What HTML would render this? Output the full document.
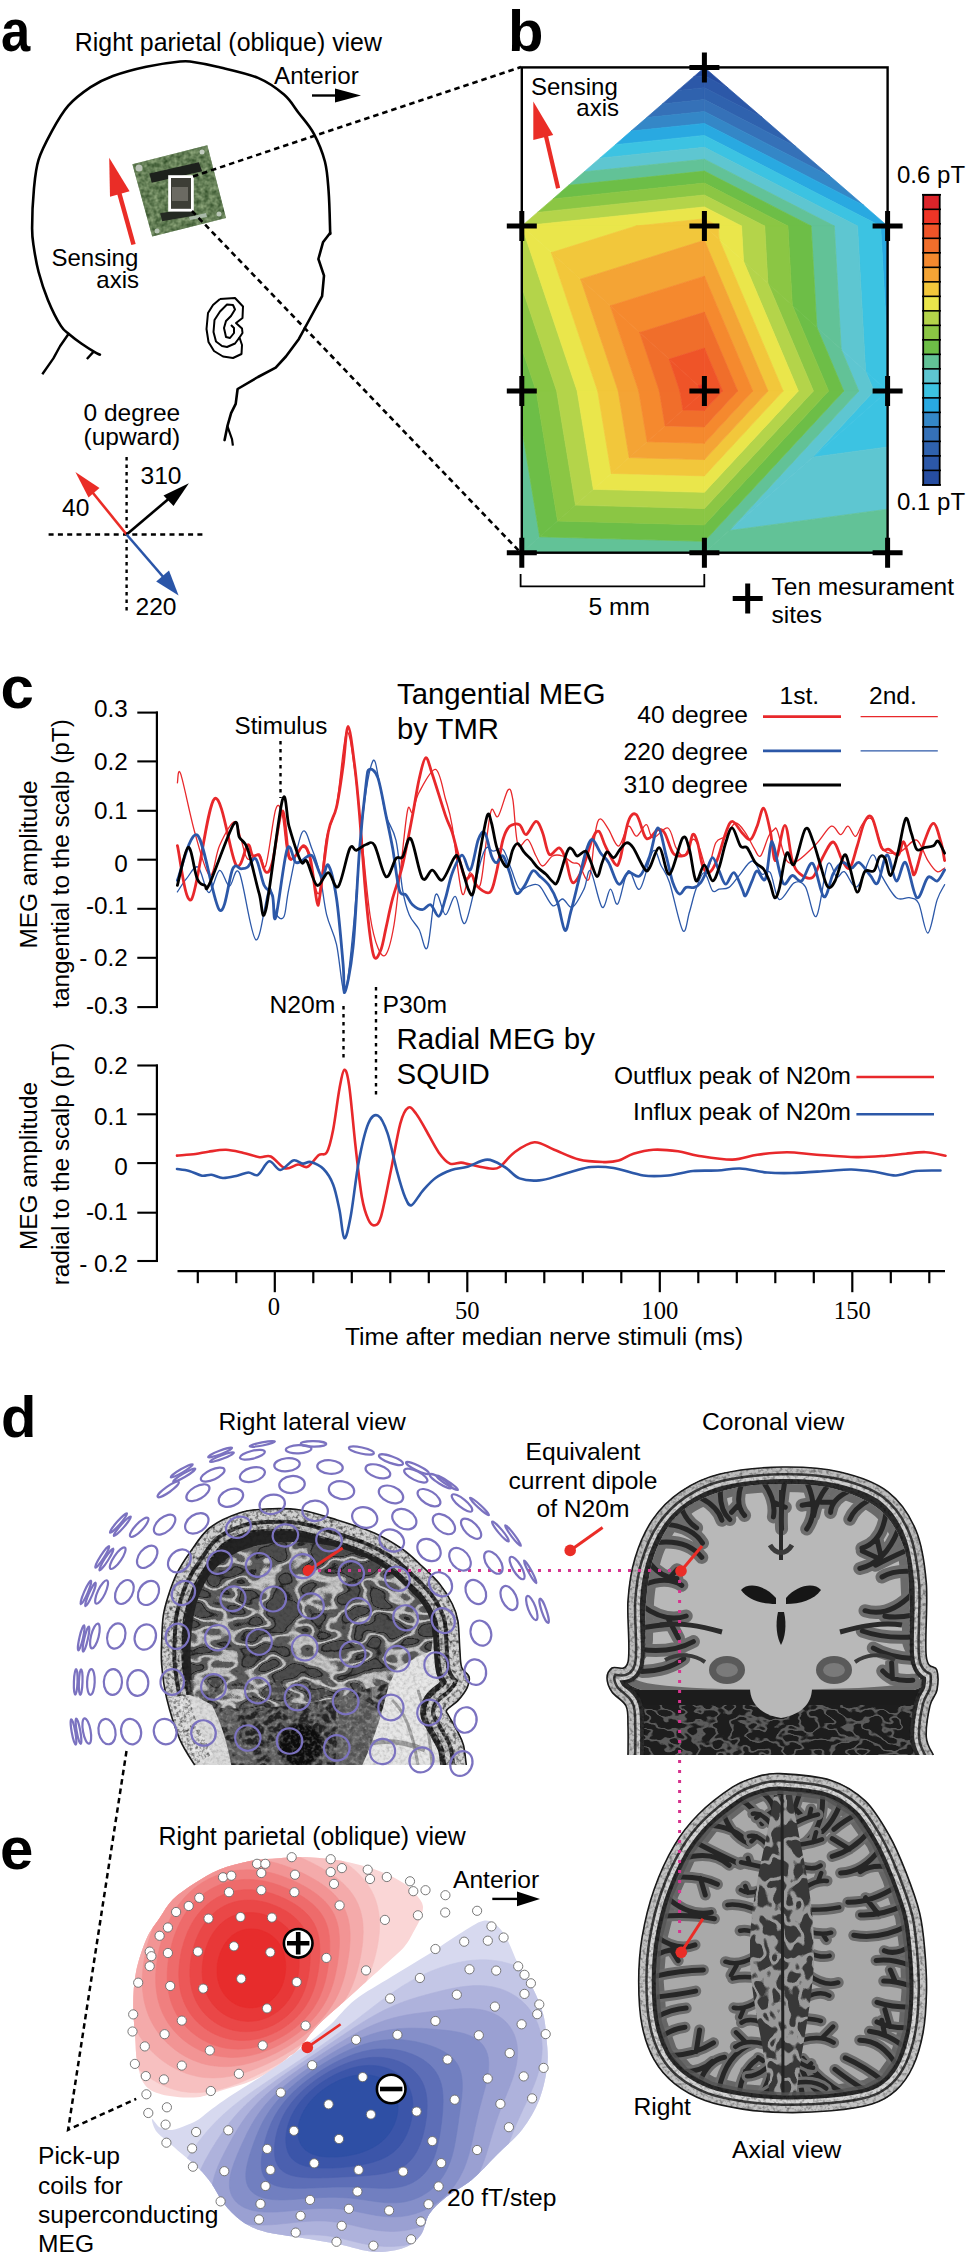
<!DOCTYPE html>
<html><head><meta charset="utf-8"><style>
html,body{margin:0;padding:0;background:#fff;width:969px;height:2262px;overflow:hidden;}
svg{display:block;}
</style></head><body>
<svg width="969" height="2262" viewBox="0 0 969 2262">
<rect width="969" height="2262" fill="#fff"/>
<path d="M99.9,354.7 C99.0,354.2 97.4,353.8 94.3,351.9 C91.2,350.0 85.5,346.4 81.3,343.5 C77.1,340.6 72.6,337.1 69.2,334.2 C65.8,331.3 64.5,331.6 60.9,325.9 C57.3,320.2 51.6,308.9 47.9,299.9 C44.2,290.9 40.9,280.7 38.6,272.0 C36.3,263.3 35.0,255.2 33.9,247.9 C32.8,240.6 32.1,238.1 32.1,228.3 C32.1,218.5 32.8,200.8 33.9,189.3 C35.0,177.9 35.6,169.2 38.6,159.6 C41.6,150.0 46.7,140.7 51.6,131.7 C56.5,122.7 61.8,113.1 68.3,105.7 C74.8,98.3 83.2,92.2 90.6,87.2 C98.0,82.2 103.6,79.4 112.9,76.0 C122.2,72.6 135.1,69.1 146.3,66.7 C157.5,64.3 172.2,62.3 180.0,61.5 C187.8,60.7 186.8,61.1 193.0,62.0 C199.2,62.9 206.4,64.0 217.2,66.7 C228.0,69.4 246.9,73.2 258.0,77.9 C269.1,82.6 277.2,88.7 284.0,94.6 C290.8,100.5 293.9,106.7 298.9,113.2 C303.9,119.7 309.5,125.5 313.8,133.6 C318.1,141.7 322.4,151.9 324.9,161.5 C327.4,171.1 327.7,179.8 328.6,191.2 C329.5,202.6 329.9,223.0 330.1,230.0 C330.4,237.0 330.1,232.5 330.1,233.0" fill="none" stroke="#000" stroke-width="2.6" stroke-linejoin="round" stroke-linecap="round"/>
<polyline points="330.1,233.0 323.0,242.3 318.4,259.0 324.0,275.7 322.1,296.2 310.0,318.5 298.9,338.9 285.9,356.5 275.7,367.7 258.0,377.0 237.6,389.0 235.7,403.9 231.1,413.2 227.4,426.2 224.6,440.1" fill="none" stroke="#000" stroke-width="2.6" stroke-linejoin="round" stroke-linecap="round"/>
<polyline points="227.4,426.2 232,439.2 232.9,445.7" fill="none" stroke="#000" stroke-width="2.2"/>
<polyline points="68.3,334.2 60,346.3 53.4,358.4 42.3,374.2" fill="none" stroke="#000" stroke-width="2.4" stroke-linejoin="round"/>
<polyline points="86.9,359 93.4,351.9" fill="none" stroke="#000" stroke-width="2.4"/>
<polyline points="220.0,299.0 235.0,298.0 243.0,306.5 242.5,318.0 236.0,323.0 242.0,328.5 242.5,333.0 239.5,337.5 242.0,345.0 241.5,354.0 233.0,358.0 223.0,356.5 214.0,351.0 208.5,342.0 206.5,329.0 208.0,313.0 213.0,305.0 220.0,299.0" fill="none" stroke="#000" stroke-width="2" stroke-linejoin="round"/>
<polyline points="239.5,337.5 235.0,343.5 227.0,347.0 222.0,346.0 216.0,341.5 213.5,332.0 214.5,320.0 220.0,311.5 227.0,304.5 233.0,305.0 235.0,309.5 231.0,316.0 226.0,321.0 224.0,328.0 226.0,337.0 230.0,338.0 234.0,333.0 234.0,328.0 231.0,325.0" fill="none" stroke="#000" stroke-width="2" stroke-linejoin="round"/>
<defs><filter id="fchip" x="0" y="0" width="1" height="1" color-interpolation-filters="sRGB"><feTurbulence type="fractalNoise" baseFrequency="0.22" numOctaves="2" seed="5"/><feColorMatrix type="matrix" values="0.9 0 0 0 -0.02  0.85 0 0 0 0.08  0.8 0 0 0 -0.05  0 0 0 0 1"/></filter><clipPath id="cchip"><polygon points="132.4,164.3 207.3,145.2 226,217.9 152.2,236.6"/></clipPath></defs>
<polygon points="132.4,164.3 207.3,145.2 226,217.9 152.2,236.6" fill="#587a50"/>
<g clip-path="url(#cchip)"><rect x="130" y="144" width="98" height="94" filter="url(#fchip)" opacity="0.55"/></g>
<polygon points="149.4,173.6 198.8,162.2 202.2,171.3 151.7,182.7" fill="#1d211c"/>
<polygon points="160.2,213.3 193.1,207.7 195,215.5 162.2,221.3" fill="#242a22"/>
<circle cx="139" cy="168" r="3.5" fill="#b9c2b5"/>
<circle cx="202" cy="152" r="2.5" fill="#c2ccbf"/>
<circle cx="219" cy="214" r="2.5" fill="#b9c6b6"/>
<circle cx="157" cy="231" r="2.5" fill="#b6c3b2"/>
<rect x="170" y="177" width="22" height="33" fill="#3d3e36"/>
<rect x="172" y="187" width="16" height="14" fill="#6b6a62"/>
<polygon points="189,217 206,213 207,217 190,220" fill="#a9b9a8"/>
<rect x="169.6" y="176.6" width="22.8" height="33.6" fill="none" stroke="#fff" stroke-width="2.8"/>
<line x1="193" y1="176.4" x2="521" y2="67" stroke="#000" stroke-width="2.6" stroke-dasharray="5.5,4"/>
<line x1="192" y1="211" x2="521" y2="553" stroke="#000" stroke-width="2.6" stroke-dasharray="5.5,4"/>
<line x1="133.5" y1="244.5" x2="117" y2="185" stroke="#ea2d27" stroke-width="4.5"/>
<polygon points="109.2,157.7 110,196.8 129.6,191.2" fill="#ea2d27"/>
<line x1="312" y1="95.5" x2="340" y2="95.5" stroke="#000" stroke-width="2.4"/>
<polygon points="361,95.5 335,88.5 335,102.5" fill="#000"/>
<line x1="126.6" y1="457" x2="126.6" y2="613" stroke="#000" stroke-width="2.4" stroke-dasharray="3.5,4"/>
<line x1="48.6" y1="534.5" x2="205.4" y2="534.5" stroke="#000" stroke-width="2.4" stroke-dasharray="5,4.3"/>
<line x1="126.6" y1="534.5" x2="91" y2="490.5" stroke="#ea2d27" stroke-width="2.6"/>
<polygon points="75.4,472.1 88.5,497.5 99.5,488" fill="#ea2d27"/>
<line x1="126.6" y1="534.5" x2="172" y2="496" stroke="#000" stroke-width="2.6"/>
<polygon points="188.9,483.3 163.5,495.5 173.5,506" fill="#000"/>
<line x1="126.6" y1="534.5" x2="165" y2="579" stroke="#2a55a8" stroke-width="2.6"/>
<polygon points="178.6,595.4 156.2,581.5 169,570.5" fill="#2a55a8"/>
<polygon points="704.4,67.4 693.5,76.9 704.4,75.7" fill="#264DA1" stroke="#264DA1" stroke-width="0.7" stroke-linejoin="round"/>
<polygon points="704.4,67.4 704.4,75.7 728.1,88.0" fill="#264DA1" stroke="#264DA1" stroke-width="0.7" stroke-linejoin="round"/>
<polygon points="693.5,76.9 677.9,90.4 704.4,87.7 704.4,75.7" fill="#2C58A8" stroke="#2C58A8" stroke-width="0.7" stroke-linejoin="round"/>
<polygon points="704.4,75.7 704.4,87.7 762.1,117.3 728.1,88.0" fill="#2C58A8" stroke="#2C58A8" stroke-width="0.7" stroke-linejoin="round"/>
<polygon points="677.9,90.4 662.3,104.0 704.4,99.6 704.4,87.7" fill="#2F62AE" stroke="#2F62AE" stroke-width="0.7" stroke-linejoin="round"/>
<polygon points="704.4,87.7 704.4,99.6 796.0,146.7 762.1,117.3" fill="#2F62AE" stroke="#2F62AE" stroke-width="0.7" stroke-linejoin="round"/>
<polygon points="662.3,104.0 646.7,117.6 704.4,111.5 704.4,99.6" fill="#3571B8" stroke="#3571B8" stroke-width="0.7" stroke-linejoin="round"/>
<polygon points="704.4,99.6 704.4,111.5 829.9,176.1 796.0,146.7" fill="#3571B8" stroke="#3571B8" stroke-width="0.7" stroke-linejoin="round"/>
<polygon points="646.7,117.6 631.0,131.1 704.4,123.4 704.4,111.5" fill="#3487C7" stroke="#3487C7" stroke-width="0.7" stroke-linejoin="round"/>
<polygon points="704.4,111.5 704.4,123.4 863.9,205.4 829.9,176.1" fill="#3487C7" stroke="#3487C7" stroke-width="0.7" stroke-linejoin="round"/>
<polygon points="631.0,131.1 615.4,144.7 704.4,135.4 704.4,123.4" fill="#29A9E1" stroke="#29A9E1" stroke-width="0.7" stroke-linejoin="round"/>
<polygon points="704.4,123.4 704.4,135.4 880.6,226.0 887.6,226.0 863.9,205.4" fill="#29A9E1" stroke="#29A9E1" stroke-width="0.7" stroke-linejoin="round"/>
<polygon points="880.6,226.0 887.6,226.0 887.6,349.8" fill="#29A9E1" stroke="#29A9E1" stroke-width="0.7" stroke-linejoin="round"/>
<polygon points="615.4,144.7 599.8,158.2 704.4,147.3 704.4,135.4" fill="#3CC3E2" stroke="#3CC3E2" stroke-width="0.7" stroke-linejoin="round"/>
<polygon points="704.4,135.4 704.4,147.3 857.5,226.0 880.6,226.0" fill="#3CC3E2" stroke="#3CC3E2" stroke-width="0.7" stroke-linejoin="round"/>
<polygon points="857.5,226.0 880.6,226.0 887.6,349.8 887.6,391.0 865.6,371.2" fill="#3CC3E2" stroke="#3CC3E2" stroke-width="0.7" stroke-linejoin="round"/>
<polygon points="865.6,371.2 887.6,391.0 874.0,391.0" fill="#3CC3E2" stroke="#3CC3E2" stroke-width="0.7" stroke-linejoin="round"/>
<polygon points="874.0,391.0 887.6,391.0 812.7,457.2" fill="#3CC3E2" stroke="#3CC3E2" stroke-width="0.7" stroke-linejoin="round"/>
<polygon points="887.6,391.0 812.7,457.2 887.6,447.0" fill="#3CC3E2" stroke="#3CC3E2" stroke-width="0.7" stroke-linejoin="round"/>
<polygon points="599.8,158.2 584.2,171.8 704.4,159.2 704.4,147.3" fill="#5EC6D1" stroke="#5EC6D1" stroke-width="0.7" stroke-linejoin="round"/>
<polygon points="704.4,147.3 704.4,159.2 834.3,226.0 857.5,226.0" fill="#5EC6D1" stroke="#5EC6D1" stroke-width="0.7" stroke-linejoin="round"/>
<polygon points="834.3,226.0 857.5,226.0 865.6,371.2 841.2,349.2" fill="#5EC6D1" stroke="#5EC6D1" stroke-width="0.7" stroke-linejoin="round"/>
<polygon points="841.2,349.2 865.6,371.2 874.0,391.0 858.8,391.0" fill="#5EC6D1" stroke="#5EC6D1" stroke-width="0.7" stroke-linejoin="round"/>
<polygon points="521.8,552.7 521.8,552.7 521.8,552.7" fill="#5EC6D1" stroke="#5EC6D1" stroke-width="0.7" stroke-linejoin="round"/>
<polygon points="521.8,552.7 521.8,552.7 521.8,552.7" fill="#5EC6D1" stroke="#5EC6D1" stroke-width="0.7" stroke-linejoin="round"/>
<polygon points="858.8,391.0 874.0,391.0 812.7,457.2 729.4,530.6" fill="#5EC6D1" stroke="#5EC6D1" stroke-width="0.7" stroke-linejoin="round"/>
<polygon points="812.7,457.2 729.4,530.6 887.6,509.2 887.6,447.0" fill="#5EC6D1" stroke="#5EC6D1" stroke-width="0.7" stroke-linejoin="round"/>
<polygon points="584.2,171.8 568.6,185.3 704.4,171.1 704.4,159.2" fill="#62C297" stroke="#62C297" stroke-width="0.7" stroke-linejoin="round"/>
<polygon points="704.4,159.2 704.4,171.1 811.1,226.0 834.3,226.0" fill="#62C297" stroke="#62C297" stroke-width="0.7" stroke-linejoin="round"/>
<polygon points="811.1,226.0 834.3,226.0 841.2,349.2 816.8,327.2" fill="#62C297" stroke="#62C297" stroke-width="0.7" stroke-linejoin="round"/>
<polygon points="816.8,327.2 841.2,349.2 858.8,391.0 843.7,391.0" fill="#62C297" stroke="#62C297" stroke-width="0.7" stroke-linejoin="round"/>
<polygon points="539.7,536.8 521.8,552.7 521.8,428.3" fill="#62C297" stroke="#62C297" stroke-width="0.7" stroke-linejoin="round"/>
<polygon points="539.7,536.8 521.8,552.7 704.4,552.7 704.4,541.3" fill="#62C297" stroke="#62C297" stroke-width="0.7" stroke-linejoin="round"/>
<polygon points="843.7,391.0 858.8,391.0 729.4,530.6 704.4,552.7 704.4,541.3" fill="#62C297" stroke="#62C297" stroke-width="0.7" stroke-linejoin="round"/>
<polygon points="729.4,530.6 704.4,552.7 887.6,552.7 887.6,509.2" fill="#62C297" stroke="#62C297" stroke-width="0.7" stroke-linejoin="round"/>
<polygon points="568.6,185.3 553.0,198.9 704.4,183.1 704.4,171.1" fill="#6DBE47" stroke="#6DBE47" stroke-width="0.7" stroke-linejoin="round"/>
<polygon points="704.4,171.1 704.4,183.1 787.9,226.0 811.1,226.0" fill="#6DBE47" stroke="#6DBE47" stroke-width="0.7" stroke-linejoin="round"/>
<polygon points="536.2,391.0 521.8,391.0 521.8,348.2" fill="#6DBE47" stroke="#6DBE47" stroke-width="0.7" stroke-linejoin="round"/>
<polygon points="787.9,226.0 811.1,226.0 816.8,327.2 792.3,305.2" fill="#6DBE47" stroke="#6DBE47" stroke-width="0.7" stroke-linejoin="round"/>
<polygon points="792.3,305.2 816.8,327.2 843.7,391.0 828.6,391.0" fill="#6DBE47" stroke="#6DBE47" stroke-width="0.7" stroke-linejoin="round"/>
<polygon points="521.8,391.0 536.2,391.0 557.6,521.0 539.7,536.8 521.8,428.3" fill="#6DBE47" stroke="#6DBE47" stroke-width="0.7" stroke-linejoin="round"/>
<polygon points="557.6,521.0 539.7,536.8 704.4,541.3 704.4,524.9" fill="#6DBE47" stroke="#6DBE47" stroke-width="0.7" stroke-linejoin="round"/>
<polygon points="828.6,391.0 843.7,391.0 704.4,541.3 704.4,524.9" fill="#6DBE47" stroke="#6DBE47" stroke-width="0.7" stroke-linejoin="round"/>
<polygon points="553.0,198.9 537.4,212.4 704.4,195.0 704.4,183.1" fill="#8BC644" stroke="#8BC644" stroke-width="0.7" stroke-linejoin="round"/>
<polygon points="704.4,183.1 704.4,195.0 764.7,226.0 787.9,226.0" fill="#8BC644" stroke="#8BC644" stroke-width="0.7" stroke-linejoin="round"/>
<polygon points="556.7,391.0 536.2,391.0 521.8,348.2 521.8,287.1" fill="#8BC644" stroke="#8BC644" stroke-width="0.7" stroke-linejoin="round"/>
<polygon points="764.7,226.0 787.9,226.0 792.3,305.2 767.9,283.2" fill="#8BC644" stroke="#8BC644" stroke-width="0.7" stroke-linejoin="round"/>
<polygon points="767.9,283.2 792.3,305.2 828.6,391.0 813.4,391.0" fill="#8BC644" stroke="#8BC644" stroke-width="0.7" stroke-linejoin="round"/>
<polygon points="536.2,391.0 556.7,391.0 575.5,505.1 557.6,521.0" fill="#8BC644" stroke="#8BC644" stroke-width="0.7" stroke-linejoin="round"/>
<polygon points="575.5,505.1 557.6,521.0 704.4,524.9 704.4,508.6" fill="#8BC644" stroke="#8BC644" stroke-width="0.7" stroke-linejoin="round"/>
<polygon points="813.4,391.0 828.6,391.0 704.4,524.9 704.4,508.6" fill="#8BC644" stroke="#8BC644" stroke-width="0.7" stroke-linejoin="round"/>
<polygon points="537.4,212.4 521.8,226.0 521.8,226.0 704.4,206.9 704.4,195.0" fill="#B4D44A" stroke="#B4D44A" stroke-width="0.7" stroke-linejoin="round"/>
<polygon points="704.4,195.0 704.4,206.9 741.5,226.0 764.7,226.0" fill="#B4D44A" stroke="#B4D44A" stroke-width="0.7" stroke-linejoin="round"/>
<polygon points="521.8,226.0 521.8,226.0 521.8,226.0" fill="#B4D44A" stroke="#B4D44A" stroke-width="0.7" stroke-linejoin="round"/>
<polygon points="521.8,226.0 521.8,226.0 577.2,391.0 556.7,391.0 521.8,287.1" fill="#B4D44A" stroke="#B4D44A" stroke-width="0.7" stroke-linejoin="round"/>
<polygon points="741.5,226.0 764.7,226.0 767.9,283.2 743.5,261.2" fill="#B4D44A" stroke="#B4D44A" stroke-width="0.7" stroke-linejoin="round"/>
<polygon points="743.5,261.2 767.9,283.2 813.4,391.0 798.3,391.0" fill="#B4D44A" stroke="#B4D44A" stroke-width="0.7" stroke-linejoin="round"/>
<polygon points="556.7,391.0 577.2,391.0 593.4,489.3 575.5,505.1" fill="#B4D44A" stroke="#B4D44A" stroke-width="0.7" stroke-linejoin="round"/>
<polygon points="593.4,489.3 575.5,505.1 704.4,508.6 704.4,492.3" fill="#B4D44A" stroke="#B4D44A" stroke-width="0.7" stroke-linejoin="round"/>
<polygon points="798.3,391.0 813.4,391.0 704.4,508.6 704.4,492.3" fill="#B4D44A" stroke="#B4D44A" stroke-width="0.7" stroke-linejoin="round"/>
<polygon points="521.8,226.0 521.8,226.0 635.9,226.0 704.4,218.8 704.4,206.9" fill="#EAE64B" stroke="#EAE64B" stroke-width="0.7" stroke-linejoin="round"/>
<polygon points="704.4,206.9 704.4,218.8 718.3,226.0 741.5,226.0" fill="#EAE64B" stroke="#EAE64B" stroke-width="0.7" stroke-linejoin="round"/>
<polygon points="521.8,226.0 635.9,226.0 551.3,252.6" fill="#EAE64B" stroke="#EAE64B" stroke-width="0.7" stroke-linejoin="round"/>
<polygon points="521.8,226.0 551.3,252.6 597.7,391.0 577.2,391.0 521.8,226.0" fill="#EAE64B" stroke="#EAE64B" stroke-width="0.7" stroke-linejoin="round"/>
<polygon points="718.3,226.0 741.5,226.0 743.5,261.2 719.1,239.2" fill="#EAE64B" stroke="#EAE64B" stroke-width="0.7" stroke-linejoin="round"/>
<polygon points="719.1,239.2 743.5,261.2 798.3,391.0 783.1,391.0" fill="#EAE64B" stroke="#EAE64B" stroke-width="0.7" stroke-linejoin="round"/>
<polygon points="577.2,391.0 597.7,391.0 611.3,473.4 593.4,489.3" fill="#EAE64B" stroke="#EAE64B" stroke-width="0.7" stroke-linejoin="round"/>
<polygon points="611.3,473.4 593.4,489.3 704.4,492.3 704.4,475.9" fill="#EAE64B" stroke="#EAE64B" stroke-width="0.7" stroke-linejoin="round"/>
<polygon points="783.1,391.0 798.3,391.0 704.4,492.3 704.4,475.9" fill="#EAE64B" stroke="#EAE64B" stroke-width="0.7" stroke-linejoin="round"/>
<polygon points="635.9,226.0 704.4,226.0 704.4,218.8" fill="#F2C73B" stroke="#F2C73B" stroke-width="0.7" stroke-linejoin="round"/>
<polygon points="704.4,218.8 704.4,226.0 718.3,226.0" fill="#F2C73B" stroke="#F2C73B" stroke-width="0.7" stroke-linejoin="round"/>
<polygon points="635.9,226.0 704.4,226.0 704.4,240.3 580.7,279.2 551.3,252.6" fill="#F2C73B" stroke="#F2C73B" stroke-width="0.7" stroke-linejoin="round"/>
<polygon points="551.3,252.6 580.7,279.2 618.2,391.0 597.7,391.0" fill="#F2C73B" stroke="#F2C73B" stroke-width="0.7" stroke-linejoin="round"/>
<polygon points="704.4,226.0 718.3,226.0 719.1,239.2" fill="#F2C73B" stroke="#F2C73B" stroke-width="0.7" stroke-linejoin="round"/>
<polygon points="704.4,226.0 719.1,239.2 783.1,391.0 768.0,391.0 704.4,240.3" fill="#F2C73B" stroke="#F2C73B" stroke-width="0.7" stroke-linejoin="round"/>
<polygon points="597.7,391.0 618.2,391.0 629.2,457.6 611.3,473.4" fill="#F2C73B" stroke="#F2C73B" stroke-width="0.7" stroke-linejoin="round"/>
<polygon points="629.2,457.6 611.3,473.4 704.4,475.9 704.4,459.6" fill="#F2C73B" stroke="#F2C73B" stroke-width="0.7" stroke-linejoin="round"/>
<polygon points="768.0,391.0 783.1,391.0 704.4,475.9 704.4,459.6" fill="#F2C73B" stroke="#F2C73B" stroke-width="0.7" stroke-linejoin="round"/>
<polygon points="704.4,240.3 704.4,276.2 610.2,305.8 580.7,279.2" fill="#F4A435" stroke="#F4A435" stroke-width="0.7" stroke-linejoin="round"/>
<polygon points="580.7,279.2 610.2,305.8 638.7,391.0 618.2,391.0" fill="#F4A435" stroke="#F4A435" stroke-width="0.7" stroke-linejoin="round"/>
<polygon points="768.0,391.0 752.8,391.0 704.4,276.2 704.4,240.3" fill="#F4A435" stroke="#F4A435" stroke-width="0.7" stroke-linejoin="round"/>
<polygon points="618.2,391.0 638.7,391.0 647.1,441.7 629.2,457.6" fill="#F4A435" stroke="#F4A435" stroke-width="0.7" stroke-linejoin="round"/>
<polygon points="647.1,441.7 629.2,457.6 704.4,459.6 704.4,443.3" fill="#F4A435" stroke="#F4A435" stroke-width="0.7" stroke-linejoin="round"/>
<polygon points="752.8,391.0 768.0,391.0 704.4,459.6 704.4,443.3" fill="#F4A435" stroke="#F4A435" stroke-width="0.7" stroke-linejoin="round"/>
<polygon points="704.4,276.2 704.4,312.1 639.6,332.5 610.2,305.8" fill="#F5892E" stroke="#F5892E" stroke-width="0.7" stroke-linejoin="round"/>
<polygon points="610.2,305.8 639.6,332.5 659.3,391.0 638.7,391.0" fill="#F5892E" stroke="#F5892E" stroke-width="0.7" stroke-linejoin="round"/>
<polygon points="752.8,391.0 737.7,391.0 704.4,312.1 704.4,276.2" fill="#F5892E" stroke="#F5892E" stroke-width="0.7" stroke-linejoin="round"/>
<polygon points="638.7,391.0 659.3,391.0 665.0,425.9 647.1,441.7" fill="#F5892E" stroke="#F5892E" stroke-width="0.7" stroke-linejoin="round"/>
<polygon points="665.0,425.9 647.1,441.7 704.4,443.3 704.4,426.9" fill="#F5892E" stroke="#F5892E" stroke-width="0.7" stroke-linejoin="round"/>
<polygon points="737.7,391.0 752.8,391.0 704.4,443.3 704.4,426.9" fill="#F5892E" stroke="#F5892E" stroke-width="0.7" stroke-linejoin="round"/>
<polygon points="704.4,312.1 704.4,348.0 669.1,359.1 639.6,332.5" fill="#F06E2B" stroke="#F06E2B" stroke-width="0.7" stroke-linejoin="round"/>
<polygon points="639.6,332.5 669.1,359.1 679.8,391.0 659.3,391.0" fill="#F06E2B" stroke="#F06E2B" stroke-width="0.7" stroke-linejoin="round"/>
<polygon points="737.7,391.0 722.6,391.0 704.4,348.0 704.4,312.1" fill="#F06E2B" stroke="#F06E2B" stroke-width="0.7" stroke-linejoin="round"/>
<polygon points="659.3,391.0 679.8,391.0 682.9,410.0 665.0,425.9" fill="#F06E2B" stroke="#F06E2B" stroke-width="0.7" stroke-linejoin="round"/>
<polygon points="682.9,410.0 665.0,425.9 704.4,426.9 704.4,410.6" fill="#F06E2B" stroke="#F06E2B" stroke-width="0.7" stroke-linejoin="round"/>
<polygon points="722.6,391.0 737.7,391.0 704.4,426.9 704.4,410.6" fill="#F06E2B" stroke="#F06E2B" stroke-width="0.7" stroke-linejoin="round"/>
<polygon points="704.4,348.0 704.4,383.8 698.5,385.7 669.1,359.1" fill="#EF5428" stroke="#EF5428" stroke-width="0.7" stroke-linejoin="round"/>
<polygon points="669.1,359.1 698.5,385.7 700.3,391.0 679.8,391.0" fill="#EF5428" stroke="#EF5428" stroke-width="0.7" stroke-linejoin="round"/>
<polygon points="722.6,391.0 707.4,391.0 704.4,383.8 704.4,348.0" fill="#EF5428" stroke="#EF5428" stroke-width="0.7" stroke-linejoin="round"/>
<polygon points="679.8,391.0 700.3,391.0 700.8,394.2 682.9,410.0" fill="#EF5428" stroke="#EF5428" stroke-width="0.7" stroke-linejoin="round"/>
<polygon points="700.8,394.2 682.9,410.0 704.4,410.6 704.4,394.3" fill="#EF5428" stroke="#EF5428" stroke-width="0.7" stroke-linejoin="round"/>
<polygon points="707.4,391.0 722.6,391.0 704.4,410.6 704.4,394.3" fill="#EF5428" stroke="#EF5428" stroke-width="0.7" stroke-linejoin="round"/>
<polygon points="704.4,383.8 704.4,391.0 698.5,385.7" fill="#EE3526" stroke="#EE3526" stroke-width="0.7" stroke-linejoin="round"/>
<polygon points="698.5,385.7 704.4,391.0 700.3,391.0" fill="#EE3526" stroke="#EE3526" stroke-width="0.7" stroke-linejoin="round"/>
<polygon points="707.4,391.0 704.4,391.0 704.4,383.8" fill="#EE3526" stroke="#EE3526" stroke-width="0.7" stroke-linejoin="round"/>
<polygon points="700.3,391.0 704.4,391.0 700.8,394.2" fill="#EE3526" stroke="#EE3526" stroke-width="0.7" stroke-linejoin="round"/>
<polygon points="704.4,391.0 700.8,394.2 704.4,394.3" fill="#EE3526" stroke="#EE3526" stroke-width="0.7" stroke-linejoin="round"/>
<polygon points="704.4,391.0 707.4,391.0 704.4,394.3" fill="#EE3526" stroke="#EE3526" stroke-width="0.7" stroke-linejoin="round"/>
<rect x="521.8" y="67.4" width="365.8" height="485.3" fill="none" stroke="#000" stroke-width="2.4"/>
<path d="M689.4,67.4H719.4M704.4,52.4V82.4" stroke="#000" stroke-width="5.0" fill="none"/>
<path d="M506.8,226.0H536.8M521.8,211.0V241.0" stroke="#000" stroke-width="5.0" fill="none"/>
<path d="M689.4,226.0H719.4M704.4,211.0V241.0" stroke="#000" stroke-width="5.0" fill="none"/>
<path d="M872.6,226.0H902.6M887.6,211.0V241.0" stroke="#000" stroke-width="5.0" fill="none"/>
<path d="M506.8,391.0H536.8M521.8,376.0V406.0" stroke="#000" stroke-width="5.0" fill="none"/>
<path d="M689.4,391.0H719.4M704.4,376.0V406.0" stroke="#000" stroke-width="5.0" fill="none"/>
<path d="M872.6,391.0H902.6M887.6,376.0V406.0" stroke="#000" stroke-width="5.0" fill="none"/>
<path d="M506.8,552.7H536.8M521.8,537.7V567.7" stroke="#000" stroke-width="5.0" fill="none"/>
<path d="M689.4,552.7H719.4M704.4,537.7V567.7" stroke="#000" stroke-width="5.0" fill="none"/>
<path d="M872.6,552.7H902.6M887.6,537.7V567.7" stroke="#000" stroke-width="5.0" fill="none"/>
<path d="M732.7,598.5H762.7M747.7,583.5V613.5" stroke="#000" stroke-width="5.0" fill="none"/>
<line x1="558.1" y1="188.2" x2="545" y2="132" stroke="#ea2d27" stroke-width="4.2"/>
<polygon points="533.3,101.5 533.3,140 553.2,135" fill="#ea2d27"/>
<rect x="923.2" y="470.39" width="16.5" height="14.50" fill="#264DA1"/>
<rect x="923.2" y="455.89" width="16.5" height="14.50" fill="#2C58A8"/>
<rect x="923.2" y="441.38" width="16.5" height="14.50" fill="#2F62AE"/>
<rect x="923.2" y="426.88" width="16.5" height="14.50" fill="#3571B8"/>
<rect x="923.2" y="412.38" width="16.5" height="14.50" fill="#3487C7"/>
<rect x="923.2" y="397.87" width="16.5" height="14.50" fill="#29A9E1"/>
<rect x="923.2" y="383.37" width="16.5" height="14.50" fill="#3CC3E2"/>
<rect x="923.2" y="368.86" width="16.5" height="14.50" fill="#5EC6D1"/>
<rect x="923.2" y="354.36" width="16.5" height="14.50" fill="#62C297"/>
<rect x="923.2" y="339.85" width="16.5" height="14.50" fill="#6DBE47"/>
<rect x="923.2" y="325.35" width="16.5" height="14.50" fill="#8BC644"/>
<rect x="923.2" y="310.84" width="16.5" height="14.50" fill="#B4D44A"/>
<rect x="923.2" y="296.33" width="16.5" height="14.50" fill="#EAE64B"/>
<rect x="923.2" y="281.83" width="16.5" height="14.50" fill="#F2C73B"/>
<rect x="923.2" y="267.32" width="16.5" height="14.50" fill="#F4A435"/>
<rect x="923.2" y="252.82" width="16.5" height="14.50" fill="#F5892E"/>
<rect x="923.2" y="238.31" width="16.5" height="14.50" fill="#F06E2B"/>
<rect x="923.2" y="223.81" width="16.5" height="14.50" fill="#EF5428"/>
<rect x="923.2" y="209.31" width="16.5" height="14.50" fill="#EE3526"/>
<rect x="923.2" y="194.80" width="16.5" height="14.50" fill="#DC242A"/>
<line x1="922" y1="194.80" x2="941" y2="194.80" stroke="#000" stroke-width="1.6"/>
<line x1="922" y1="209.31" x2="941" y2="209.31" stroke="#000" stroke-width="1.6"/>
<line x1="922" y1="223.81" x2="941" y2="223.81" stroke="#000" stroke-width="1.6"/>
<line x1="922" y1="238.31" x2="941" y2="238.31" stroke="#000" stroke-width="1.6"/>
<line x1="922" y1="252.82" x2="941" y2="252.82" stroke="#000" stroke-width="1.6"/>
<line x1="922" y1="267.32" x2="941" y2="267.32" stroke="#000" stroke-width="1.6"/>
<line x1="922" y1="281.83" x2="941" y2="281.83" stroke="#000" stroke-width="1.6"/>
<line x1="922" y1="296.34" x2="941" y2="296.34" stroke="#000" stroke-width="1.6"/>
<line x1="922" y1="310.84" x2="941" y2="310.84" stroke="#000" stroke-width="1.6"/>
<line x1="922" y1="325.35" x2="941" y2="325.35" stroke="#000" stroke-width="1.6"/>
<line x1="922" y1="339.85" x2="941" y2="339.85" stroke="#000" stroke-width="1.6"/>
<line x1="922" y1="354.36" x2="941" y2="354.36" stroke="#000" stroke-width="1.6"/>
<line x1="922" y1="368.86" x2="941" y2="368.86" stroke="#000" stroke-width="1.6"/>
<line x1="922" y1="383.37" x2="941" y2="383.37" stroke="#000" stroke-width="1.6"/>
<line x1="922" y1="397.87" x2="941" y2="397.87" stroke="#000" stroke-width="1.6"/>
<line x1="922" y1="412.38" x2="941" y2="412.38" stroke="#000" stroke-width="1.6"/>
<line x1="922" y1="426.88" x2="941" y2="426.88" stroke="#000" stroke-width="1.6"/>
<line x1="922" y1="441.38" x2="941" y2="441.38" stroke="#000" stroke-width="1.6"/>
<line x1="922" y1="455.89" x2="941" y2="455.89" stroke="#000" stroke-width="1.6"/>
<line x1="922" y1="470.39" x2="941" y2="470.39" stroke="#000" stroke-width="1.6"/>
<line x1="922" y1="484.90" x2="941" y2="484.90" stroke="#000" stroke-width="1.6"/>
<rect x="923.2" y="194.80" width="16.5" height="290.10" fill="none" stroke="#000" stroke-width="1.8"/>
<polyline points="520.6,574 520.6,586.4 704.3,586.4 704.3,574" fill="none" stroke="#000" stroke-width="1.8"/>
<text x="0.5" y="708.2" font-size="60.0" font-weight="bold" font-family="'Liberation Sans',sans-serif">c</text>
<path d="M156.9,711.6V1008.1" stroke="#000" stroke-width="2.2" fill="none"/>
<path d="M137.3,712.6H157.9" stroke="#000" stroke-width="2.1"/>
<text x="127.8" y="717.3" font-size="24.3" text-anchor="end" font-family="'Liberation Sans',sans-serif">0.3</text>
<path d="M137.3,761.4H157.9" stroke="#000" stroke-width="2.1"/>
<text x="127.8" y="770.3" font-size="24.3" text-anchor="end" font-family="'Liberation Sans',sans-serif">0.2</text>
<path d="M137.3,810.8H157.9" stroke="#000" stroke-width="2.1"/>
<text x="127.8" y="819.0" font-size="24.3" text-anchor="end" font-family="'Liberation Sans',sans-serif">0.1</text>
<path d="M137.3,859.7H157.9" stroke="#000" stroke-width="2.1"/>
<text x="127.8" y="872.0" font-size="24.3" text-anchor="end" font-family="'Liberation Sans',sans-serif">0</text>
<path d="M137.3,908.8H157.9" stroke="#000" stroke-width="2.1"/>
<text x="127.8" y="913.7" font-size="24.3" text-anchor="end" font-family="'Liberation Sans',sans-serif">-0.1</text>
<path d="M137.3,957.8H157.9" stroke="#000" stroke-width="2.1"/>
<text x="127.8" y="965.6" font-size="24.3" text-anchor="end" font-family="'Liberation Sans',sans-serif">- 0.2</text>
<path d="M137.3,1007.1H157.9" stroke="#000" stroke-width="2.1"/>
<text x="127.8" y="1014.3" font-size="24.3" text-anchor="end" font-family="'Liberation Sans',sans-serif">-0.3</text>
<path d="M156.9,1064.5V1262" stroke="#000" stroke-width="2.2" fill="none"/>
<path d="M137.3,1065.5H157.9" stroke="#000" stroke-width="2.1"/>
<text x="127.8" y="1073.8" font-size="24.3" text-anchor="end" font-family="'Liberation Sans',sans-serif">0.2</text>
<path d="M137.3,1114.3H157.9" stroke="#000" stroke-width="2.1"/>
<text x="127.8" y="1125.0" font-size="24.3" text-anchor="end" font-family="'Liberation Sans',sans-serif">0.1</text>
<path d="M137.3,1163.1H157.9" stroke="#000" stroke-width="2.1"/>
<text x="127.8" y="1174.7" font-size="24.3" text-anchor="end" font-family="'Liberation Sans',sans-serif">0</text>
<path d="M137.3,1212.7H157.9" stroke="#000" stroke-width="2.1"/>
<text x="127.8" y="1219.5" font-size="24.3" text-anchor="end" font-family="'Liberation Sans',sans-serif">-0.1</text>
<path d="M137.3,1261.0H157.9" stroke="#000" stroke-width="2.1"/>
<text x="127.8" y="1271.8" font-size="24.3" text-anchor="end" font-family="'Liberation Sans',sans-serif">- 0.2</text>
<text transform="translate(37,864.5) rotate(-90)" text-anchor="middle" font-size="24.4" font-family="'Liberation Sans',sans-serif">MEG amplitude</text>
<text transform="translate(68.5,863.5) rotate(-90)" text-anchor="middle" font-size="24.4" font-family="'Liberation Sans',sans-serif">tangential to the scalp (pT)</text>
<text transform="translate(37,1166) rotate(-90)" text-anchor="middle" font-size="24.4" font-family="'Liberation Sans',sans-serif">MEG amplitude</text>
<text transform="translate(68.5,1164) rotate(-90)" text-anchor="middle" font-size="24.4" font-family="'Liberation Sans',sans-serif">radial to the scalp (pT)</text>
<path d="M177.5,1271.2H945" stroke="#000" stroke-width="2.2" fill="none"/>
<path d="M197.8,1270.5V1283.2" stroke="#000" stroke-width="2.2"/>
<path d="M236.3,1270.5V1283.2" stroke="#000" stroke-width="2.2"/>
<path d="M274.8,1270.5V1292.2" stroke="#000" stroke-width="2.2"/>
<path d="M313.3,1270.5V1283.2" stroke="#000" stroke-width="2.2"/>
<path d="M351.8,1270.5V1283.2" stroke="#000" stroke-width="2.2"/>
<path d="M390.3,1270.5V1283.2" stroke="#000" stroke-width="2.2"/>
<path d="M428.8,1270.5V1283.2" stroke="#000" stroke-width="2.2"/>
<path d="M467.3,1270.5V1292.2" stroke="#000" stroke-width="2.2"/>
<path d="M505.8,1270.5V1283.2" stroke="#000" stroke-width="2.2"/>
<path d="M544.3,1270.5V1283.2" stroke="#000" stroke-width="2.2"/>
<path d="M582.8,1270.5V1283.2" stroke="#000" stroke-width="2.2"/>
<path d="M621.3,1270.5V1283.2" stroke="#000" stroke-width="2.2"/>
<path d="M659.8,1270.5V1292.2" stroke="#000" stroke-width="2.2"/>
<path d="M698.3,1270.5V1283.2" stroke="#000" stroke-width="2.2"/>
<path d="M736.8,1270.5V1283.2" stroke="#000" stroke-width="2.2"/>
<path d="M775.3,1270.5V1283.2" stroke="#000" stroke-width="2.2"/>
<path d="M813.8,1270.5V1283.2" stroke="#000" stroke-width="2.2"/>
<path d="M852.3,1270.5V1292.2" stroke="#000" stroke-width="2.2"/>
<path d="M890.8,1270.5V1283.2" stroke="#000" stroke-width="2.2"/>
<path d="M929.3,1270.5V1283.2" stroke="#000" stroke-width="2.2"/>
<text x="274.0" y="1315.2" font-size="24.6" text-anchor="middle" font-family="'Liberation Serif',serif">0</text>
<text x="467.3" y="1319.2" font-size="24.6" text-anchor="middle" font-family="'Liberation Serif',serif">50</text>
<text x="659.8" y="1319.2" font-size="24.6" text-anchor="middle" font-family="'Liberation Serif',serif">100</text>
<text x="852.3" y="1319.2" font-size="24.6" text-anchor="middle" font-family="'Liberation Serif',serif">150</text>
<text x="345.0" y="1345.2" font-size="24.6" font-family="'Liberation Sans',sans-serif">Time after median nerve stimuli (ms)</text>
<path d="M280.5,741V798" stroke="#000" stroke-width="2.4" stroke-dasharray="3.5,4.5"/>
<path d="M343.5,1006V1058" stroke="#000" stroke-width="2.4" stroke-dasharray="3.5,4.5"/>
<path d="M376,987V1096" stroke="#000" stroke-width="2.4" stroke-dasharray="3.5,4.5"/>
<path d="M177.4,782.9 C177.9,781.4 177.8,765.6 180.7,773.9 C183.6,782.2 190.0,815.6 194.8,832.5 C199.6,849.4 205.5,873.2 209.6,875.4 C213.7,877.6 215.4,854.7 219.5,845.7 C223.6,836.8 230.8,822.8 234.4,821.7 C238.0,820.6 238.8,832.8 241.0,839.0 C243.2,845.2 244.6,856.4 247.6,858.9 C250.6,861.4 256.2,852.8 259.2,853.9 C262.2,855.0 263.1,872.9 265.8,865.5 C268.6,858.1 272.9,817.8 275.7,809.4 C278.4,801.0 280.1,806.9 282.3,815.1 C284.5,823.4 285.6,853.5 288.9,858.9 C292.2,864.3 298.8,847.8 302.1,847.3 C305.4,846.8 305.9,847.9 308.7,855.6 C311.4,863.3 315.6,896.7 318.6,893.6 C321.6,890.5 323.6,851.6 326.6,837.0 C329.6,822.4 333.2,823.3 336.5,806.0 C339.8,788.7 343.4,739.0 346.4,733.0 C349.4,727.0 352.1,752.2 354.7,770.0 C357.3,787.8 359.4,815.8 362.0,840.0 C364.6,864.2 367.3,897.0 370.0,915.0 C372.7,933.0 375.3,941.5 378.0,948.0 C380.7,954.5 383.3,958.1 386.0,954.3 C388.7,950.5 391.6,939.0 394.0,925.0 C396.4,911.0 398.2,889.1 400.5,870.0 C402.8,850.9 405.5,820.2 407.5,810.6 C409.5,801.0 410.6,815.3 412.5,812.3 C414.4,809.3 415.1,799.6 419.0,792.5 C422.9,785.4 431.2,768.3 435.6,769.4 C440.0,770.5 442.8,789.6 445.5,799.0 C448.2,808.4 449.4,809.8 452.1,825.5 C454.9,841.2 459.0,885.4 462.0,893.2 C465.0,901.1 467.0,873.8 470.0,872.6 C473.0,871.4 477.1,891.3 479.9,885.8 C482.6,880.3 484.6,852.2 486.5,839.5 C488.4,826.8 489.6,813.6 491.5,809.8 C493.4,805.9 495.4,819.7 498.1,816.4 C500.9,813.1 505.5,792.8 508.0,790.0 C510.5,787.2 511.2,790.8 512.9,799.9 C514.5,809.0 515.4,837.9 517.9,844.5 C520.4,851.1 524.8,837.6 527.8,839.5 C530.8,841.4 533.5,851.6 536.0,856.0 C538.5,860.4 539.9,866.0 542.7,866.0 C545.5,866.0 549.3,857.7 552.6,856.0 C555.9,854.3 559.2,854.9 562.5,856.0 C565.8,857.1 569.6,861.3 572.4,862.7 C575.1,864.1 576.2,861.5 579.0,864.3 C581.8,867.0 586.1,884.7 588.9,879.2 C591.6,873.7 593.6,841.3 595.5,831.3 C597.4,821.2 598.2,819.2 600.4,818.9 C602.6,818.6 605.7,825.1 608.7,829.6 C611.7,834.1 615.3,846.7 618.6,846.1 C621.9,845.5 625.3,827.9 628.3,826.3 C631.3,824.6 633.5,836.5 636.5,836.2 C639.5,835.9 643.6,824.4 646.4,824.7 C649.1,825.0 649.4,837.4 653.0,837.9 C656.6,838.4 664.0,826.4 667.9,828.0 C671.8,829.6 673.4,843.1 676.1,847.8 C678.9,852.5 681.6,857.4 684.4,856.0 C687.2,854.6 690.2,840.9 692.7,839.5 C695.2,838.1 696.8,842.8 699.3,847.8 C701.8,852.8 704.8,870.1 707.5,869.3 C710.2,868.5 712.8,848.3 715.8,842.8 C718.8,837.3 722.4,839.5 725.7,836.2 C729.0,832.9 732.3,823.5 735.6,823.0 C738.9,822.5 742.5,828.8 745.5,832.9 C748.5,837.0 751.3,843.9 753.8,847.8 C756.3,851.6 757.9,857.9 760.4,856.0 C762.9,854.1 766.3,840.6 768.6,836.2 C770.9,831.8 772.5,830.5 774.0,829.6 C775.5,828.7 775.3,825.7 777.4,830.9 C779.5,836.1 783.3,855.6 786.7,860.6 C790.1,865.6 793.0,863.4 797.9,860.6 C802.8,857.8 810.8,849.6 816.4,843.9 C822.0,838.2 827.3,827.8 831.3,826.2 C835.3,824.7 837.8,834.6 840.6,834.6 C843.4,834.6 845.5,825.9 848.0,826.2 C850.5,826.5 853.0,836.9 855.5,836.4 C858.0,835.9 860.1,826.2 862.9,823.4 C865.7,820.6 868.8,815.4 872.2,819.7 C875.6,824.0 879.3,843.8 883.3,849.4 C887.3,855.0 892.9,853.2 896.3,853.2 C899.7,853.2 900.4,851.6 903.8,849.4 C907.2,847.2 912.8,838.3 916.8,840.2 C920.8,842.1 924.5,855.4 927.9,860.6 C931.3,865.9 934.4,870.5 937.2,871.7 C940.0,872.9 943.4,868.6 944.6,868.0" fill="none" stroke="#e8282b" stroke-width="1.3" stroke-linejoin="round" stroke-linecap="round"/>
<path d="M177.4,891.9 C178.9,889.7 183.1,882.8 186.5,878.7 C189.9,874.6 194.4,864.8 198.1,867.1 C201.8,869.4 205.2,892.2 208.8,892.7 C212.4,893.2 216.1,871.5 219.5,870.4 C222.9,869.3 226.1,885.7 229.4,886.1 C232.7,886.5 235.0,864.0 239.4,872.9 C243.8,881.8 250.9,937.2 255.9,939.8 C260.9,942.4 265.8,893.0 269.1,888.6 C272.4,884.2 273.2,908.7 275.7,913.4 C278.2,918.1 281.7,920.8 283.9,916.7 C286.1,912.6 285.9,902.6 288.9,888.6 C291.9,874.6 298.2,839.1 302.1,832.5 C306.0,825.9 309.0,841.9 312.0,849.0 C315.0,856.1 317.6,864.0 320.0,875.0 C322.4,886.0 323.9,903.1 326.6,914.7 C329.4,926.3 333.5,931.5 336.5,944.4 C339.5,957.3 342.1,994.5 344.8,992.3 C347.6,990.1 350.0,960.7 353.0,931.2 C356.0,901.8 359.6,844.0 362.9,815.6 C366.2,787.2 370.1,766.6 372.8,761.1 C375.6,755.6 377.2,773.5 379.4,782.6 C381.6,791.7 383.2,806.0 386.0,815.6 C388.8,825.2 393.2,828.0 396.0,840.4 C398.8,852.8 400.4,877.5 402.6,889.9 C404.8,902.3 406.4,908.1 409.2,914.7 C411.9,921.3 416.1,924.0 419.1,929.5 C422.1,935.0 424.6,953.5 427.3,947.7 C430.1,941.9 432.6,900.3 435.6,894.8 C438.6,889.3 442.2,914.4 445.5,914.7 C448.8,915.0 452.1,895.1 455.4,896.5 C458.7,897.9 461.2,928.3 465.3,922.9 C469.4,917.5 476.4,876.8 479.9,864.3 C483.4,851.8 484.3,850.0 486.5,847.8 C488.7,845.6 490.4,850.8 493.1,851.1 C495.9,851.4 500.0,846.4 503.0,849.4 C506.0,852.4 508.6,862.7 511.3,869.3 C514.0,875.9 516.5,886.4 519.5,889.1 C522.5,891.9 526.1,886.3 529.4,885.8 C532.7,885.2 535.5,882.5 539.4,885.8 C543.3,889.1 548.8,903.4 552.6,905.6 C556.5,907.8 559.2,898.7 562.5,899.0 C565.8,899.3 568.8,908.9 572.4,907.2 C576.0,905.6 581.0,895.2 584.0,889.1 C587.0,883.0 587.5,867.9 590.5,870.9 C593.5,873.9 598.8,904.2 602.1,907.2 C605.4,910.2 607.8,889.7 610.4,889.1 C613.0,888.5 614.8,906.9 617.8,903.9 C620.8,900.9 624.6,873.4 628.3,870.9 C632.0,868.4 635.7,892.4 639.8,889.1 C643.9,885.8 649.4,855.0 653.0,851.1 C656.6,847.2 658.5,860.8 661.3,866.0 C664.0,871.2 665.9,871.8 669.5,882.5 C673.1,893.2 679.4,925.4 682.7,930.4 C686.0,935.4 687.2,919.1 689.4,912.2 C691.6,905.3 693.5,895.7 696.0,889.1 C698.5,882.5 701.5,872.3 704.2,872.6 C707.0,872.9 710.0,888.0 712.5,890.7 C715.0,893.5 716.4,889.7 719.1,889.1 C721.9,888.5 725.7,889.6 729.0,887.4 C732.3,885.2 735.0,880.3 738.9,875.9 C742.8,871.5 748.2,861.3 752.1,861.0 C756.0,860.7 759.0,872.3 762.0,874.2 C765.0,876.1 767.4,868.4 770.3,872.6 C773.2,876.8 775.3,897.9 779.3,899.6 C783.3,901.3 789.8,885.1 794.1,882.9 C798.4,880.7 801.6,881.0 805.3,886.6 C809.0,892.2 812.7,920.0 816.4,916.3 C820.1,912.6 824.2,870.8 827.6,864.3 C831.0,857.8 834.1,876.1 836.9,877.3 C839.7,878.5 840.9,870.2 844.3,871.7 C847.7,873.2 852.6,889.4 857.3,886.6 C861.9,883.8 868.2,856.9 872.2,855.0 C876.2,853.1 877.5,868.4 881.5,875.5 C885.5,882.6 891.7,894.0 896.3,897.7 C900.9,901.4 905.6,896.8 909.3,897.7 C913.0,898.6 915.5,897.4 918.6,903.3 C921.7,909.2 924.8,933.6 927.9,933.0 C931.0,932.4 934.4,907.6 937.2,899.6 C940.0,891.6 943.4,887.2 944.6,884.7" fill="none" stroke="#2c58a8" stroke-width="1.3" stroke-linejoin="round" stroke-linecap="round"/>
<path d="M177.4,845.7 C179.8,854.6 185.3,907.1 191.5,899.3 C197.7,891.4 207.2,804.4 214.6,798.6 C222.0,792.8 230.5,857.0 236.0,864.7 C241.5,872.4 244.8,846.4 247.6,844.9 C250.4,843.4 250.7,853.8 252.6,855.6 C254.5,857.4 257.0,852.9 259.2,855.6 C261.4,858.3 263.6,870.9 265.8,872.0 C268.0,873.1 269.6,872.4 272.4,862.2 C275.1,852.0 279.6,812.1 282.3,811.0 C285.1,809.9 286.7,848.2 288.9,855.6 C291.1,863.0 293.0,857.2 295.5,855.6 C298.0,854.0 301.3,845.2 303.8,845.7 C306.3,846.2 308.2,849.5 310.4,858.9 C312.6,868.2 315.4,895.8 317.0,901.8 C318.6,907.8 318.1,906.5 320.0,894.9 C321.9,883.3 325.6,846.7 328.3,832.1 C331.1,817.5 334.0,818.3 336.5,807.3 C339.0,796.3 341.2,779.5 343.1,766.0 C345.0,752.5 346.2,726.4 348.1,726.4 C350.0,726.4 352.8,751.1 354.7,766.0 C356.6,780.9 358.0,796.3 359.6,815.6 C361.2,834.9 363.0,862.3 364.6,881.6 C366.2,900.9 367.9,918.5 369.5,931.2 C371.1,943.9 372.6,954.6 374.5,957.6 C376.4,960.6 379.2,954.2 381.1,949.3 C383.0,944.3 384.1,936.4 386.0,927.9 C387.9,919.4 389.9,908.7 392.7,898.2 C395.5,887.7 399.3,878.9 402.6,865.1 C405.9,851.3 409.8,829.9 412.5,815.6 C415.2,801.3 416.9,788.9 419.1,779.3 C421.3,769.7 423.5,758.6 425.7,757.8 C427.9,757.0 429.0,764.7 432.3,774.3 C435.6,783.9 442.2,806.0 445.5,815.6 C448.8,825.2 449.9,825.2 452.1,832.1 C454.3,839.0 456.5,849.2 458.7,856.9 C460.9,864.6 463.1,875.3 465.3,878.3 C467.5,881.3 470.0,873.8 471.9,875.0 C473.8,876.2 473.6,882.9 476.6,885.8 C479.6,888.7 486.5,894.6 489.8,892.4 C493.1,890.2 494.2,881.4 496.4,872.6 C498.6,863.8 500.8,847.2 503.0,839.5 C505.2,831.8 506.9,828.8 509.6,826.3 C512.4,823.8 516.8,823.3 519.5,824.7 C522.2,826.1 523.4,835.2 526.1,834.6 C528.9,834.0 533.2,821.7 536.0,821.4 C538.8,821.1 540.5,827.4 542.7,832.9 C544.9,838.4 546.5,851.9 549.3,854.4 C552.0,856.9 556.5,847.0 559.2,847.8 C562.0,848.6 563.6,853.6 565.8,859.4 C568.0,865.2 569.6,880.9 572.4,882.5 C575.1,884.1 579.0,876.5 582.3,869.3 C585.6,862.1 589.5,845.8 592.2,839.5 C595.0,833.2 596.6,830.2 598.8,831.3 C601.0,832.4 602.6,840.6 605.4,846.1 C608.1,851.6 612.9,862.1 615.3,864.3 C617.7,866.5 617.8,866.5 620.0,859.4 C622.2,852.2 625.5,828.8 628.3,821.4 C631.0,814.0 633.8,812.3 636.5,814.8 C639.2,817.3 642.6,832.4 644.8,836.2 C647.0,840.1 647.5,839.0 649.7,837.9 C651.9,836.8 655.5,830.4 658.0,829.6 C660.5,828.8 662.1,829.0 664.6,832.9 C667.1,836.8 670.0,848.9 672.8,852.7 C675.5,856.6 678.6,856.0 681.1,856.0 C683.6,856.0 685.8,856.3 687.7,852.7 C689.6,849.1 691.1,836.2 692.7,834.6 C694.4,833.0 696.0,837.6 697.6,842.8 C699.2,848.0 700.7,861.0 702.6,866.0 C704.5,871.0 706.7,873.7 709.2,872.6 C711.7,871.5 714.6,866.0 717.4,859.4 C720.1,852.8 723.2,839.2 725.7,832.9 C728.2,826.6 729.5,821.4 732.3,821.4 C735.0,821.4 739.2,829.9 742.2,832.9 C745.2,835.9 747.9,840.6 750.4,839.5 C752.9,838.4 754.9,831.5 757.1,826.3 C759.3,821.1 761.5,807.4 763.7,808.2 C765.9,809.0 768.3,822.6 770.3,831.3 C772.3,840.0 773.2,861.6 775.6,860.6 C778.0,859.6 782.1,825.3 784.9,825.3 C787.7,825.3 789.8,852.5 792.3,860.6 C794.8,868.7 796.3,870.8 799.7,873.6 C803.1,876.4 809.0,879.8 812.7,877.3 C816.4,874.8 818.6,864.6 822.0,858.7 C825.4,852.8 829.8,841.7 833.2,842.0 C836.6,842.3 839.6,856.3 842.4,860.6 C845.2,864.9 847.4,870.5 849.9,868.0 C852.4,865.5 854.8,853.4 857.3,845.7 C859.8,838.0 862.2,826.2 864.7,821.6 C867.2,817.0 869.4,813.6 872.2,817.9 C875.0,822.2 878.7,842.4 881.5,847.6 C884.3,852.9 886.1,848.2 888.9,849.4 C891.7,850.6 895.7,856.2 898.2,855.0 C900.7,853.8 901.6,840.1 903.8,842.0 C906.0,843.9 909.4,860.9 911.2,866.2 C913.1,871.5 912.7,877.6 914.9,873.6 C917.1,869.6 921.1,850.4 924.2,842.0 C927.3,833.6 930.7,823.4 933.5,823.4 C936.3,823.4 939.0,835.8 940.9,842.0 C942.8,848.2 944.0,857.5 944.6,860.6" fill="none" stroke="#e8282b" stroke-width="2.8" stroke-linejoin="round" stroke-linecap="round"/>
<path d="M177.4,880.4 C180.7,872.8 190.2,830.1 197.2,835.0 C204.2,839.9 213.6,904.4 219.5,910.0 C225.4,915.6 229.1,875.7 232.7,868.8 C236.3,861.9 238.5,869.1 241.0,868.8 C243.5,868.5 245.1,868.8 247.6,867.1 C250.1,865.5 253.2,855.9 255.9,858.9 C258.7,861.9 261.4,879.2 264.1,885.3 C266.9,891.3 270.5,889.8 272.4,895.2 C274.3,900.6 273.2,925.2 275.7,917.5 C278.2,909.8 283.9,858.2 287.2,849.0 C290.5,839.8 293.0,860.3 295.5,862.2 C298.0,864.1 299.4,861.6 302.1,860.5 C304.9,859.4 308.7,852.9 312.0,855.6 C315.3,858.4 319.2,875.4 321.9,877.0 C324.6,878.6 325.9,861.6 328.3,865.1 C330.7,868.6 334.0,881.7 336.5,898.2 C339.0,914.7 341.7,948.5 343.1,964.2 C344.5,979.9 343.2,995.0 344.8,992.3 C346.4,989.5 350.5,971.7 353.0,947.7 C355.5,923.8 357.4,876.1 359.6,848.6 C361.8,821.1 364.6,795.8 366.2,782.6 C367.8,769.4 367.6,770.2 369.5,769.4 C371.4,768.6 375.1,769.9 377.8,777.6 C380.6,785.3 383.5,803.8 386.0,815.6 C388.5,827.4 390.5,836.2 392.7,848.6 C394.9,861.0 397.1,882.2 399.3,889.9 C401.5,897.6 403.7,892.3 405.9,894.8 C408.1,897.3 409.8,902.3 412.5,904.8 C415.2,907.3 419.4,909.7 422.4,909.7 C425.4,909.7 427.9,903.7 430.6,904.8 C433.4,905.9 436.4,917.4 438.9,916.3 C441.4,915.2 443.3,905.4 445.5,898.2 C447.7,891.1 449.4,880.6 452.1,873.4 C454.9,866.2 459.0,855.8 462.0,855.2 C465.0,854.7 467.6,872.7 470.3,870.1 C473.0,867.5 475.9,845.7 478.3,839.5 C480.7,833.3 482.7,830.1 484.9,832.9 C487.1,835.6 489.6,851.0 491.5,856.0 C493.4,861.0 494.5,862.7 496.4,862.7 C498.3,862.7 500.8,854.4 503.0,856.0 C505.2,857.6 507.4,866.4 509.6,872.6 C511.8,878.8 513.7,891.0 516.2,893.2 C518.7,895.4 521.8,889.5 524.5,885.8 C527.2,882.1 530.2,872.5 532.7,870.9 C535.2,869.2 536.6,873.4 539.4,875.9 C542.2,878.4 546.3,881.4 549.3,885.8 C552.3,890.2 554.9,894.9 557.5,902.3 C560.1,909.7 562.7,928.8 564.9,930.4 C567.1,932.0 568.4,920.7 570.7,912.2 C573.1,903.7 576.5,889.1 579.0,879.2 C581.5,869.3 583.4,859.3 585.6,852.7 C587.8,846.1 589.7,839.5 592.2,839.5 C594.7,839.5 597.6,848.8 600.4,852.7 C603.1,856.6 605.7,857.5 608.7,862.7 C611.7,867.9 615.3,882.5 618.6,884.1 C621.9,885.8 624.8,874.0 628.3,872.6 C631.8,871.2 636.2,878.7 639.8,875.9 C643.4,873.1 646.7,864.0 649.7,856.0 C652.7,848.0 655.2,828.0 658.0,828.0 C660.8,828.0 663.7,846.9 666.2,856.0 C668.7,865.1 670.6,876.2 672.8,882.5 C675.0,888.8 677.2,893.2 679.4,894.0 C681.6,894.8 683.5,888.5 686.0,887.4 C688.5,886.3 691.8,888.2 694.3,887.4 C696.8,886.6 699.0,885.0 700.9,882.5 C702.8,880.0 704.0,876.7 705.9,872.6 C707.8,868.5 710.3,858.0 712.5,857.7 C714.7,857.4 716.9,866.5 719.1,870.9 C721.3,875.3 723.2,883.8 725.7,884.1 C728.2,884.4 731.1,871.8 733.9,872.6 C736.6,873.4 740.3,885.2 742.2,889.1 C744.1,893.0 743.9,897.1 745.5,895.7 C747.1,894.3 750.2,884.9 752.1,880.8 C754.0,876.7 754.9,871.2 757.1,870.9 C759.3,870.6 763.1,883.4 765.3,879.2 C767.5,875.1 769.1,851.6 770.5,846.0 C771.9,840.4 771.6,839.6 773.7,845.7 C775.8,851.9 779.9,877.9 783.0,882.9 C786.1,887.9 789.2,875.8 792.3,875.5 C795.4,875.2 798.2,883.0 801.6,881.0 C805.0,879.0 809.0,860.8 812.7,863.4 C816.4,866.0 820.5,895.1 823.9,896.8 C827.3,898.5 830.1,879.3 833.2,873.6 C836.3,867.9 839.3,863.4 842.4,862.5 C845.5,861.6 848.9,868.0 851.7,868.0 C854.5,868.0 856.1,861.2 859.2,862.5 C862.3,863.8 867.2,872.1 870.3,875.5 C873.4,878.9 874.9,886.3 877.7,882.9 C880.5,879.5 883.9,855.3 887.0,855.0 C890.1,854.7 893.2,879.8 896.3,881.0 C899.4,882.2 902.2,859.7 905.6,862.5 C909.0,865.3 913.1,895.2 916.8,897.7 C920.5,900.2 924.5,880.1 927.9,877.3 C931.3,874.5 934.4,882.2 937.2,881.0 C940.0,879.8 943.4,871.8 944.6,869.9" fill="none" stroke="#2c58a8" stroke-width="2.8" stroke-linejoin="round" stroke-linecap="round"/>
<path d="M177.4,885.3 C179.2,879.0 184.9,848.4 188.2,847.3 C191.5,846.2 194.4,872.4 197.2,878.7 C199.9,885.0 202.6,884.5 204.7,885.3 C206.8,886.1 204.8,893.9 209.6,883.7 C214.4,873.5 228.6,831.9 233.6,824.2 C238.6,816.5 237.1,833.3 239.4,837.4 C241.7,841.5 244.3,839.6 247.6,849.0 C250.9,858.4 256.2,883.4 259.2,893.6 C262.2,903.8 261.9,925.5 265.8,910.0 C269.7,894.5 278.5,814.3 282.3,800.3 C286.1,786.3 286.4,817.2 288.9,825.9 C291.4,834.6 294.9,846.1 297.1,852.3 C299.3,858.5 300.5,861.5 302.1,863.0 C303.8,864.5 304.5,857.7 307.0,861.4 C309.5,865.1 313.4,883.4 317.0,885.3 C320.6,887.2 324.8,872.4 328.3,872.6 C331.8,872.8 334.6,890.6 338.2,886.6 C341.8,882.6 346.7,854.7 349.7,848.6 C352.7,842.5 353.6,851.0 356.3,850.3 C359.1,849.6 363.2,845.3 366.2,844.5 C369.2,843.7 371.2,839.9 374.5,845.3 C377.8,850.7 382.4,874.5 386.0,876.7 C389.6,878.9 393.2,861.8 396.0,858.5 C398.8,855.2 400.1,860.2 402.6,856.9 C405.1,853.6 407.5,835.1 410.8,838.7 C414.1,842.3 418.8,873.1 422.4,878.3 C426.0,883.5 429.0,869.8 432.3,870.1 C435.6,870.4 438.6,881.9 442.2,880.0 C445.8,878.1 451.1,862.1 453.8,858.5 C456.6,854.9 456.2,853.3 458.7,858.5 C461.2,863.7 466.1,884.4 468.6,889.9 C471.1,895.4 471.7,897.7 473.6,891.5 C475.5,885.3 477.6,865.4 479.9,852.7 C482.2,840.1 485.4,820.6 487.3,815.6 C489.2,810.6 490.0,817.9 491.5,823.0 C493.0,828.1 494.5,839.5 496.4,846.1 C498.3,852.7 501.1,859.4 503.0,862.7 C504.9,866.0 506.4,868.2 508.0,866.0 C509.6,863.8 511.2,853.1 512.9,849.4 C514.5,845.7 516.0,843.2 517.9,843.7 C519.8,844.2 522.3,850.1 524.5,852.7 C526.7,855.3 528.9,856.9 531.1,859.4 C533.3,861.9 535.2,865.1 537.7,867.6 C540.2,870.1 543.5,871.9 546.0,874.2 C548.5,876.5 550.7,880.4 552.6,881.6 C554.5,882.8 555.0,886.7 557.5,881.6 C560.0,876.5 564.9,856.5 567.4,851.1 C569.9,845.7 570.8,848.6 572.4,849.4 C574.0,850.2 575.1,855.7 577.3,856.0 C579.5,856.3 583.4,850.3 585.6,851.1 C587.8,851.9 588.6,856.7 590.5,861.0 C592.4,865.3 595.2,876.4 597.1,876.7 C599.0,877.0 600.4,866.8 602.1,862.7 C603.8,858.6 605.2,852.7 607.1,851.9 C609.0,851.1 611.6,858.1 613.7,857.7 C615.9,857.3 617.9,851.9 620.0,849.4 C622.1,846.9 624.4,843.1 626.6,842.8 C628.8,842.5 630.2,843.4 633.2,847.8 C636.2,852.2 642.0,866.0 644.8,869.3 C647.5,872.6 647.2,871.2 649.7,867.6 C652.2,864.0 656.3,846.7 659.6,847.8 C662.9,848.9 665.6,875.9 669.5,874.2 C673.4,872.6 679.4,842.0 682.7,837.9 C686.0,833.8 687.2,842.2 689.4,849.4 C691.6,856.5 693.5,878.2 696.0,880.8 C698.5,883.4 701.5,865.1 704.2,865.1 C707.0,865.1 710.0,880.4 712.5,880.8 C715.0,881.2 716.9,873.9 719.1,867.6 C721.3,861.3 723.5,849.4 725.7,842.8 C727.9,836.2 729.8,827.5 732.3,828.0 C734.8,828.5 738.0,842.8 740.5,846.1 C743.0,849.4 744.6,845.0 747.1,847.8 C749.6,850.6 752.6,859.1 755.4,862.7 C758.2,866.3 761.3,865.9 763.7,869.3 C766.1,872.7 768.2,878.2 770.0,882.9 C771.8,887.6 773.1,896.8 774.6,897.7 C776.1,898.6 777.3,895.9 779.3,888.5 C781.3,881.1 784.2,857.2 786.7,853.2 C789.2,849.2 791.0,868.3 794.1,864.3 C797.2,860.3 802.2,833.0 805.3,829.0 C808.4,825.0 810.2,834.3 812.7,840.2 C815.2,846.1 817.7,856.6 820.2,864.3 C822.7,872.0 825.1,883.8 827.6,886.6 C830.1,889.4 832.2,886.3 835.0,881.0 C837.8,875.7 841.8,857.2 844.3,855.0 C846.8,852.8 847.7,861.8 849.9,868.0 C852.1,874.2 854.8,891.6 857.3,892.2 C859.8,892.8 861.9,875.3 864.7,871.7 C867.5,868.1 871.5,873.3 874.0,870.8 C876.5,868.3 877.7,858.9 879.6,856.9 C881.5,854.9 883.4,855.6 885.2,858.7 C887.1,861.8 888.5,876.7 890.7,875.5 C892.9,874.3 895.7,860.8 898.2,851.3 C900.7,841.8 903.4,821.9 905.6,818.8 C907.8,815.7 909.3,827.6 911.2,832.7 C913.1,837.8 914.6,846.9 916.8,849.4 C919.0,851.9 921.4,848.2 924.2,847.6 C927.0,847.0 931.2,846.8 933.5,845.7 C935.8,844.6 936.2,839.9 938.1,841.1 C940.0,842.4 943.5,851.2 944.6,853.2" fill="none" stroke="#000" stroke-width="2.8" stroke-linejoin="round" stroke-linecap="round"/>
<path d="M177.0,1155.6 C180.1,1155.3 190.4,1154.7 195.6,1154.0 C200.8,1153.3 203.3,1152.4 208.4,1151.7 C213.5,1151.0 220.1,1149.6 226.0,1149.8 C231.9,1150.0 238.0,1151.8 243.6,1153.0 C249.2,1154.2 255.1,1156.6 259.6,1157.2 C264.1,1157.8 266.5,1154.6 270.8,1156.5 C275.1,1158.4 280.7,1167.1 285.2,1168.4 C289.7,1169.7 294.3,1164.8 298.0,1164.5 C301.7,1164.2 304.1,1168.4 307.6,1166.8 C311.1,1165.2 315.6,1157.4 318.8,1155.0 C322.0,1152.6 324.4,1156.6 326.8,1152.4 C329.2,1148.2 331.0,1140.7 333.1,1130.0 C335.2,1119.3 337.6,1098.4 339.5,1088.4 C341.4,1078.4 342.7,1070.3 344.3,1069.8 C345.9,1069.3 347.2,1072.5 349.1,1085.2 C351.0,1097.9 353.4,1127.3 355.5,1146.0 C357.6,1164.7 359.8,1185.0 361.9,1197.2 C364.0,1209.5 366.2,1214.8 368.3,1219.5 C370.4,1224.2 372.6,1225.8 374.7,1225.3 C376.8,1224.8 378.4,1225.2 381.1,1216.3 C383.8,1207.3 387.5,1187.0 390.7,1171.6 C393.9,1156.1 397.4,1134.3 400.3,1123.6 C403.2,1112.9 405.6,1109.2 408.3,1107.6 C411.0,1106.0 413.4,1110.3 416.3,1114.0 C419.2,1117.7 422.2,1123.6 425.9,1130.0 C429.6,1136.4 434.7,1146.8 438.7,1152.4 C442.7,1158.0 446.2,1161.9 449.9,1163.6 C453.6,1165.3 457.8,1162.4 461.1,1162.6 C464.5,1162.8 465.2,1163.6 470.0,1164.6 C474.8,1165.6 484.9,1168.1 489.8,1168.5 C494.8,1168.9 495.6,1169.7 499.7,1167.0 C503.8,1164.3 508.8,1156.3 514.6,1152.2 C520.4,1148.1 527.8,1142.7 534.4,1142.3 C541.0,1141.9 546.8,1146.8 554.2,1149.7 C561.6,1152.6 570.8,1157.5 579.0,1159.6 C587.2,1161.7 597.1,1161.9 603.7,1162.1 C610.3,1162.3 613.7,1162.0 618.6,1160.6 C623.5,1159.2 627.6,1155.5 633.4,1153.7 C639.2,1151.9 645.9,1150.1 653.3,1149.7 C660.7,1149.3 670.6,1150.2 678.0,1151.2 C685.4,1152.2 688.7,1154.3 697.8,1155.7 C706.9,1157.1 722.6,1159.8 732.5,1159.6 C742.4,1159.4 748.2,1155.9 757.3,1154.7 C766.4,1153.5 777.1,1152.2 787.0,1152.2 C796.9,1152.2 805.2,1153.9 816.7,1154.7 C828.2,1155.5 844.8,1156.9 856.3,1157.1 C867.8,1157.3 877.8,1156.3 886.0,1155.7 C894.2,1155.1 899.2,1154.3 905.8,1153.7 C912.4,1153.1 919.1,1151.9 925.7,1152.2 C932.3,1152.5 942.2,1155.1 945.5,1155.7" fill="none" stroke="#e8282b" stroke-width="2.6" stroke-linejoin="round" stroke-linecap="round"/>
<path d="M177.0,1169.0 C179.0,1169.3 185.0,1169.8 189.2,1170.9 C193.4,1172.0 198.3,1175.1 202.0,1175.7 C205.7,1176.3 208.1,1174.4 211.6,1174.8 C215.1,1175.2 218.5,1177.8 222.8,1178.0 C227.1,1178.2 232.9,1176.6 237.2,1175.7 C241.5,1174.8 244.9,1172.7 248.4,1172.5 C251.9,1172.3 254.5,1176.7 258.0,1174.8 C261.5,1172.9 265.5,1162.1 269.2,1161.3 C272.9,1160.5 276.4,1170.2 280.4,1170.0 C284.4,1169.8 289.5,1161.5 293.2,1160.4 C296.9,1159.3 299.9,1163.3 302.8,1163.6 C305.7,1163.9 307.4,1161.1 310.8,1162.0 C314.2,1162.9 319.8,1165.3 323.5,1169.0 C327.2,1172.7 330.4,1177.6 333.1,1184.4 C335.8,1191.2 337.6,1201.0 339.5,1210.0 C341.4,1219.0 342.4,1237.0 344.3,1238.1 C346.2,1239.1 348.3,1229.0 350.7,1216.3 C353.1,1203.6 355.8,1177.5 358.7,1162.0 C361.6,1146.5 365.1,1131.3 368.3,1123.6 C371.5,1115.9 374.7,1114.0 377.9,1115.6 C381.1,1117.2 384.3,1123.9 387.5,1133.2 C390.7,1142.5 394.2,1160.9 397.1,1171.6 C400.0,1182.3 402.7,1191.6 405.1,1197.2 C407.5,1202.8 408.6,1206.3 411.5,1205.2 C414.4,1204.1 418.7,1195.3 422.7,1190.8 C426.7,1186.3 430.7,1181.5 435.5,1178.0 C440.3,1174.5 446.2,1171.9 451.5,1170.0 C456.8,1168.1 461.5,1168.5 467.5,1166.8 C473.5,1165.1 481.1,1159.6 487.3,1159.6 C493.5,1159.6 499.3,1163.9 504.7,1167.0 C510.1,1170.1 513.7,1176.2 519.5,1178.4 C525.3,1180.6 532.7,1180.9 539.3,1180.4 C545.9,1179.9 553.4,1177.1 559.2,1175.5 C565.0,1173.9 568.6,1172.4 574.0,1171.0 C579.4,1169.6 584.7,1167.5 591.3,1167.0 C597.9,1166.5 604.9,1166.6 613.6,1168.0 C622.3,1169.4 634.3,1174.2 643.4,1175.5 C652.5,1176.8 659.9,1176.2 668.1,1175.5 C676.4,1174.8 684.6,1171.8 692.9,1171.0 C701.1,1170.2 709.8,1170.9 717.6,1170.5 C725.4,1170.1 731.6,1168.2 739.9,1168.5 C748.2,1168.8 758.5,1171.8 767.2,1172.5 C775.9,1173.2 782.0,1173.2 791.9,1173.0 C801.8,1172.8 816.7,1171.6 826.6,1171.0 C836.5,1170.4 843.1,1169.3 851.4,1169.5 C859.6,1169.7 868.7,1171.0 876.1,1172.0 C883.5,1173.0 889.3,1175.7 895.9,1175.5 C902.5,1175.3 908.3,1171.8 915.7,1171.0 C923.1,1170.2 936.4,1170.6 940.5,1170.5" fill="none" stroke="#2c58a8" stroke-width="2.6" stroke-linejoin="round" stroke-linecap="round"/>
<text x="234.5" y="734.0" font-size="24.2" font-family="'Liberation Sans',sans-serif">Stimulus</text>
<text x="397.0" y="704.1" font-size="29.3" font-family="'Liberation Sans',sans-serif">Tangential MEG</text>
<text x="397.0" y="738.8" font-size="29.3" font-family="'Liberation Sans',sans-serif">by TMR</text>
<text x="779.5" y="704.0" font-size="24.6" font-family="'Liberation Sans',sans-serif">1st.</text>
<text x="869.0" y="704.0" font-size="24.6" font-family="'Liberation Sans',sans-serif">2nd.</text>
<text x="748.0" y="722.7" font-size="24.6" text-anchor="end" font-family="'Liberation Sans',sans-serif">40 degree</text>
<text x="748.0" y="759.8" font-size="24.6" text-anchor="end" font-family="'Liberation Sans',sans-serif">220 degree</text>
<text x="748.0" y="792.7" font-size="24.6" text-anchor="end" font-family="'Liberation Sans',sans-serif">310 degree</text>
<path d="M763,716.7H841" stroke="#e8282b" stroke-width="2.8"/>
<path d="M860.6,716.7H937.8" stroke="#e8282b" stroke-width="1.3"/>
<path d="M763,750.8H841" stroke="#2c58a8" stroke-width="2.8"/>
<path d="M860.6,750.8H937.8" stroke="#2c58a8" stroke-width="1.3"/>
<path d="M763,785H841" stroke="#000" stroke-width="2.8"/>
<text x="269.5" y="1012.5" font-size="24.7" font-family="'Liberation Sans',sans-serif">N20m</text>
<text x="382.5" y="1012.5" font-size="24.7" font-family="'Liberation Sans',sans-serif">P30m</text>
<text x="396.5" y="1048.7" font-size="29.5" font-family="'Liberation Sans',sans-serif">Radial MEG by</text>
<text x="396.5" y="1083.9" font-size="29.5" font-family="'Liberation Sans',sans-serif">SQUID</text>
<text x="851.0" y="1083.5" font-size="24.5" text-anchor="end" font-family="'Liberation Sans',sans-serif">Outflux peak of N20m</text>
<text x="851.0" y="1119.6" font-size="24.5" text-anchor="end" font-family="'Liberation Sans',sans-serif">Influx peak of N20m</text>
<path d="M856.4,1077H934" stroke="#e8282b" stroke-width="2.6"/>
<path d="M856.4,1114.2H934" stroke="#2c58a8" stroke-width="2.6"/>
<defs><filter id="fnoise" x="0" y="0" width="1" height="1" color-interpolation-filters="sRGB"><feTurbulence type="fractalNoise" baseFrequency="0.3" numOctaves="2" seed="7"/><feColorMatrix type="matrix" values="0 0 0 0 0  0 0 0 0 0  0 0 0 0 0  2.6 0 0 0 -1.15"/><feComposite in2="SourceAlpha" operator="in"/></filter><filter id="fnoiseW" x="0" y="0" width="1" height="1" color-interpolation-filters="sRGB"><feTurbulence type="fractalNoise" baseFrequency="0.25" numOctaves="2" seed="11"/><feColorMatrix type="matrix" values="0 0 0 0 1  0 0 0 0 1  0 0 0 0 1  2.6 0 0 0 -1.2"/><feComposite in2="SourceAlpha" operator="in"/></filter><filter id="fblur3"><feGaussianBlur stdDeviation="3"/></filter><filter id="fblur1"><feGaussianBlur stdDeviation="1.2"/></filter><filter id="fsag" x="0" y="0" width="1" height="1" color-interpolation-filters="sRGB"><feTurbulence type="fractalNoise" baseFrequency="0.03 0.05" numOctaves="2" seed="3"/><feColorMatrix type="matrix" values="1 0 0 0 0  1 0 0 0 0  1 0 0 0 0  0 0 0 0 1"/><feComponentTransfer><feFuncR type="table" tableValues="0.30 0.30 0.30 0.30 0.30 0.30 0.30 0.30 0.30 0.30 0.30 0.30 0.30 0.30 0.30 0.12 0.36 0.36 0.36 0.71 0.80 0.71 0.36 0.36 0.36 0.12 0.30 0.30 0.30 0.30 0.30 0.30 0.30 0.30 0.30 0.30 0.30 0.30 0.30 0.30 0.30"/><feFuncG type="table" tableValues="0.30 0.30 0.30 0.30 0.30 0.30 0.30 0.30 0.30 0.30 0.30 0.30 0.30 0.30 0.30 0.12 0.36 0.36 0.36 0.71 0.80 0.71 0.36 0.36 0.36 0.12 0.30 0.30 0.30 0.30 0.30 0.30 0.30 0.30 0.30 0.30 0.30 0.30 0.30 0.30 0.30"/><feFuncB type="table" tableValues="0.30 0.30 0.30 0.30 0.30 0.30 0.30 0.30 0.30 0.30 0.30 0.30 0.30 0.30 0.30 0.12 0.36 0.36 0.36 0.71 0.80 0.71 0.36 0.36 0.36 0.12 0.30 0.30 0.30 0.30 0.30 0.30 0.30 0.30 0.30 0.30 0.30 0.30 0.30 0.30 0.30"/></feComponentTransfer></filter><filter id="fcor" x="0" y="0" width="1" height="1" color-interpolation-filters="sRGB"><feTurbulence type="fractalNoise" baseFrequency="0.035 0.03" numOctaves="1" seed="9"/><feColorMatrix type="matrix" values="1 0 0 0 0  1 0 0 0 0  1 0 0 0 0  0 0 0 0 1"/><feComponentTransfer><feFuncR type="table" tableValues="0.71 0.71 0.71 0.71 0.71 0.71 0.71 0.71 0.71 0.71 0.71 0.71 0.71 0.71 0.71 0.71 0.71 0.71 0.71 0.39 0.18 0.39 0.71 0.71 0.71 0.71 0.71 0.71 0.71 0.71 0.71 0.71 0.71 0.71 0.71 0.71 0.71 0.71 0.71 0.71 0.71"/><feFuncG type="table" tableValues="0.71 0.71 0.71 0.71 0.71 0.71 0.71 0.71 0.71 0.71 0.71 0.71 0.71 0.71 0.71 0.71 0.71 0.71 0.71 0.39 0.18 0.39 0.71 0.71 0.71 0.71 0.71 0.71 0.71 0.71 0.71 0.71 0.71 0.71 0.71 0.71 0.71 0.71 0.71 0.71 0.71"/><feFuncB type="table" tableValues="0.71 0.71 0.71 0.71 0.71 0.71 0.71 0.71 0.71 0.71 0.71 0.71 0.71 0.71 0.71 0.71 0.71 0.71 0.71 0.39 0.18 0.39 0.71 0.71 0.71 0.71 0.71 0.71 0.71 0.71 0.71 0.71 0.71 0.71 0.71 0.71 0.71 0.71 0.71 0.71 0.71"/></feComponentTransfer></filter><filter id="fax" x="0" y="0" width="1" height="1" color-interpolation-filters="sRGB"><feTurbulence type="fractalNoise" baseFrequency="0.02 0.045" numOctaves="1" seed="4"/><feColorMatrix type="matrix" values="1 0 0 0 0  1 0 0 0 0  1 0 0 0 0  0 0 0 0 1"/><feComponentTransfer><feFuncR type="table" tableValues="0.67 0.67 0.67 0.67 0.67 0.67 0.67 0.67 0.67 0.67 0.67 0.67 0.67 0.67 0.67 0.67 0.67 0.67 0.67 0.23 0.16 0.23 0.67 0.67 0.67 0.67 0.67 0.67 0.67 0.67 0.67 0.67 0.67 0.67 0.67 0.67 0.67 0.67 0.67 0.67 0.67"/><feFuncG type="table" tableValues="0.67 0.67 0.67 0.67 0.67 0.67 0.67 0.67 0.67 0.67 0.67 0.67 0.67 0.67 0.67 0.67 0.67 0.67 0.67 0.23 0.16 0.23 0.67 0.67 0.67 0.67 0.67 0.67 0.67 0.67 0.67 0.67 0.67 0.67 0.67 0.67 0.67 0.67 0.67 0.67 0.67"/><feFuncB type="table" tableValues="0.67 0.67 0.67 0.67 0.67 0.67 0.67 0.67 0.67 0.67 0.67 0.67 0.67 0.67 0.67 0.67 0.67 0.67 0.67 0.23 0.16 0.23 0.67 0.67 0.67 0.67 0.67 0.67 0.67 0.67 0.67 0.67 0.67 0.67 0.67 0.67 0.67 0.67 0.67 0.67 0.67"/></feComponentTransfer></filter><filter id="fmix" x="0" y="0" width="1" height="1" color-interpolation-filters="sRGB"><feTurbulence type="fractalNoise" baseFrequency="0.08" numOctaves="2" seed="21"/><feColorMatrix type="matrix" values="1 0 0 0 0  1 0 0 0 0  1 0 0 0 0  0 0 0 0 1"/><feComponentTransfer><feFuncR type="table" tableValues="0.15 0.15 0.15 0.15 0.15 0.15 0.15 0.15 0.35 0.75 0.75 0.75 0.35 0.15 0.15 0.15 0.15 0.15 0.15 0.15 0.15"/><feFuncG type="table" tableValues="0.15 0.15 0.15 0.15 0.15 0.15 0.15 0.15 0.35 0.75 0.75 0.75 0.35 0.15 0.15 0.15 0.15 0.15 0.15 0.15 0.15"/><feFuncB type="table" tableValues="0.15 0.15 0.15 0.15 0.15 0.15 0.15 0.15 0.35 0.75 0.75 0.75 0.35 0.15 0.15 0.15 0.15 0.15 0.15 0.15 0.15"/></feComponentTransfer></filter><filter id="fmix2" x="0" y="0" width="1" height="1" color-interpolation-filters="sRGB"><feTurbulence type="fractalNoise" baseFrequency="0.06 0.1" numOctaves="2" seed="23"/><feColorMatrix type="matrix" values="1 0 0 0 0  1 0 0 0 0  1 0 0 0 0  0 0 0 0 1"/><feComponentTransfer><feFuncR type="table" tableValues="0.12 0.12 0.12 0.12 0.12 0.12 0.12 0.12 0.12 0.12 0.12 0.12 0.12 0.12 0.12 0.12 0.12 0.12 0.39 0.60 0.60 0.60 0.39 0.12 0.12 0.12 0.12 0.12 0.12 0.12 0.12 0.12 0.12 0.12 0.12 0.12 0.12 0.12 0.12 0.12 0.12"/><feFuncG type="table" tableValues="0.12 0.12 0.12 0.12 0.12 0.12 0.12 0.12 0.12 0.12 0.12 0.12 0.12 0.12 0.12 0.12 0.12 0.12 0.39 0.60 0.60 0.60 0.39 0.12 0.12 0.12 0.12 0.12 0.12 0.12 0.12 0.12 0.12 0.12 0.12 0.12 0.12 0.12 0.12 0.12 0.12"/><feFuncB type="table" tableValues="0.12 0.12 0.12 0.12 0.12 0.12 0.12 0.12 0.12 0.12 0.12 0.12 0.12 0.12 0.12 0.12 0.12 0.12 0.39 0.60 0.60 0.60 0.39 0.12 0.12 0.12 0.12 0.12 0.12 0.12 0.12 0.12 0.12 0.12 0.12 0.12 0.12 0.12 0.12 0.12 0.12"/></feComponentTransfer></filter><filter id="fmid" x="0" y="0" width="1" height="1" color-interpolation-filters="sRGB"><feTurbulence type="fractalNoise" baseFrequency="0.07 0.05" numOctaves="2" seed="31"/><feColorMatrix type="matrix" values="1 0 0 0 0  1 0 0 0 0  1 0 0 0 0  0 0 0 0 1"/><feComponentTransfer><feFuncR type="table" tableValues="0.22 0.22 0.22 0.22 0.22 0.22 0.22 0.22 0.22 0.22 0.22 0.22 0.22 0.22 0.22 0.22 0.22 0.41 0.60 0.60 0.60 0.60 0.60 0.41 0.22 0.22 0.22 0.22 0.22 0.22 0.22 0.22 0.22 0.22 0.22 0.22 0.22 0.22 0.22 0.22 0.22"/><feFuncG type="table" tableValues="0.22 0.22 0.22 0.22 0.22 0.22 0.22 0.22 0.22 0.22 0.22 0.22 0.22 0.22 0.22 0.22 0.22 0.41 0.60 0.60 0.60 0.60 0.60 0.41 0.22 0.22 0.22 0.22 0.22 0.22 0.22 0.22 0.22 0.22 0.22 0.22 0.22 0.22 0.22 0.22 0.22"/><feFuncB type="table" tableValues="0.22 0.22 0.22 0.22 0.22 0.22 0.22 0.22 0.22 0.22 0.22 0.22 0.22 0.22 0.22 0.22 0.22 0.41 0.60 0.60 0.60 0.60 0.60 0.41 0.22 0.22 0.22 0.22 0.22 0.22 0.22 0.22 0.22 0.22 0.22 0.22 0.22 0.22 0.22 0.22 0.22"/></feComponentTransfer></filter><radialGradient id="gcen" cx="0.5" cy="0.5" r="0.5"><stop offset="0" stop-color="#b0b0b0" stop-opacity="1"/><stop offset="0.55" stop-color="#b0b0b0" stop-opacity="0.95"/><stop offset="1" stop-color="#b0b0b0" stop-opacity="0"/></radialGradient><clipPath id="cSag"><path d="M194.7,1765.0 C192.2,1760.7 184.5,1750.6 179.8,1739.4 C175.1,1728.2 169.6,1710.4 166.6,1698.0 C163.6,1685.6 162.5,1674.6 161.7,1665.0 C160.9,1655.4 161.4,1648.6 161.7,1640.4 C162.0,1632.2 162.2,1623.0 163.3,1615.6 C164.4,1608.2 166.1,1602.7 168.3,1595.8 C170.5,1588.9 172.9,1581.5 176.5,1574.3 C180.1,1567.1 184.2,1560.5 189.7,1552.8 C195.2,1545.1 201.2,1534.6 209.5,1528.0 C217.8,1521.4 229.9,1516.2 239.3,1513.0 C248.7,1509.8 255.7,1509.5 265.8,1509.0 C275.9,1508.5 288.1,1508.2 300.0,1510.0 C311.9,1511.8 324.8,1516.2 337.2,1520.0 C349.6,1523.8 363.5,1528.2 374.3,1533.0 C385.1,1537.8 394.5,1543.7 402.2,1549.0 C409.9,1554.3 414.5,1559.2 420.7,1565.0 C426.9,1570.8 434.0,1577.1 439.3,1583.6 C444.6,1590.1 449.2,1597.8 452.3,1604.0 C455.4,1610.2 456.6,1613.4 457.9,1620.8 C459.1,1628.2 459.2,1640.9 459.8,1648.6 C460.4,1656.3 460.1,1662.5 461.6,1667.2 C463.1,1671.9 468.1,1673.1 469.0,1676.5 C469.9,1679.9 469.1,1683.6 467.2,1687.6 C465.3,1691.6 461.3,1696.9 457.9,1700.6 C454.5,1704.3 448.4,1707.5 446.8,1710.0 C445.2,1712.5 446.8,1711.8 448.6,1715.5 C450.5,1719.2 455.4,1727.2 457.9,1732.2 C460.4,1737.2 462.1,1739.7 463.5,1745.2 C464.9,1750.7 465.8,1761.7 466.3,1765.0 Z"/></clipPath><clipPath id="cSagB"><path d="M197.0,1702.0 C191.3,1694.8 191.8,1677.3 191.0,1665.0 C190.2,1652.7 190.7,1639.5 192.0,1628.0 C193.3,1616.5 195.3,1605.7 199.0,1596.0 C202.7,1586.3 207.5,1577.3 214.0,1570.0 C220.5,1562.7 228.3,1556.5 238.0,1552.0 C247.7,1547.5 259.7,1544.5 272.0,1543.0 C284.3,1541.5 298.7,1541.7 312.0,1543.0 C325.3,1544.3 339.7,1547.2 352.0,1551.0 C364.3,1554.8 376.3,1560.5 386.0,1566.0 C395.7,1571.5 403.5,1577.3 410.0,1584.0 C416.5,1590.7 421.3,1598.3 425.0,1606.0 C428.7,1613.7 431.2,1621.8 432.0,1630.0 C432.8,1638.2 432.5,1648.0 430.0,1655.0 C427.5,1662.0 423.3,1667.5 417.0,1672.0 C410.7,1676.5 401.2,1679.0 392.0,1682.0 C382.8,1685.0 371.5,1687.3 362.0,1690.0 C352.5,1692.7 345.3,1695.7 335.0,1698.0 C324.7,1700.3 312.2,1702.3 300.0,1704.0 C287.8,1705.7 274.5,1707.3 262.0,1708.0 C249.5,1708.7 235.8,1709.0 225.0,1708.0 C214.2,1707.0 202.7,1709.2 197.0,1702.0 Z"/></clipPath><clipPath id="cCor"><path d="M628.0,1755.0 C628.0,1750.3 628.3,1734.9 628.0,1726.7 C627.7,1718.5 628.7,1711.8 626.0,1706.0 C623.3,1700.2 615.2,1696.7 612.0,1692.0 C608.8,1687.3 607.0,1682.0 607.0,1678.0 C607.0,1674.0 608.5,1670.7 612.0,1668.0 C615.5,1665.3 625.3,1673.3 628.0,1662.0 C630.7,1650.7 626.8,1617.7 628.0,1600.4 C629.2,1583.1 630.9,1571.7 635.0,1558.2 C639.1,1544.7 645.0,1530.7 652.6,1519.6 C660.2,1508.5 669.5,1499.2 680.7,1491.6 C691.9,1484.0 703.0,1478.1 720.0,1474.0 C737.0,1469.9 762.5,1467.3 782.5,1467.0 C802.5,1466.7 822.5,1467.9 840.0,1472.0 C857.5,1476.1 875.1,1481.9 887.7,1491.6 C900.3,1501.3 909.4,1514.8 915.8,1530.0 C922.2,1545.2 924.5,1561.7 926.3,1582.8 C928.0,1603.9 924.5,1642.0 926.3,1656.5 C928.0,1671.0 935.0,1664.4 936.8,1670.0 C938.6,1675.6 938.1,1684.1 937.0,1690.0 C935.9,1695.9 931.8,1697.7 930.0,1705.6 C928.2,1713.5 925.8,1729.0 926.3,1737.2 C926.8,1745.4 932.1,1752.0 933.3,1755.0 Z"/></clipPath><clipPath id="cAx"><path d="M780.0,1773.6 C792.5,1774.2 817.0,1775.9 831.2,1780.4 C845.4,1785.0 855.6,1791.8 865.2,1800.9 C874.8,1810.0 882.2,1823.1 889.0,1835.0 C895.8,1846.9 900.9,1859.4 906.0,1872.4 C911.1,1885.5 916.6,1900.2 919.7,1913.3 C922.8,1926.3 923.7,1937.7 924.8,1950.7 C925.9,1963.8 926.8,1978.0 926.5,1991.6 C926.2,2005.2 925.4,2020.0 923.1,2032.5 C920.8,2045.0 917.4,2056.8 912.9,2066.5 C908.4,2076.2 902.7,2084.2 895.9,2090.4 C889.1,2096.7 882.8,2100.6 872.0,2104.0 C861.2,2107.4 846.0,2109.4 831.2,2110.8 C816.5,2112.2 798.3,2112.8 783.5,2112.5 C768.7,2112.2 755.7,2111.1 742.6,2109.1 C729.5,2107.1 716.5,2104.8 705.1,2100.6 C693.8,2096.3 683.0,2090.4 674.5,2083.6 C666.0,2076.8 659.5,2069.3 654.1,2059.7 C648.7,2050.0 644.7,2038.8 642.1,2025.7 C639.5,2012.7 638.7,1996.2 638.7,1981.4 C638.7,1966.6 639.5,1952.4 642.1,1937.1 C644.7,1921.8 648.7,1904.7 654.1,1889.4 C659.5,1874.1 667.1,1857.6 674.5,1845.1 C681.9,1832.6 688.6,1824.2 698.3,1814.5 C707.9,1804.8 722.8,1793.5 732.4,1787.2 C742.0,1781.0 748.3,1779.3 756.2,1777.0 C764.1,1774.7 767.5,1773.0 780.0,1773.6 Z"/></clipPath><clipPath id="cCorB"><path d="M646.0,1691.0 C602.0,1682.5 644.8,1656.5 645.0,1640.0 C645.2,1623.5 645.0,1607.3 647.0,1592.0 C649.0,1576.7 651.0,1561.7 657.0,1548.0 C663.0,1534.3 670.8,1519.8 683.0,1510.0 C695.2,1500.2 713.4,1493.3 730.0,1489.0 C746.6,1484.7 765.0,1484.0 782.5,1484.0 C800.0,1484.0 818.8,1484.7 835.0,1489.0 C851.2,1493.3 868.5,1500.2 880.0,1510.0 C891.5,1519.8 899.2,1534.3 904.0,1548.0 C908.8,1561.7 908.0,1576.7 909.0,1592.0 C910.0,1607.3 910.0,1623.5 910.0,1640.0 C910.0,1656.5 953.0,1682.5 909.0,1691.0 C865.0,1699.5 690.0,1699.5 646.0,1691.0 Z"/></clipPath><clipPath id="cAxB"><path d="M780.1,1790.8 L760.8,1793.5 L741.2,1801.9 L710.5,1826.5 L689.1,1854.0 L670.2,1895.1 L658.9,1939.8 L655.7,1981.4 L658.9,2022.2 L669.1,2051.1 L685.4,2070.2 L711.2,2084.6 L745.2,2092.3 L783.9,2095.5 L829.5,2093.9 L866.2,2087.7 L884.2,2077.5 L897.4,2058.9 L906.3,2029.3 L909.5,1991.2 L907.8,1952.2 L903.1,1917.2 L890.2,1878.6 L874.2,1843.5 L853.3,1813.6 L825.5,1796.8 Z"/></clipPath></defs>
<g clip-path="url(#cSag)">
<rect x="150" y="1500" width="330" height="270" fill="#242424"/>
<rect x="180" y="1680" width="200" height="90" filter="url(#fmix)" opacity="0.4"/>
<ellipse cx="300" cy="1745" rx="21" ry="22" fill="#080808" filter="url(#fblur1)"/>
<path d="M395,1650 C420,1640 445,1630 470,1640 L470,1770 L372,1770 C380,1740 385,1700 395,1650 Z" fill="#d0d0d0"/>
<rect x="372" y="1640" width="100" height="130" filter="url(#fmix)" opacity="0.35"/>
<path d="M340,1700 C355,1695 370,1700 380,1712 L378,1765 L335,1765 Z" fill="#6a6a6a" opacity="0.7"/>
</g>
<g clip-path="url(#cSagB)"><rect x="180" y="1530" width="270" height="190" filter="url(#fsag)"/></g>
<g clip-path="url(#cSag)">
<path d="M155,1688 C175,1690 195,1695 212,1705 C222,1725 228,1745 232,1770 L150,1770 Z" fill="#d8d8d8"/>
<path d="M398,1668 C420,1655 440,1645 470,1640 L472,1770 L360,1770 C372,1745 380,1720 385,1700 C388,1688 392,1676 398,1668 Z" fill="#e4e4e4"/>
<path d="M392,1700 C405,1712 412,1730 418,1765 M418,1690 C425,1710 430,1735 432,1765 M440,1700 C444,1720 446,1740 447,1765" stroke="#7a7a7a" stroke-width="3" fill="none" opacity="0.7"/>
<path d="M365,1745 C385,1738 405,1742 425,1750" stroke="#666" stroke-width="5" fill="none" opacity="0.6"/>
<path d="M166.6,1698.0 C165.8,1692.5 162.5,1674.6 161.7,1665.0 C160.9,1655.4 161.4,1648.6 161.7,1640.4 C162.0,1632.2 162.2,1623.0 163.3,1615.6 C164.4,1608.2 166.1,1602.7 168.3,1595.8 C170.5,1588.9 172.9,1581.5 176.5,1574.3 C180.1,1567.1 184.2,1560.5 189.7,1552.8 C195.2,1545.1 201.2,1534.6 209.5,1528.0 C217.8,1521.4 229.9,1516.2 239.3,1513.0 C248.7,1509.8 255.7,1509.5 265.8,1509.0 C275.9,1508.5 288.1,1508.2 300.0,1510.0 C311.9,1511.8 324.8,1516.2 337.2,1520.0 C349.6,1523.8 363.5,1528.2 374.3,1533.0 C385.1,1537.8 394.5,1543.7 402.2,1549.0 C409.9,1554.3 414.5,1559.2 420.7,1565.0 C426.9,1570.8 434.0,1577.1 439.3,1583.6 C444.6,1590.1 449.2,1597.8 452.3,1604.0 C455.4,1610.2 456.6,1613.4 457.9,1620.8 C459.1,1628.2 459.2,1640.9 459.8,1648.6 C460.4,1656.3 460.1,1662.5 461.6,1667.2 C463.1,1671.9 468.1,1673.1 469.0,1676.5 C469.9,1679.9 469.1,1683.6 467.2,1687.6 C465.3,1691.6 461.3,1696.9 457.9,1700.6 C454.5,1704.3 448.4,1707.5 446.8,1710.0 C445.2,1712.5 446.8,1711.8 448.6,1715.5 C450.5,1719.2 455.4,1727.2 457.9,1732.2 C460.4,1737.2 462.1,1739.7 463.5,1745.2 C464.9,1750.7 465.8,1761.7 466.3,1765.0" fill="none" stroke="#222" stroke-width="52.0" stroke-linejoin="round"/>
<path d="M166.6,1698.0 C165.8,1692.5 162.5,1674.6 161.7,1665.0 C160.9,1655.4 161.4,1648.6 161.7,1640.4 C162.0,1632.2 162.2,1623.0 163.3,1615.6 C164.4,1608.2 166.1,1602.7 168.3,1595.8 C170.5,1588.9 172.9,1581.5 176.5,1574.3 C180.1,1567.1 184.2,1560.5 189.7,1552.8 C195.2,1545.1 201.2,1534.6 209.5,1528.0 C217.8,1521.4 229.9,1516.2 239.3,1513.0 C248.7,1509.8 255.7,1509.5 265.8,1509.0 C275.9,1508.5 288.1,1508.2 300.0,1510.0 C311.9,1511.8 324.8,1516.2 337.2,1520.0 C349.6,1523.8 363.5,1528.2 374.3,1533.0 C385.1,1537.8 394.5,1543.7 402.2,1549.0 C409.9,1554.3 414.5,1559.2 420.7,1565.0 C426.9,1570.8 434.0,1577.1 439.3,1583.6 C444.6,1590.1 449.2,1597.8 452.3,1604.0 C455.4,1610.2 456.6,1613.4 457.9,1620.8 C459.1,1628.2 459.2,1640.9 459.8,1648.6 C460.4,1656.3 460.1,1662.5 461.6,1667.2 C463.1,1671.9 468.1,1673.1 469.0,1676.5 C469.9,1679.9 469.1,1683.6 467.2,1687.6 C465.3,1691.6 461.3,1696.9 457.9,1700.6 C454.5,1704.3 448.4,1707.5 446.8,1710.0 C445.2,1712.5 446.8,1711.8 448.6,1715.5 C450.5,1719.2 455.4,1727.2 457.9,1732.2 C460.4,1737.2 462.1,1739.7 463.5,1745.2 C464.9,1750.7 465.8,1761.7 466.3,1765.0" fill="none" stroke="#bcbcbc" stroke-width="40.0" stroke-linejoin="round"/>
<path d="M166.6,1698.0 C165.8,1692.5 162.5,1674.6 161.7,1665.0 C160.9,1655.4 161.4,1648.6 161.7,1640.4 C162.0,1632.2 162.2,1623.0 163.3,1615.6 C164.4,1608.2 166.1,1602.7 168.3,1595.8 C170.5,1588.9 172.9,1581.5 176.5,1574.3 C180.1,1567.1 184.2,1560.5 189.7,1552.8 C195.2,1545.1 201.2,1534.6 209.5,1528.0 C217.8,1521.4 229.9,1516.2 239.3,1513.0 C248.7,1509.8 255.7,1509.5 265.8,1509.0 C275.9,1508.5 288.1,1508.2 300.0,1510.0 C311.9,1511.8 324.8,1516.2 337.2,1520.0 C349.6,1523.8 363.5,1528.2 374.3,1533.0 C385.1,1537.8 394.5,1543.7 402.2,1549.0 C409.9,1554.3 414.5,1559.2 420.7,1565.0 C426.9,1570.8 434.0,1577.1 439.3,1583.6 C444.6,1590.1 449.2,1597.8 452.3,1604.0 C455.4,1610.2 456.6,1613.4 457.9,1620.8 C459.1,1628.2 459.2,1640.9 459.8,1648.6 C460.4,1656.3 460.1,1662.5 461.6,1667.2 C463.1,1671.9 468.1,1673.1 469.0,1676.5 C469.9,1679.9 469.1,1683.6 467.2,1687.6 C465.3,1691.6 461.3,1696.9 457.9,1700.6 C454.5,1704.3 448.4,1707.5 446.8,1710.0 C445.2,1712.5 446.8,1711.8 448.6,1715.5 C450.5,1719.2 455.4,1727.2 457.9,1732.2 C460.4,1737.2 462.1,1739.7 463.5,1745.2 C464.9,1750.7 465.8,1761.7 466.3,1765.0" fill="none" stroke="#2a2a2a" stroke-width="30.0" stroke-linejoin="round"/>
<path d="M166.6,1698.0 C165.8,1692.5 162.5,1674.6 161.7,1665.0 C160.9,1655.4 161.4,1648.6 161.7,1640.4 C162.0,1632.2 162.2,1623.0 163.3,1615.6 C164.4,1608.2 166.1,1602.7 168.3,1595.8 C170.5,1588.9 172.9,1581.5 176.5,1574.3 C180.1,1567.1 184.2,1560.5 189.7,1552.8 C195.2,1545.1 201.2,1534.6 209.5,1528.0 C217.8,1521.4 229.9,1516.2 239.3,1513.0 C248.7,1509.8 255.7,1509.5 265.8,1509.0 C275.9,1508.5 288.1,1508.2 300.0,1510.0 C311.9,1511.8 324.8,1516.2 337.2,1520.0 C349.6,1523.8 363.5,1528.2 374.3,1533.0 C385.1,1537.8 394.5,1543.7 402.2,1549.0 C409.9,1554.3 414.5,1559.2 420.7,1565.0 C426.9,1570.8 434.0,1577.1 439.3,1583.6 C444.6,1590.1 449.2,1597.8 452.3,1604.0 C455.4,1610.2 456.6,1613.4 457.9,1620.8 C459.1,1628.2 459.2,1640.9 459.8,1648.6 C460.4,1656.3 460.1,1662.5 461.6,1667.2 C463.1,1671.9 468.1,1673.1 469.0,1676.5 C469.9,1679.9 469.1,1683.6 467.2,1687.6 C465.3,1691.6 461.3,1696.9 457.9,1700.6 C454.5,1704.3 448.4,1707.5 446.8,1710.0 C445.2,1712.5 446.8,1711.8 448.6,1715.5 C450.5,1719.2 455.4,1727.2 457.9,1732.2 C460.4,1737.2 462.1,1739.7 463.5,1745.2 C464.9,1750.7 465.8,1761.7 466.3,1765.0" fill="none" stroke="#cdcdcd" stroke-width="22.0" stroke-linejoin="round"/>
<path d="M194.7,1765.0 C192.2,1760.7 184.5,1750.6 179.8,1739.4 C175.1,1728.2 169.6,1710.4 166.6,1698.0 C163.6,1685.6 162.5,1674.6 161.7,1665.0 C160.9,1655.4 161.4,1648.6 161.7,1640.4 C162.0,1632.2 162.2,1623.0 163.3,1615.6 C164.4,1608.2 166.1,1602.7 168.3,1595.8 C170.5,1588.9 172.9,1581.5 176.5,1574.3 C180.1,1567.1 184.2,1560.5 189.7,1552.8 C195.2,1545.1 201.2,1534.6 209.5,1528.0 C217.8,1521.4 229.9,1516.2 239.3,1513.0 C248.7,1509.8 255.7,1509.5 265.8,1509.0 C275.9,1508.5 288.1,1508.2 300.0,1510.0 C311.9,1511.8 324.8,1516.2 337.2,1520.0 C349.6,1523.8 363.5,1528.2 374.3,1533.0 C385.1,1537.8 394.5,1543.7 402.2,1549.0 C409.9,1554.3 414.5,1559.2 420.7,1565.0 C426.9,1570.8 434.0,1577.1 439.3,1583.6 C444.6,1590.1 449.2,1597.8 452.3,1604.0 C455.4,1610.2 456.6,1613.4 457.9,1620.8 C459.1,1628.2 459.2,1640.9 459.8,1648.6 C460.4,1656.3 460.1,1662.5 461.6,1667.2 C463.1,1671.9 468.1,1673.1 469.0,1676.5 C469.9,1679.9 469.1,1683.6 467.2,1687.6 C465.3,1691.6 461.3,1696.9 457.9,1700.6 C454.5,1704.3 448.4,1707.5 446.8,1710.0 C445.2,1712.5 446.8,1711.8 448.6,1715.5 C450.5,1719.2 455.4,1727.2 457.9,1732.2 C460.4,1737.2 462.1,1739.7 463.5,1745.2 C464.9,1750.7 465.8,1761.7 466.3,1765.0" fill="none" stroke="#000" stroke-width="44" filter="url(#fnoise)" opacity="0.6"/>
<path d="M194.7,1765.0 C192.2,1760.7 184.5,1750.6 179.8,1739.4 C175.1,1728.2 169.6,1710.4 166.6,1698.0 C163.6,1685.6 162.5,1674.6 161.7,1665.0 C160.9,1655.4 161.4,1648.6 161.7,1640.4 C162.0,1632.2 162.2,1623.0 163.3,1615.6 C164.4,1608.2 166.1,1602.7 168.3,1595.8 C170.5,1588.9 172.9,1581.5 176.5,1574.3 C180.1,1567.1 184.2,1560.5 189.7,1552.8 C195.2,1545.1 201.2,1534.6 209.5,1528.0 C217.8,1521.4 229.9,1516.2 239.3,1513.0 C248.7,1509.8 255.7,1509.5 265.8,1509.0 C275.9,1508.5 288.1,1508.2 300.0,1510.0 C311.9,1511.8 324.8,1516.2 337.2,1520.0 C349.6,1523.8 363.5,1528.2 374.3,1533.0 C385.1,1537.8 394.5,1543.7 402.2,1549.0 C409.9,1554.3 414.5,1559.2 420.7,1565.0 C426.9,1570.8 434.0,1577.1 439.3,1583.6 C444.6,1590.1 449.2,1597.8 452.3,1604.0 C455.4,1610.2 456.6,1613.4 457.9,1620.8 C459.1,1628.2 459.2,1640.9 459.8,1648.6 C460.4,1656.3 460.1,1662.5 461.6,1667.2 C463.1,1671.9 468.1,1673.1 469.0,1676.5 C469.9,1679.9 469.1,1683.6 467.2,1687.6 C465.3,1691.6 461.3,1696.9 457.9,1700.6 C454.5,1704.3 448.4,1707.5 446.8,1710.0 C445.2,1712.5 446.8,1711.8 448.6,1715.5 C450.5,1719.2 455.4,1727.2 457.9,1732.2 C460.4,1737.2 462.1,1739.7 463.5,1745.2 C464.9,1750.7 465.8,1761.7 466.3,1765.0" fill="none" stroke="#000" stroke-width="44" filter="url(#fnoiseW)" opacity="0.35"/>
<rect x="150" y="1500" width="330" height="270" filter="url(#fnoise)" opacity="0.15"/>
<rect x="180" y="1680" width="290" height="90" filter="url(#fnoiseW)" opacity="0.3"/>
</g>
<path d="M194.7,1765.0 C192.2,1760.7 184.5,1750.6 179.8,1739.4 C175.1,1728.2 169.6,1710.4 166.6,1698.0 C163.6,1685.6 162.5,1674.6 161.7,1665.0 C160.9,1655.4 161.4,1648.6 161.7,1640.4 C162.0,1632.2 162.2,1623.0 163.3,1615.6 C164.4,1608.2 166.1,1602.7 168.3,1595.8 C170.5,1588.9 172.9,1581.5 176.5,1574.3 C180.1,1567.1 184.2,1560.5 189.7,1552.8 C195.2,1545.1 201.2,1534.6 209.5,1528.0 C217.8,1521.4 229.9,1516.2 239.3,1513.0 C248.7,1509.8 255.7,1509.5 265.8,1509.0 C275.9,1508.5 288.1,1508.2 300.0,1510.0 C311.9,1511.8 324.8,1516.2 337.2,1520.0 C349.6,1523.8 363.5,1528.2 374.3,1533.0 C385.1,1537.8 394.5,1543.7 402.2,1549.0 C409.9,1554.3 414.5,1559.2 420.7,1565.0 C426.9,1570.8 434.0,1577.1 439.3,1583.6 C444.6,1590.1 449.2,1597.8 452.3,1604.0 C455.4,1610.2 456.6,1613.4 457.9,1620.8 C459.1,1628.2 459.2,1640.9 459.8,1648.6 C460.4,1656.3 460.1,1662.5 461.6,1667.2 C463.1,1671.9 468.1,1673.1 469.0,1676.5 C469.9,1679.9 469.1,1683.6 467.2,1687.6 C465.3,1691.6 461.3,1696.9 457.9,1700.6 C454.5,1704.3 448.4,1707.5 446.8,1710.0 C445.2,1712.5 446.8,1711.8 448.6,1715.5 C450.5,1719.2 455.4,1727.2 457.9,1732.2 C460.4,1737.2 462.1,1739.7 463.5,1745.2 C464.9,1750.7 465.8,1761.7 466.3,1765.0" fill="none" stroke="#1a1a1a" stroke-width="1.6"/>
<g clip-path="url(#cCor)">
<rect x="600" y="1460" width="340" height="300" fill="#2c2c2c"/>
<path d="M646.0,1691.0 C602.0,1682.5 644.8,1656.5 645.0,1640.0 C645.2,1623.5 645.0,1607.3 647.0,1592.0 C649.0,1576.7 651.0,1561.7 657.0,1548.0 C663.0,1534.3 670.8,1519.8 683.0,1510.0 C695.2,1500.2 713.4,1493.3 730.0,1489.0 C746.6,1484.7 765.0,1484.0 782.5,1484.0 C800.0,1484.0 818.8,1484.7 835.0,1489.0 C851.2,1493.3 868.5,1500.2 880.0,1510.0 C891.5,1519.8 899.2,1534.3 904.0,1548.0 C908.8,1561.7 908.0,1576.7 909.0,1592.0 C910.0,1607.3 910.0,1623.5 910.0,1640.0 C910.0,1656.5 953.0,1682.5 909.0,1691.0 C865.0,1699.5 690.0,1699.5 646.0,1691.0 Z" fill="#b8b8b8"/>
<g clip-path="url(#cCorB)">
<path d="M646.0,1691.0 C602.0,1682.5 644.8,1656.5 645.0,1640.0 C645.2,1623.5 645.0,1607.3 647.0,1592.0 C649.0,1576.7 651.0,1561.7 657.0,1548.0 C663.0,1534.3 670.8,1519.8 683.0,1510.0 C695.2,1500.2 713.4,1493.3 730.0,1489.0 C746.6,1484.7 765.0,1484.0 782.5,1484.0 C800.0,1484.0 818.8,1484.7 835.0,1489.0 C851.2,1493.3 868.5,1500.2 880.0,1510.0 C891.5,1519.8 899.2,1534.3 904.0,1548.0 C908.8,1561.7 908.0,1576.7 909.0,1592.0 C910.0,1607.3 910.0,1623.5 910.0,1640.0 C910.0,1656.5 953.0,1682.5 909.0,1691.0 C865.0,1699.5 690.0,1699.5 646.0,1691.0 Z" fill="none" stroke="#6a6a6a" stroke-width="16"/>
<path d="M641.9,1671.4 Q667.5,1670.8 683.7,1658.7 M641.3,1649.6 Q671.6,1653.5 693.4,1641.6 M641.6,1627.9 Q656.8,1625.3 668.1,1624.4 M642.4,1606.1 Q665.8,1623.2 686.2,1616.0 M668.0,1618.4 L678.4,1638.0 M644.6,1584.4 Q667.1,1575.7 681.8,1585.3 M668.0,1579.9 L677.0,1569.7 M649.5,1563.1 Q662.5,1578.6 676.9,1578.6 M655.9,1542.6 Q687.3,1538.8 701.8,1557.4 M668.2,1524.6 Q692.7,1527.5 702.5,1543.1 M680.8,1506.9 Q686.8,1522.0 696.6,1527.9 M700.6,1497.8 Q717.8,1506.9 721.9,1520.3 M720.5,1488.9 Q719.0,1509.4 729.8,1519.5 M741.5,1484.0 Q734.5,1504.5 744.6,1515.5 M738.6,1504.6 L731.6,1512.3 M763.2,1481.8 Q776.6,1500.2 773.4,1516.9 M773.6,1502.3 L785.3,1507.2 M785.0,1480.2 Q780.3,1506.5 781.6,1529.0 M806.8,1482.3 Q819.7,1510.3 806.7,1529.0 M828.5,1484.5 Q816.1,1500.5 813.6,1515.8 M817.3,1502.5 L802.1,1505.2 M849.0,1491.1 Q831.5,1499.4 830.6,1512.4 M833.8,1502.1 L820.9,1502.3 M868.7,1500.4 Q854.2,1508.4 849.8,1519.3 M886.1,1512.3 Q882.3,1541.8 861.9,1548.2 M877.0,1539.1 L881.1,1556.9 M897.8,1530.7 Q885.1,1562.2 859.8,1568.5 M880.0,1559.0 L862.3,1550.9 M908.0,1549.7 Q889.7,1557.8 875.5,1565.2 M910.6,1571.3 Q893.0,1570.3 882.0,1577.0 M913.0,1593.0 Q889.3,1618.0 865.0,1610.7 M913.5,1614.9 Q897.1,1618.4 884.9,1616.2 M913.8,1636.7 Q885.1,1639.1 862.3,1631.0 M913.4,1658.5 Q889.8,1657.6 873.3,1648.1 M912.8,1680.2 Q892.0,1682.3 882.7,1671.0 M892.4,1678.6 L891.6,1662.7" fill="none" stroke="#6c6c6c" stroke-width="13.0" stroke-linecap="round" stroke-linejoin="round"/><path d="M641.9,1671.4 Q667.5,1670.8 683.7,1658.7 M641.3,1649.6 Q671.6,1653.5 693.4,1641.6 M641.6,1627.9 Q656.8,1625.3 668.1,1624.4 M642.4,1606.1 Q665.8,1623.2 686.2,1616.0 M668.0,1618.4 L678.4,1638.0 M644.6,1584.4 Q667.1,1575.7 681.8,1585.3 M668.0,1579.9 L677.0,1569.7 M649.5,1563.1 Q662.5,1578.6 676.9,1578.6 M655.9,1542.6 Q687.3,1538.8 701.8,1557.4 M668.2,1524.6 Q692.7,1527.5 702.5,1543.1 M680.8,1506.9 Q686.8,1522.0 696.6,1527.9 M700.6,1497.8 Q717.8,1506.9 721.9,1520.3 M720.5,1488.9 Q719.0,1509.4 729.8,1519.5 M741.5,1484.0 Q734.5,1504.5 744.6,1515.5 M738.6,1504.6 L731.6,1512.3 M763.2,1481.8 Q776.6,1500.2 773.4,1516.9 M773.6,1502.3 L785.3,1507.2 M785.0,1480.2 Q780.3,1506.5 781.6,1529.0 M806.8,1482.3 Q819.7,1510.3 806.7,1529.0 M828.5,1484.5 Q816.1,1500.5 813.6,1515.8 M817.3,1502.5 L802.1,1505.2 M849.0,1491.1 Q831.5,1499.4 830.6,1512.4 M833.8,1502.1 L820.9,1502.3 M868.7,1500.4 Q854.2,1508.4 849.8,1519.3 M886.1,1512.3 Q882.3,1541.8 861.9,1548.2 M877.0,1539.1 L881.1,1556.9 M897.8,1530.7 Q885.1,1562.2 859.8,1568.5 M880.0,1559.0 L862.3,1550.9 M908.0,1549.7 Q889.7,1557.8 875.5,1565.2 M910.6,1571.3 Q893.0,1570.3 882.0,1577.0 M913.0,1593.0 Q889.3,1618.0 865.0,1610.7 M913.5,1614.9 Q897.1,1618.4 884.9,1616.2 M913.8,1636.7 Q885.1,1639.1 862.3,1631.0 M913.4,1658.5 Q889.8,1657.6 873.3,1648.1 M912.8,1680.2 Q892.0,1682.3 882.7,1671.0 M892.4,1678.6 L891.6,1662.7" fill="none" stroke="#262626" stroke-width="5.0" stroke-linecap="round" stroke-linejoin="round"/>
</g>
<path d="M781,1490 L781,1560" stroke="#2a2a2a" stroke-width="4"/>
<path d="M770,1545 C776,1555 786,1555 792,1545" stroke="#3a3a3a" stroke-width="5" fill="none"/>
<path d="M776,1598 C765,1585 748,1582 741,1590 C748,1600 762,1604 776,1604 Z" fill="#161616"/>
<path d="M786,1598 C797,1585 814,1582 821,1590 C814,1600 800,1604 786,1604 Z" fill="#161616"/>
<path d="M778,1612 C775,1625 777,1638 781,1645 C785,1638 787,1625 784,1612 Z" fill="#1a1a1a"/>
<path d="M660,1625 C680,1622 700,1626 722,1632" stroke="#2a2a2a" stroke-width="5" fill="none"/>
<path d="M902,1625 C882,1622 862,1626 840,1632" stroke="#2a2a2a" stroke-width="5" fill="none"/>
<ellipse cx="727" cy="1670" rx="18" ry="14" fill="#5a5a5a"/><ellipse cx="727" cy="1670" rx="11" ry="7" fill="#7a7a7a"/>
<ellipse cx="834" cy="1670" rx="18" ry="14" fill="#5a5a5a"/><ellipse cx="834" cy="1670" rx="11" ry="7" fill="#7a7a7a"/>
<path d="M665,1660 C680,1652 695,1655 705,1662" stroke="#3a3a3a" stroke-width="4" fill="none"/>
<path d="M895,1660 C880,1652 865,1655 855,1662" stroke="#3a3a3a" stroke-width="4" fill="none"/>
<rect x="620" y="1690" width="320" height="70" fill="#1c1c1c"/>
<rect x="620" y="1705" width="320" height="55" filter="url(#fmix2)" opacity="0.5"/>
<path d="M750,1688 C750,1700 757,1714 781,1718 C805,1714 812,1700 812,1688 Z" fill="#b8b8b8"/>
<path d="M628.0,1755.0 C628.0,1750.3 628.3,1734.9 628.0,1726.7 C627.7,1718.5 628.7,1711.8 626.0,1706.0 C623.3,1700.2 615.2,1696.7 612.0,1692.0 C608.8,1687.3 607.0,1682.0 607.0,1678.0 C607.0,1674.0 608.5,1670.7 612.0,1668.0 C615.5,1665.3 625.3,1673.3 628.0,1662.0 C630.7,1650.7 626.8,1617.7 628.0,1600.4 C629.2,1583.1 630.9,1571.7 635.0,1558.2 C639.1,1544.7 645.0,1530.7 652.6,1519.6 C660.2,1508.5 669.5,1499.2 680.7,1491.6 C691.9,1484.0 703.0,1478.1 720.0,1474.0 C737.0,1469.9 762.5,1467.3 782.5,1467.0 C802.5,1466.7 822.5,1467.9 840.0,1472.0 C857.5,1476.1 875.1,1481.9 887.7,1491.6 C900.3,1501.3 909.4,1514.8 915.8,1530.0 C922.2,1545.2 924.5,1561.7 926.3,1582.8 C928.0,1603.9 924.5,1642.0 926.3,1656.5 C928.0,1671.0 935.0,1664.4 936.8,1670.0 C938.6,1675.6 938.1,1684.1 937.0,1690.0 C935.9,1695.9 931.8,1697.7 930.0,1705.6 C928.2,1713.5 925.8,1729.0 926.3,1737.2 C926.8,1745.4 932.1,1752.0 933.3,1755.0" fill="none" stroke="#2c2c2c" stroke-width="32.0" stroke-linejoin="round"/>
<path d="M628.0,1755.0 C628.0,1750.3 628.3,1734.9 628.0,1726.7 C627.7,1718.5 628.7,1711.8 626.0,1706.0 C623.3,1700.2 615.2,1696.7 612.0,1692.0 C608.8,1687.3 607.0,1682.0 607.0,1678.0 C607.0,1674.0 608.5,1670.7 612.0,1668.0 C615.5,1665.3 625.3,1673.3 628.0,1662.0 C630.7,1650.7 626.8,1617.7 628.0,1600.4 C629.2,1583.1 630.9,1571.7 635.0,1558.2 C639.1,1544.7 645.0,1530.7 652.6,1519.6 C660.2,1508.5 669.5,1499.2 680.7,1491.6 C691.9,1484.0 703.0,1478.1 720.0,1474.0 C737.0,1469.9 762.5,1467.3 782.5,1467.0 C802.5,1466.7 822.5,1467.9 840.0,1472.0 C857.5,1476.1 875.1,1481.9 887.7,1491.6 C900.3,1501.3 909.4,1514.8 915.8,1530.0 C922.2,1545.2 924.5,1561.7 926.3,1582.8 C928.0,1603.9 924.5,1642.0 926.3,1656.5 C928.0,1671.0 935.0,1664.4 936.8,1670.0 C938.6,1675.6 938.1,1684.1 937.0,1690.0 C935.9,1695.9 931.8,1697.7 930.0,1705.6 C928.2,1713.5 925.8,1729.0 926.3,1737.2 C926.8,1745.4 932.1,1752.0 933.3,1755.0" fill="none" stroke="#cfcfcf" stroke-width="24.0" stroke-linejoin="round"/>
<path d="M628.0,1755.0 C628.0,1750.3 628.3,1734.9 628.0,1726.7 C627.7,1718.5 628.7,1711.8 626.0,1706.0 C623.3,1700.2 615.2,1696.7 612.0,1692.0 C608.8,1687.3 607.0,1682.0 607.0,1678.0 C607.0,1674.0 608.5,1670.7 612.0,1668.0 C615.5,1665.3 625.3,1673.3 628.0,1662.0 C630.7,1650.7 626.8,1617.7 628.0,1600.4 C629.2,1583.1 630.9,1571.7 635.0,1558.2 C639.1,1544.7 645.0,1530.7 652.6,1519.6 C660.2,1508.5 669.5,1499.2 680.7,1491.6 C691.9,1484.0 703.0,1478.1 720.0,1474.0 C737.0,1469.9 762.5,1467.3 782.5,1467.0 C802.5,1466.7 822.5,1467.9 840.0,1472.0 C857.5,1476.1 875.1,1481.9 887.7,1491.6 C900.3,1501.3 909.4,1514.8 915.8,1530.0 C922.2,1545.2 924.5,1561.7 926.3,1582.8 C928.0,1603.9 924.5,1642.0 926.3,1656.5 C928.0,1671.0 935.0,1664.4 936.8,1670.0 C938.6,1675.6 938.1,1684.1 937.0,1690.0 C935.9,1695.9 931.8,1697.7 930.0,1705.6 C928.2,1713.5 925.8,1729.0 926.3,1737.2 C926.8,1745.4 932.1,1752.0 933.3,1755.0" fill="none" stroke="#3a3a3a" stroke-width="17.0" stroke-linejoin="round"/>
<path d="M628.0,1755.0 C628.0,1750.3 628.3,1734.9 628.0,1726.7 C627.7,1718.5 628.7,1711.8 626.0,1706.0 C623.3,1700.2 615.2,1696.7 612.0,1692.0 C608.8,1687.3 607.0,1682.0 607.0,1678.0 C607.0,1674.0 608.5,1670.7 612.0,1668.0 C615.5,1665.3 625.3,1673.3 628.0,1662.0 C630.7,1650.7 626.8,1617.7 628.0,1600.4 C629.2,1583.1 630.9,1571.7 635.0,1558.2 C639.1,1544.7 645.0,1530.7 652.6,1519.6 C660.2,1508.5 669.5,1499.2 680.7,1491.6 C691.9,1484.0 703.0,1478.1 720.0,1474.0 C737.0,1469.9 762.5,1467.3 782.5,1467.0 C802.5,1466.7 822.5,1467.9 840.0,1472.0 C857.5,1476.1 875.1,1481.9 887.7,1491.6 C900.3,1501.3 909.4,1514.8 915.8,1530.0 C922.2,1545.2 924.5,1561.7 926.3,1582.8 C928.0,1603.9 924.5,1642.0 926.3,1656.5 C928.0,1671.0 935.0,1664.4 936.8,1670.0 C938.6,1675.6 938.1,1684.1 937.0,1690.0 C935.9,1695.9 931.8,1697.7 930.0,1705.6 C928.2,1713.5 925.8,1729.0 926.3,1737.2 C926.8,1745.4 932.1,1752.0 933.3,1755.0" fill="none" stroke="#bdbdbd" stroke-width="12.0" stroke-linejoin="round"/>
<path d="M628.0,1755.0 C628.0,1750.3 628.3,1734.9 628.0,1726.7 C627.7,1718.5 628.7,1711.8 626.0,1706.0 C623.3,1700.2 615.2,1696.7 612.0,1692.0 C608.8,1687.3 607.0,1682.0 607.0,1678.0 C607.0,1674.0 608.5,1670.7 612.0,1668.0 C615.5,1665.3 625.3,1673.3 628.0,1662.0 C630.7,1650.7 626.8,1617.7 628.0,1600.4 C629.2,1583.1 630.9,1571.7 635.0,1558.2 C639.1,1544.7 645.0,1530.7 652.6,1519.6 C660.2,1508.5 669.5,1499.2 680.7,1491.6 C691.9,1484.0 703.0,1478.1 720.0,1474.0 C737.0,1469.9 762.5,1467.3 782.5,1467.0 C802.5,1466.7 822.5,1467.9 840.0,1472.0 C857.5,1476.1 875.1,1481.9 887.7,1491.6 C900.3,1501.3 909.4,1514.8 915.8,1530.0 C922.2,1545.2 924.5,1561.7 926.3,1582.8 C928.0,1603.9 924.5,1642.0 926.3,1656.5 C928.0,1671.0 935.0,1664.4 936.8,1670.0 C938.6,1675.6 938.1,1684.1 937.0,1690.0 C935.9,1695.9 931.8,1697.7 930.0,1705.6 C928.2,1713.5 925.8,1729.0 926.3,1737.2 C926.8,1745.4 932.1,1752.0 933.3,1755.0" fill="none" stroke="#000" stroke-width="34" filter="url(#fnoise)" opacity="0.4"/>
</g>
<path d="M628.0,1755.0 C628.0,1750.3 628.3,1734.9 628.0,1726.7 C627.7,1718.5 628.7,1711.8 626.0,1706.0 C623.3,1700.2 615.2,1696.7 612.0,1692.0 C608.8,1687.3 607.0,1682.0 607.0,1678.0 C607.0,1674.0 608.5,1670.7 612.0,1668.0 C615.5,1665.3 625.3,1673.3 628.0,1662.0 C630.7,1650.7 626.8,1617.7 628.0,1600.4 C629.2,1583.1 630.9,1571.7 635.0,1558.2 C639.1,1544.7 645.0,1530.7 652.6,1519.6 C660.2,1508.5 669.5,1499.2 680.7,1491.6 C691.9,1484.0 703.0,1478.1 720.0,1474.0 C737.0,1469.9 762.5,1467.3 782.5,1467.0 C802.5,1466.7 822.5,1467.9 840.0,1472.0 C857.5,1476.1 875.1,1481.9 887.7,1491.6 C900.3,1501.3 909.4,1514.8 915.8,1530.0 C922.2,1545.2 924.5,1561.7 926.3,1582.8 C928.0,1603.9 924.5,1642.0 926.3,1656.5 C928.0,1671.0 935.0,1664.4 936.8,1670.0 C938.6,1675.6 938.1,1684.1 937.0,1690.0 C935.9,1695.9 931.8,1697.7 930.0,1705.6 C928.2,1713.5 925.8,1729.0 926.3,1737.2 C926.8,1745.4 932.1,1752.0 933.3,1755.0" fill="none" stroke="#1a1a1a" stroke-width="1.6"/>
<g clip-path="url(#cAx)">
<rect x="630" y="1770" width="310" height="340" fill="#2a2a2a"/>
<path d="M780.1,1790.8 L760.8,1793.5 L741.2,1801.9 L710.5,1826.5 L689.1,1854.0 L670.2,1895.1 L658.9,1939.8 L655.7,1981.4 L658.9,2022.2 L669.1,2051.1 L685.4,2070.2 L711.2,2084.6 L745.2,2092.3 L783.9,2095.5 L829.5,2093.9 L866.2,2087.7 L884.2,2077.5 L897.4,2058.9 L906.3,2029.3 L909.5,1991.2 L907.8,1952.2 L903.1,1917.2 L890.2,1878.6 L874.2,1843.5 L853.3,1813.6 L825.5,1796.8 Z" fill="#a9a9a9"/>
<g clip-path="url(#cAxB)">
<path d="M780.1,1790.8 L760.8,1793.5 L741.2,1801.9 L710.5,1826.5 L689.1,1854.0 L670.2,1895.1 L658.9,1939.8 L655.7,1981.4 L658.9,2022.2 L669.1,2051.1 L685.4,2070.2 L711.2,2084.6 L745.2,2092.3 L783.9,2095.5 L829.5,2093.9 L866.2,2087.7 L884.2,2077.5 L897.4,2058.9 L906.3,2029.3 L909.5,1991.2 L907.8,1952.2 L903.1,1917.2 L890.2,1878.6 L874.2,1843.5 L853.3,1813.6 L825.5,1796.8 Z" fill="none" stroke="#666" stroke-width="16"/>
<path d="M779.9,1786.8 Q779.5,1805.4 780.8,1819.9 M779.9,1806.8 L768.2,1814.5 M758.7,1790.1 Q775.2,1800.9 774.0,1814.2 M739.1,1798.6 Q756.6,1809.2 762.1,1823.6 M722.6,1811.7 Q730.8,1835.6 748.2,1843.2 M706.6,1825.1 Q735.0,1826.3 748.4,1843.5 M693.9,1841.5 Q718.7,1854.6 740.6,1864.4 M682.6,1858.7 Q712.3,1849.7 729.2,1865.3 M674.0,1877.4 Q699.1,1875.6 717.4,1884.3 M700.4,1878.4 L705.3,1895.0 M665.8,1896.3 Q688.4,1916.9 711.3,1912.4 M660.8,1916.2 Q690.0,1913.8 714.4,1918.7 M655.8,1936.1 Q677.1,1952.1 695.0,1944.9 M653.7,1956.5 Q669.8,1946.8 682.4,1950.9 M671.1,1949.5 L678.2,1960.6 M652.1,1976.9 Q679.5,1970.4 703.4,1970.0 M653.0,1997.4 Q676.5,1994.9 695.7,1991.1 M654.6,2017.9 Q671.5,2009.1 686.2,2008.1 M660.1,2037.5 Q673.3,2028.2 685.0,2027.2 M668.4,2056.1 Q695.2,2054.6 713.5,2042.8 M696.2,2051.5 L699.6,2030.0 M681.7,2071.8 Q702.1,2071.9 712.6,2061.3 M699.6,2082.2 Q708.1,2060.3 724.5,2057.3 M718.8,2089.6 Q726.2,2053.8 752.4,2044.0 M739.1,2094.7 Q741.6,2070.5 756.4,2060.0 M745.5,2071.2 L764.5,2072.8 M760.2,2097.4 Q768.0,2083.6 770.7,2072.1 M767.7,2082.2 L778.2,2080.2 M781.7,2099.3 Q771.3,2070.2 777.3,2045.5 M774.6,2067.8 L758.3,2057.7 M803.2,2098.6 Q800.6,2082.5 795.8,2071.3 M799.6,2081.6 L785.8,2078.4 M824.5,2097.4 Q807.7,2085.3 802.3,2070.4 M845.2,2094.5 Q818.3,2079.5 802.9,2058.5 M818.2,2075.9 L790.3,2083.3 M865.6,2090.7 Q848.0,2079.7 834.9,2069.4 M883.9,2081.6 Q864.2,2066.2 845.2,2057.9 M897.1,2066.1 Q881.9,2040.1 859.7,2040.2 M905.0,2047.4 Q887.2,2033.2 869.5,2031.2 M884.8,2034.8 L881.8,2020.3 M910.4,2027.6 Q890.7,2028.5 877.0,2021.9 M889.7,2026.4 L884.9,2009.6 M912.1,2007.2 Q892.0,2007.2 877.0,2002.3 M913.2,1986.7 Q896.8,1981.1 883.7,1981.1 M895.4,1982.0 L890.3,1970.1 M912.4,1966.2 Q892.6,1958.2 876.1,1960.4 M911.0,1945.8 Q895.6,1955.7 884.3,1950.7 M908.2,1925.5 Q879.6,1940.0 853.8,1935.3 M903.3,1905.6 Q880.6,1915.9 860.4,1914.9 M878.3,1914.0 L865.6,1897.7 M896.8,1886.1 Q872.1,1902.7 847.8,1902.2 M889.2,1867.0 Q871.1,1864.2 860.2,1871.6 M880.7,1848.2 Q863.2,1872.2 840.6,1872.9 M870.0,1830.6 Q852.7,1850.8 832.1,1856.4 M849.5,1849.2 L832.2,1838.7 M858.1,1813.5 Q843.3,1821.1 833.9,1829.4 M841.1,1801.7 Q831.8,1827.8 812.8,1838.7 M822.4,1792.7 Q824.9,1829.0 802.4,1844.8 M801.3,1789.6 Q794.4,1806.6 791.5,1820.6 M794.6,1808.2 L800.6,1814.5" fill="none" stroke="#6c6c6c" stroke-width="11.0" stroke-linecap="round" stroke-linejoin="round"/><path d="M779.9,1786.8 Q779.5,1805.4 780.8,1819.9 M779.9,1806.8 L768.2,1814.5 M758.7,1790.1 Q775.2,1800.9 774.0,1814.2 M739.1,1798.6 Q756.6,1809.2 762.1,1823.6 M722.6,1811.7 Q730.8,1835.6 748.2,1843.2 M706.6,1825.1 Q735.0,1826.3 748.4,1843.5 M693.9,1841.5 Q718.7,1854.6 740.6,1864.4 M682.6,1858.7 Q712.3,1849.7 729.2,1865.3 M674.0,1877.4 Q699.1,1875.6 717.4,1884.3 M700.4,1878.4 L705.3,1895.0 M665.8,1896.3 Q688.4,1916.9 711.3,1912.4 M660.8,1916.2 Q690.0,1913.8 714.4,1918.7 M655.8,1936.1 Q677.1,1952.1 695.0,1944.9 M653.7,1956.5 Q669.8,1946.8 682.4,1950.9 M671.1,1949.5 L678.2,1960.6 M652.1,1976.9 Q679.5,1970.4 703.4,1970.0 M653.0,1997.4 Q676.5,1994.9 695.7,1991.1 M654.6,2017.9 Q671.5,2009.1 686.2,2008.1 M660.1,2037.5 Q673.3,2028.2 685.0,2027.2 M668.4,2056.1 Q695.2,2054.6 713.5,2042.8 M696.2,2051.5 L699.6,2030.0 M681.7,2071.8 Q702.1,2071.9 712.6,2061.3 M699.6,2082.2 Q708.1,2060.3 724.5,2057.3 M718.8,2089.6 Q726.2,2053.8 752.4,2044.0 M739.1,2094.7 Q741.6,2070.5 756.4,2060.0 M745.5,2071.2 L764.5,2072.8 M760.2,2097.4 Q768.0,2083.6 770.7,2072.1 M767.7,2082.2 L778.2,2080.2 M781.7,2099.3 Q771.3,2070.2 777.3,2045.5 M774.6,2067.8 L758.3,2057.7 M803.2,2098.6 Q800.6,2082.5 795.8,2071.3 M799.6,2081.6 L785.8,2078.4 M824.5,2097.4 Q807.7,2085.3 802.3,2070.4 M845.2,2094.5 Q818.3,2079.5 802.9,2058.5 M818.2,2075.9 L790.3,2083.3 M865.6,2090.7 Q848.0,2079.7 834.9,2069.4 M883.9,2081.6 Q864.2,2066.2 845.2,2057.9 M897.1,2066.1 Q881.9,2040.1 859.7,2040.2 M905.0,2047.4 Q887.2,2033.2 869.5,2031.2 M884.8,2034.8 L881.8,2020.3 M910.4,2027.6 Q890.7,2028.5 877.0,2021.9 M889.7,2026.4 L884.9,2009.6 M912.1,2007.2 Q892.0,2007.2 877.0,2002.3 M913.2,1986.7 Q896.8,1981.1 883.7,1981.1 M895.4,1982.0 L890.3,1970.1 M912.4,1966.2 Q892.6,1958.2 876.1,1960.4 M911.0,1945.8 Q895.6,1955.7 884.3,1950.7 M908.2,1925.5 Q879.6,1940.0 853.8,1935.3 M903.3,1905.6 Q880.6,1915.9 860.4,1914.9 M878.3,1914.0 L865.6,1897.7 M896.8,1886.1 Q872.1,1902.7 847.8,1902.2 M889.2,1867.0 Q871.1,1864.2 860.2,1871.6 M880.7,1848.2 Q863.2,1872.2 840.6,1872.9 M870.0,1830.6 Q852.7,1850.8 832.1,1856.4 M849.5,1849.2 L832.2,1838.7 M858.1,1813.5 Q843.3,1821.1 833.9,1829.4 M841.1,1801.7 Q831.8,1827.8 812.8,1838.7 M822.4,1792.7 Q824.9,1829.0 802.4,1844.8 M801.3,1789.6 Q794.4,1806.6 791.5,1820.6 M794.6,1808.2 L800.6,1814.5" fill="none" stroke="#262626" stroke-width="5.0" stroke-linecap="round" stroke-linejoin="round"/>
<path d="M770.7,1823.5 Q761.6,1812.6 752.8,1813.7 M760.1,1814.5 L756.2,1817.9 M767.6,1845.5 Q758.1,1834.3 749.0,1836.1 M756.6,1836.5 L751.5,1841.4 M764.6,1867.5 Q750.8,1864.5 741.0,1862.3 M749.8,1864.3 L747.9,1858.1 M761.5,1889.5 Q748.3,1895.2 740.9,1890.0 M747.9,1892.7 L745.3,1886.1 M759.2,1911.6 Q741.8,1903.2 727.4,1904.9 M757.8,1933.7 Q747.1,1928.9 740.1,1930.7 M756.3,1955.9 Q739.0,1966.7 725.4,1961.7 M737.6,1963.6 L731.0,1975.3 M757.6,1978.0 Q742.9,1976.0 732.6,1978.4 M759.4,2000.1 Q745.5,2010.2 733.8,2007.8 M744.1,2008.0 L740.3,2017.1 M761.3,2022.2 Q748.4,2017.8 741.5,2022.7 M764.7,2044.1 Q746.2,2039.0 735.3,2046.8 M745.7,2042.1 L736.0,2032.3 M768.7,2066.0 Q757.4,2076.5 747.0,2076.2 M772.7,2087.9 Q760.1,2096.6 749.3,2098.3" fill="none" stroke="#6c6c6c" stroke-width="11.0" stroke-linecap="round" stroke-linejoin="round"/><path d="M770.7,1823.5 Q761.6,1812.6 752.8,1813.7 M760.1,1814.5 L756.2,1817.9 M767.6,1845.5 Q758.1,1834.3 749.0,1836.1 M756.6,1836.5 L751.5,1841.4 M764.6,1867.5 Q750.8,1864.5 741.0,1862.3 M749.8,1864.3 L747.9,1858.1 M761.5,1889.5 Q748.3,1895.2 740.9,1890.0 M747.9,1892.7 L745.3,1886.1 M759.2,1911.6 Q741.8,1903.2 727.4,1904.9 M757.8,1933.7 Q747.1,1928.9 740.1,1930.7 M756.3,1955.9 Q739.0,1966.7 725.4,1961.7 M737.6,1963.6 L731.0,1975.3 M757.6,1978.0 Q742.9,1976.0 732.6,1978.4 M759.4,2000.1 Q745.5,2010.2 733.8,2007.8 M744.1,2008.0 L740.3,2017.1 M761.3,2022.2 Q748.4,2017.8 741.5,2022.7 M764.7,2044.1 Q746.2,2039.0 735.3,2046.8 M745.7,2042.1 L736.0,2032.3 M768.7,2066.0 Q757.4,2076.5 747.0,2076.2 M772.7,2087.9 Q760.1,2096.6 749.3,2098.3" fill="none" stroke="#262626" stroke-width="4.5" stroke-linecap="round" stroke-linejoin="round"/>
<path d="M795.2,1823.1 Q808.0,1816.3 818.0,1814.5 M809.2,1816.7 L811.0,1808.9 M798.3,1844.7 Q812.5,1843.1 822.0,1839.4 M813.3,1842.2 L816.1,1832.2 M801.3,1866.4 Q814.0,1870.5 820.6,1865.6 M804.3,1888.1 Q816.8,1879.4 827.0,1880.9 M818.1,1881.1 L821.2,1873.0 M806.6,1909.8 Q825.1,1910.3 839.2,1907.4 M808.1,1931.5 Q821.8,1935.5 831.1,1932.7 M822.6,1934.0 L826.4,1939.7 M809.6,1953.3 Q821.5,1958.1 829.6,1955.8 M808.7,1975.1 Q824.9,1986.9 838.2,1982.5 M806.8,1996.8 Q820.9,1990.3 829.3,1995.6 M805.0,2018.6 Q815.1,2019.4 820.9,2021.0 M802.1,2040.2 Q821.5,2034.8 833.6,2042.7 M822.1,2037.9 L833.1,2026.6 M798.1,2061.7 Q806.9,2067.6 813.1,2067.7 M807.7,2066.8 L811.1,2063.5 M794.1,2083.3 Q814.5,2079.2 826.2,2088.5" fill="none" stroke="#6c6c6c" stroke-width="11.0" stroke-linecap="round" stroke-linejoin="round"/><path d="M795.2,1823.1 Q808.0,1816.3 818.0,1814.5 M809.2,1816.7 L811.0,1808.9 M798.3,1844.7 Q812.5,1843.1 822.0,1839.4 M813.3,1842.2 L816.1,1832.2 M801.3,1866.4 Q814.0,1870.5 820.6,1865.6 M804.3,1888.1 Q816.8,1879.4 827.0,1880.9 M818.1,1881.1 L821.2,1873.0 M806.6,1909.8 Q825.1,1910.3 839.2,1907.4 M808.1,1931.5 Q821.8,1935.5 831.1,1932.7 M822.6,1934.0 L826.4,1939.7 M809.6,1953.3 Q821.5,1958.1 829.6,1955.8 M808.7,1975.1 Q824.9,1986.9 838.2,1982.5 M806.8,1996.8 Q820.9,1990.3 829.3,1995.6 M805.0,2018.6 Q815.1,2019.4 820.9,2021.0 M802.1,2040.2 Q821.5,2034.8 833.6,2042.7 M822.1,2037.9 L833.1,2026.6 M798.1,2061.7 Q806.9,2067.6 813.1,2067.7 M807.7,2066.8 L811.1,2063.5 M794.1,2083.3 Q814.5,2079.2 826.2,2088.5" fill="none" stroke="#262626" stroke-width="4.5" stroke-linecap="round" stroke-linejoin="round"/>
</g>
<clipPath id="cAxMid"><path d="M774,1795 C766,1850 748,1900 750,1960 C752,2010 766,2050 770,2100 L796,2100 C800,2050 812,2010 814,1960 C816,1900 800,1850 792,1795 Z"/></clipPath>
<g clip-path="url(#cAxMid)"><rect x="750" y="1790" width="70" height="310" filter="url(#fmid)"/></g>
<path d="M782,1790 L783,2095" stroke="#222" stroke-width="3"/>
<path d="M780.1,1790.8 L760.8,1793.5 L741.2,1801.9 L710.5,1826.5 L689.1,1854.0 L670.2,1895.1 L658.9,1939.8 L655.7,1981.4 L658.9,2022.2 L669.1,2051.1 L685.4,2070.2 L711.2,2084.6 L745.2,2092.3 L783.9,2095.5 L829.5,2093.9 L866.2,2087.7 L884.2,2077.5 L897.4,2058.9 L906.3,2029.3 L909.5,1991.2 L907.8,1952.2 L903.1,1917.2 L890.2,1878.6 L874.2,1843.5 L853.3,1813.6 L825.5,1796.8 Z" fill="none" stroke="#555" stroke-width="6" opacity="0.8"/>
<path d="M780.0,1773.6 C792.5,1774.2 817.0,1775.9 831.2,1780.4 C845.4,1785.0 855.6,1791.8 865.2,1800.9 C874.8,1810.0 882.2,1823.1 889.0,1835.0 C895.8,1846.9 900.9,1859.4 906.0,1872.4 C911.1,1885.5 916.6,1900.2 919.7,1913.3 C922.8,1926.3 923.7,1937.7 924.8,1950.7 C925.9,1963.8 926.8,1978.0 926.5,1991.6 C926.2,2005.2 925.4,2020.0 923.1,2032.5 C920.8,2045.0 917.4,2056.8 912.9,2066.5 C908.4,2076.2 902.7,2084.2 895.9,2090.4 C889.1,2096.7 882.8,2100.6 872.0,2104.0 C861.2,2107.4 846.0,2109.4 831.2,2110.8 C816.5,2112.2 798.3,2112.8 783.5,2112.5 C768.7,2112.2 755.7,2111.1 742.6,2109.1 C729.5,2107.1 716.5,2104.8 705.1,2100.6 C693.8,2096.3 683.0,2090.4 674.5,2083.6 C666.0,2076.8 659.5,2069.3 654.1,2059.7 C648.7,2050.0 644.7,2038.8 642.1,2025.7 C639.5,2012.7 638.7,1996.2 638.7,1981.4 C638.7,1966.6 639.5,1952.4 642.1,1937.1 C644.7,1921.8 648.7,1904.7 654.1,1889.4 C659.5,1874.1 667.1,1857.6 674.5,1845.1 C681.9,1832.6 688.6,1824.2 698.3,1814.5 C707.9,1804.8 722.8,1793.5 732.4,1787.2 C742.0,1781.0 748.3,1779.3 756.2,1777.0 C764.1,1774.7 767.5,1773.0 780.0,1773.6 Z" fill="none" stroke="#2a2a2a" stroke-width="34.0" stroke-linejoin="round"/>
<path d="M780.0,1773.6 C792.5,1774.2 817.0,1775.9 831.2,1780.4 C845.4,1785.0 855.6,1791.8 865.2,1800.9 C874.8,1810.0 882.2,1823.1 889.0,1835.0 C895.8,1846.9 900.9,1859.4 906.0,1872.4 C911.1,1885.5 916.6,1900.2 919.7,1913.3 C922.8,1926.3 923.7,1937.7 924.8,1950.7 C925.9,1963.8 926.8,1978.0 926.5,1991.6 C926.2,2005.2 925.4,2020.0 923.1,2032.5 C920.8,2045.0 917.4,2056.8 912.9,2066.5 C908.4,2076.2 902.7,2084.2 895.9,2090.4 C889.1,2096.7 882.8,2100.6 872.0,2104.0 C861.2,2107.4 846.0,2109.4 831.2,2110.8 C816.5,2112.2 798.3,2112.8 783.5,2112.5 C768.7,2112.2 755.7,2111.1 742.6,2109.1 C729.5,2107.1 716.5,2104.8 705.1,2100.6 C693.8,2096.3 683.0,2090.4 674.5,2083.6 C666.0,2076.8 659.5,2069.3 654.1,2059.7 C648.7,2050.0 644.7,2038.8 642.1,2025.7 C639.5,2012.7 638.7,1996.2 638.7,1981.4 C638.7,1966.6 639.5,1952.4 642.1,1937.1 C644.7,1921.8 648.7,1904.7 654.1,1889.4 C659.5,1874.1 667.1,1857.6 674.5,1845.1 C681.9,1832.6 688.6,1824.2 698.3,1814.5 C707.9,1804.8 722.8,1793.5 732.4,1787.2 C742.0,1781.0 748.3,1779.3 756.2,1777.0 C764.1,1774.7 767.5,1773.0 780.0,1773.6 Z" fill="none" stroke="#d4d4d4" stroke-width="26.0" stroke-linejoin="round"/>
<path d="M780.0,1773.6 C792.5,1774.2 817.0,1775.9 831.2,1780.4 C845.4,1785.0 855.6,1791.8 865.2,1800.9 C874.8,1810.0 882.2,1823.1 889.0,1835.0 C895.8,1846.9 900.9,1859.4 906.0,1872.4 C911.1,1885.5 916.6,1900.2 919.7,1913.3 C922.8,1926.3 923.7,1937.7 924.8,1950.7 C925.9,1963.8 926.8,1978.0 926.5,1991.6 C926.2,2005.2 925.4,2020.0 923.1,2032.5 C920.8,2045.0 917.4,2056.8 912.9,2066.5 C908.4,2076.2 902.7,2084.2 895.9,2090.4 C889.1,2096.7 882.8,2100.6 872.0,2104.0 C861.2,2107.4 846.0,2109.4 831.2,2110.8 C816.5,2112.2 798.3,2112.8 783.5,2112.5 C768.7,2112.2 755.7,2111.1 742.6,2109.1 C729.5,2107.1 716.5,2104.8 705.1,2100.6 C693.8,2096.3 683.0,2090.4 674.5,2083.6 C666.0,2076.8 659.5,2069.3 654.1,2059.7 C648.7,2050.0 644.7,2038.8 642.1,2025.7 C639.5,2012.7 638.7,1996.2 638.7,1981.4 C638.7,1966.6 639.5,1952.4 642.1,1937.1 C644.7,1921.8 648.7,1904.7 654.1,1889.4 C659.5,1874.1 667.1,1857.6 674.5,1845.1 C681.9,1832.6 688.6,1824.2 698.3,1814.5 C707.9,1804.8 722.8,1793.5 732.4,1787.2 C742.0,1781.0 748.3,1779.3 756.2,1777.0 C764.1,1774.7 767.5,1773.0 780.0,1773.6 Z" fill="none" stroke="#3a3a3a" stroke-width="18.0" stroke-linejoin="round"/>
<path d="M780.0,1773.6 C792.5,1774.2 817.0,1775.9 831.2,1780.4 C845.4,1785.0 855.6,1791.8 865.2,1800.9 C874.8,1810.0 882.2,1823.1 889.0,1835.0 C895.8,1846.9 900.9,1859.4 906.0,1872.4 C911.1,1885.5 916.6,1900.2 919.7,1913.3 C922.8,1926.3 923.7,1937.7 924.8,1950.7 C925.9,1963.8 926.8,1978.0 926.5,1991.6 C926.2,2005.2 925.4,2020.0 923.1,2032.5 C920.8,2045.0 917.4,2056.8 912.9,2066.5 C908.4,2076.2 902.7,2084.2 895.9,2090.4 C889.1,2096.7 882.8,2100.6 872.0,2104.0 C861.2,2107.4 846.0,2109.4 831.2,2110.8 C816.5,2112.2 798.3,2112.8 783.5,2112.5 C768.7,2112.2 755.7,2111.1 742.6,2109.1 C729.5,2107.1 716.5,2104.8 705.1,2100.6 C693.8,2096.3 683.0,2090.4 674.5,2083.6 C666.0,2076.8 659.5,2069.3 654.1,2059.7 C648.7,2050.0 644.7,2038.8 642.1,2025.7 C639.5,2012.7 638.7,1996.2 638.7,1981.4 C638.7,1966.6 639.5,1952.4 642.1,1937.1 C644.7,1921.8 648.7,1904.7 654.1,1889.4 C659.5,1874.1 667.1,1857.6 674.5,1845.1 C681.9,1832.6 688.6,1824.2 698.3,1814.5 C707.9,1804.8 722.8,1793.5 732.4,1787.2 C742.0,1781.0 748.3,1779.3 756.2,1777.0 C764.1,1774.7 767.5,1773.0 780.0,1773.6 Z" fill="none" stroke="#c4c4c4" stroke-width="13.0" stroke-linejoin="round"/>
<path d="M780.0,1773.6 C792.5,1774.2 817.0,1775.9 831.2,1780.4 C845.4,1785.0 855.6,1791.8 865.2,1800.9 C874.8,1810.0 882.2,1823.1 889.0,1835.0 C895.8,1846.9 900.9,1859.4 906.0,1872.4 C911.1,1885.5 916.6,1900.2 919.7,1913.3 C922.8,1926.3 923.7,1937.7 924.8,1950.7 C925.9,1963.8 926.8,1978.0 926.5,1991.6 C926.2,2005.2 925.4,2020.0 923.1,2032.5 C920.8,2045.0 917.4,2056.8 912.9,2066.5 C908.4,2076.2 902.7,2084.2 895.9,2090.4 C889.1,2096.7 882.8,2100.6 872.0,2104.0 C861.2,2107.4 846.0,2109.4 831.2,2110.8 C816.5,2112.2 798.3,2112.8 783.5,2112.5 C768.7,2112.2 755.7,2111.1 742.6,2109.1 C729.5,2107.1 716.5,2104.8 705.1,2100.6 C693.8,2096.3 683.0,2090.4 674.5,2083.6 C666.0,2076.8 659.5,2069.3 654.1,2059.7 C648.7,2050.0 644.7,2038.8 642.1,2025.7 C639.5,2012.7 638.7,1996.2 638.7,1981.4 C638.7,1966.6 639.5,1952.4 642.1,1937.1 C644.7,1921.8 648.7,1904.7 654.1,1889.4 C659.5,1874.1 667.1,1857.6 674.5,1845.1 C681.9,1832.6 688.6,1824.2 698.3,1814.5 C707.9,1804.8 722.8,1793.5 732.4,1787.2 C742.0,1781.0 748.3,1779.3 756.2,1777.0 C764.1,1774.7 767.5,1773.0 780.0,1773.6 Z" fill="none" stroke="#000" stroke-width="34" filter="url(#fnoise)" opacity="0.4"/>
</g>
<path d="M780.0,1773.6 C792.5,1774.2 817.0,1775.9 831.2,1780.4 C845.4,1785.0 855.6,1791.8 865.2,1800.9 C874.8,1810.0 882.2,1823.1 889.0,1835.0 C895.8,1846.9 900.9,1859.4 906.0,1872.4 C911.1,1885.5 916.6,1900.2 919.7,1913.3 C922.8,1926.3 923.7,1937.7 924.8,1950.7 C925.9,1963.8 926.8,1978.0 926.5,1991.6 C926.2,2005.2 925.4,2020.0 923.1,2032.5 C920.8,2045.0 917.4,2056.8 912.9,2066.5 C908.4,2076.2 902.7,2084.2 895.9,2090.4 C889.1,2096.7 882.8,2100.6 872.0,2104.0 C861.2,2107.4 846.0,2109.4 831.2,2110.8 C816.5,2112.2 798.3,2112.8 783.5,2112.5 C768.7,2112.2 755.7,2111.1 742.6,2109.1 C729.5,2107.1 716.5,2104.8 705.1,2100.6 C693.8,2096.3 683.0,2090.4 674.5,2083.6 C666.0,2076.8 659.5,2069.3 654.1,2059.7 C648.7,2050.0 644.7,2038.8 642.1,2025.7 C639.5,2012.7 638.7,1996.2 638.7,1981.4 C638.7,1966.6 639.5,1952.4 642.1,1937.1 C644.7,1921.8 648.7,1904.7 654.1,1889.4 C659.5,1874.1 667.1,1857.6 674.5,1845.1 C681.9,1832.6 688.6,1824.2 698.3,1814.5 C707.9,1804.8 722.8,1793.5 732.4,1787.2 C742.0,1781.0 748.3,1779.3 756.2,1777.0 C764.1,1774.7 767.5,1773.0 780.0,1773.6 Z" fill="none" stroke="#1a1a1a" stroke-width="1.6"/>
<path d="M318,1570.6H676" stroke="#d6338f" stroke-width="3" stroke-dasharray="3,7"/>
<path d="M679.6,1580V1935" stroke="#d6338f" stroke-width="3" stroke-dasharray="3,7"/>
<path d="M308.4,1570.6L342.7,1548" stroke="#ea2d27" stroke-width="3"/><circle cx="308.4" cy="1570.6" r="5.8" fill="#ea2d27"/>
<path d="M570.2,1550.4L602.6,1527.6" stroke="#ea2d27" stroke-width="3"/><circle cx="570.2" cy="1550.4" r="5.8" fill="#ea2d27"/>
<path d="M681,1571L702,1546" stroke="#ea2d27" stroke-width="3"/><circle cx="681" cy="1571" r="5.8" fill="#ea2d27"/>
<path d="M681.2,1952.3L702.9,1918.8" stroke="#ea2d27" stroke-width="3"/><circle cx="681.2" cy="1952.3" r="5.8" fill="#ea2d27"/>
<text x="1.0" y="1437.0" font-size="58.0" font-weight="bold" font-family="'Liberation Sans',sans-serif">d</text>
<text x="218.5" y="1429.6" font-size="24.6" font-family="'Liberation Sans',sans-serif">Right lateral view</text>
<text x="702.0" y="1429.8" font-size="24.6" font-family="'Liberation Sans',sans-serif">Coronal view</text>
<text x="583.0" y="1459.9" font-size="24.6" text-anchor="middle" font-family="'Liberation Sans',sans-serif">Equivalent</text>
<text x="583.0" y="1488.9" font-size="24.6" text-anchor="middle" font-family="'Liberation Sans',sans-serif">current dipole</text>
<text x="583.0" y="1517.3" font-size="24.6" text-anchor="middle" font-family="'Liberation Sans',sans-serif">of N20m</text>
<text x="633.5" y="2115.4" font-size="24.6" font-family="'Liberation Sans',sans-serif">Right</text>
<text x="732.0" y="2157.6" font-size="24.6" font-family="'Liberation Sans',sans-serif">Axial view</text>
<ellipse cx="221.9" cy="1457.1" rx="1.8" ry="12.8" transform="rotate(-110.7 221.9 1457.1)" fill="none" stroke="#7b72c0" stroke-width="2.2"/>
<ellipse cx="220.1" cy="1452.5" rx="1.8" ry="12.8" transform="rotate(-110.7 220.1 1452.5)" fill="none" stroke="#7b72c0" stroke-width="2.2"/>
<ellipse cx="262.3" cy="1443.9" rx="1.6" ry="12.8" transform="rotate(-101.0 262.3 1443.9)" fill="none" stroke="#7b72c0" stroke-width="2.2"/>
<ellipse cx="313.5" cy="1443.9" rx="2.7" ry="12.8" transform="rotate(-89.2 313.5 1443.9)" fill="none" stroke="#7b72c0" stroke-width="2.2"/>
<ellipse cx="361.4" cy="1450.5" rx="3.1" ry="12.8" transform="rotate(-77.9 361.4 1450.5)" fill="none" stroke="#7b72c0" stroke-width="2.2"/>
<ellipse cx="184.3" cy="1475.2" rx="1.8" ry="12.8" transform="rotate(-120.3 184.3 1475.2)" fill="none" stroke="#7b72c0" stroke-width="2.2"/>
<ellipse cx="181.7" cy="1470.8" rx="1.8" ry="12.8" transform="rotate(-120.3 181.7 1470.8)" fill="none" stroke="#7b72c0" stroke-width="2.2"/>
<ellipse cx="252.4" cy="1454.8" rx="3.9" ry="12.8" transform="rotate(-103.8 252.4 1454.8)" fill="none" stroke="#7b72c0" stroke-width="2.2"/>
<ellipse cx="298.6" cy="1449.2" rx="4.1" ry="12.8" transform="rotate(-92.7 298.6 1449.2)" fill="none" stroke="#7b72c0" stroke-width="2.2"/>
<ellipse cx="391.0" cy="1459.7" rx="3.4" ry="12.8" transform="rotate(-70.6 391.0 1459.7)" fill="none" stroke="#7b72c0" stroke-width="2.2"/>
<ellipse cx="417.5" cy="1468.0" rx="2.5" ry="12.8" transform="rotate(-64.2 417.5 1468.0)" fill="none" stroke="#7b72c0" stroke-width="2.2"/>
<ellipse cx="447.2" cy="1482.8" rx="1.7" ry="12.8" transform="rotate(-56.5 447.2 1482.8)" fill="none" stroke="#7b72c0" stroke-width="2.2"/>
<ellipse cx="212.7" cy="1474.6" rx="5.0" ry="12.8" transform="rotate(-114.3 212.7 1474.6)" fill="none" stroke="#7b72c0" stroke-width="2.2"/>
<ellipse cx="252.4" cy="1474.6" rx="6.9" ry="12.8" transform="rotate(-105.0 252.4 1474.6)" fill="none" stroke="#7b72c0" stroke-width="2.2"/>
<ellipse cx="287.0" cy="1464.7" rx="6.5" ry="12.8" transform="rotate(-95.8 287.0 1464.7)" fill="none" stroke="#7b72c0" stroke-width="2.2"/>
<ellipse cx="330.0" cy="1467.0" rx="6.8" ry="12.8" transform="rotate(-84.9 330.0 1467.0)" fill="none" stroke="#7b72c0" stroke-width="2.2"/>
<ellipse cx="377.9" cy="1471.3" rx="6.2" ry="12.8" transform="rotate(-72.8 377.9 1471.3)" fill="none" stroke="#7b72c0" stroke-width="2.2"/>
<ellipse cx="415.8" cy="1475.6" rx="4.5" ry="12.8" transform="rotate(-63.7 415.8 1475.6)" fill="none" stroke="#7b72c0" stroke-width="2.2"/>
<ellipse cx="440.6" cy="1481.2" rx="2.7" ry="12.8" transform="rotate(-58.0 440.6 1481.2)" fill="none" stroke="#7b72c0" stroke-width="2.2"/>
<ellipse cx="168.2" cy="1489.4" rx="2.9" ry="12.8" transform="rotate(-125.3 168.2 1489.4)" fill="none" stroke="#7b72c0" stroke-width="2.2"/>
<ellipse cx="197.9" cy="1492.7" rx="6.4" ry="12.8" transform="rotate(-119.6 197.9 1492.7)" fill="none" stroke="#7b72c0" stroke-width="2.2"/>
<ellipse cx="230.9" cy="1497.7" rx="8.3" ry="12.8" transform="rotate(-112.4 230.9 1497.7)" fill="none" stroke="#7b72c0" stroke-width="2.2"/>
<ellipse cx="292.0" cy="1484.5" rx="8.5" ry="12.8" transform="rotate(-95.0 292.0 1484.5)" fill="none" stroke="#7b72c0" stroke-width="2.2"/>
<ellipse cx="341.5" cy="1490.1" rx="8.8" ry="12.8" transform="rotate(-81.0 341.5 1490.1)" fill="none" stroke="#7b72c0" stroke-width="2.2"/>
<ellipse cx="391.0" cy="1494.4" rx="8.0" ry="12.8" transform="rotate(-67.5 391.0 1494.4)" fill="none" stroke="#7b72c0" stroke-width="2.2"/>
<ellipse cx="429.0" cy="1497.7" rx="6.5" ry="12.8" transform="rotate(-58.2 429.0 1497.7)" fill="none" stroke="#7b72c0" stroke-width="2.2"/>
<ellipse cx="462.0" cy="1503.0" rx="4.1" ry="12.8" transform="rotate(-50.9 462.0 1503.0)" fill="none" stroke="#7b72c0" stroke-width="2.2"/>
<ellipse cx="479.5" cy="1506.4" rx="1.6" ry="12.8" transform="rotate(-47.3 479.5 1506.4)" fill="none" stroke="#7b72c0" stroke-width="2.2"/>
<ellipse cx="122.3" cy="1526.2" rx="1.8" ry="12.8" transform="rotate(-138.9 122.3 1526.2)" fill="none" stroke="#7b72c0" stroke-width="2.2"/>
<ellipse cx="118.5" cy="1523.0" rx="1.8" ry="12.8" transform="rotate(-138.9 118.5 1523.0)" fill="none" stroke="#7b72c0" stroke-width="2.2"/>
<ellipse cx="139.2" cy="1527.3" rx="3.8" ry="12.8" transform="rotate(-136.4 139.2 1527.3)" fill="none" stroke="#7b72c0" stroke-width="2.2"/>
<ellipse cx="164.6" cy="1524.6" rx="7.2" ry="12.8" transform="rotate(-131.3 164.6 1524.6)" fill="none" stroke="#7b72c0" stroke-width="2.2"/>
<ellipse cx="196.8" cy="1523.3" rx="8.8" ry="12.8" transform="rotate(-124.2 196.8 1523.3)" fill="none" stroke="#7b72c0" stroke-width="2.2"/>
<ellipse cx="238.4" cy="1527.3" rx="10.2" ry="12.8" transform="rotate(-113.8 238.4 1527.3)" fill="none" stroke="#7b72c0" stroke-width="2.2"/>
<ellipse cx="272.2" cy="1504.3" rx="9.6" ry="12.8" transform="rotate(-101.5 272.2 1504.3)" fill="none" stroke="#7b72c0" stroke-width="2.2"/>
<ellipse cx="315.1" cy="1510.9" rx="10.2" ry="12.8" transform="rotate(-88.4 315.1 1510.9)" fill="none" stroke="#7b72c0" stroke-width="2.2"/>
<ellipse cx="364.7" cy="1517.5" rx="10.1" ry="12.8" transform="rotate(-72.4 364.7 1517.5)" fill="none" stroke="#7b72c0" stroke-width="2.2"/>
<ellipse cx="404.3" cy="1519.2" rx="9.3" ry="12.8" transform="rotate(-61.1 404.3 1519.2)" fill="none" stroke="#7b72c0" stroke-width="2.2"/>
<ellipse cx="443.9" cy="1524.1" rx="7.9" ry="12.8" transform="rotate(-51.1 443.9 1524.1)" fill="none" stroke="#7b72c0" stroke-width="2.2"/>
<ellipse cx="471.1" cy="1528.7" rx="6.3" ry="12.8" transform="rotate(-45.0 471.1 1528.7)" fill="none" stroke="#7b72c0" stroke-width="2.2"/>
<ellipse cx="500.4" cy="1531.5" rx="2.1" ry="12.8" transform="rotate(-39.8 500.4 1531.5)" fill="none" stroke="#7b72c0" stroke-width="2.2"/>
<ellipse cx="513.0" cy="1535.6" rx="1.6" ry="12.8" transform="rotate(-37.3 513.0 1535.6)" fill="none" stroke="#7b72c0" stroke-width="2.2"/>
<ellipse cx="285.4" cy="1535.4" rx="11.1" ry="12.8" transform="rotate(-99.0 285.4 1535.4)" fill="none" stroke="#7b72c0" stroke-width="2.2"/>
<ellipse cx="329.0" cy="1540.0" rx="11.3" ry="12.8" transform="rotate(-82.8 329.0 1540.0)" fill="none" stroke="#7b72c0" stroke-width="2.2"/>
<ellipse cx="391.7" cy="1540.5" rx="10.6" ry="12.8" transform="rotate(-61.3 391.7 1540.5)" fill="none" stroke="#7b72c0" stroke-width="2.2"/>
<ellipse cx="429.0" cy="1550.0" rx="9.9" ry="12.8" transform="rotate(-49.6 429.0 1550.0)" fill="none" stroke="#7b72c0" stroke-width="2.2"/>
<ellipse cx="460.0" cy="1559.3" rx="9.0" ry="12.8" transform="rotate(-41.1 460.0 1559.3)" fill="none" stroke="#7b72c0" stroke-width="2.2"/>
<ellipse cx="493.4" cy="1562.5" rx="6.9" ry="12.8" transform="rotate(-34.8 493.4 1562.5)" fill="none" stroke="#7b72c0" stroke-width="2.2"/>
<ellipse cx="517.1" cy="1568.0" rx="4.3" ry="12.8" transform="rotate(-30.5 517.1 1568.0)" fill="none" stroke="#7b72c0" stroke-width="2.2"/>
<ellipse cx="530.2" cy="1571.8" rx="1.6" ry="12.8" transform="rotate(-28.2 530.2 1571.8)" fill="none" stroke="#7b72c0" stroke-width="2.2"/>
<ellipse cx="106.4" cy="1559.5" rx="1.8" ry="12.8" transform="rotate(-147.4 106.4 1559.5)" fill="none" stroke="#7b72c0" stroke-width="2.2"/>
<ellipse cx="102.2" cy="1556.9" rx="1.8" ry="12.8" transform="rotate(-147.4 102.2 1556.9)" fill="none" stroke="#7b72c0" stroke-width="2.2"/>
<ellipse cx="117.7" cy="1558.2" rx="3.8" ry="12.8" transform="rotate(-145.6 117.7 1558.2)" fill="none" stroke="#7b72c0" stroke-width="2.2"/>
<ellipse cx="147.2" cy="1556.8" rx="8.1" ry="12.8" transform="rotate(-140.7 147.2 1556.8)" fill="none" stroke="#7b72c0" stroke-width="2.2"/>
<ellipse cx="179.4" cy="1560.9" rx="9.9" ry="12.8" transform="rotate(-135.3 179.4 1560.9)" fill="none" stroke="#7b72c0" stroke-width="2.2"/>
<ellipse cx="219.6" cy="1562.2" rx="11.1" ry="12.8" transform="rotate(-125.3 219.6 1562.2)" fill="none" stroke="#7b72c0" stroke-width="2.2"/>
<ellipse cx="258.5" cy="1564.9" rx="11.7" ry="12.8" transform="rotate(-112.4 258.5 1564.9)" fill="none" stroke="#7b72c0" stroke-width="2.2"/>
<ellipse cx="302.8" cy="1566.2" rx="12.0" ry="12.8" transform="rotate(-93.3 302.8 1566.2)" fill="none" stroke="#7b72c0" stroke-width="2.2"/>
<ellipse cx="351.3" cy="1573.2" rx="12.0" ry="12.8" transform="rotate(-70.5 351.3 1573.2)" fill="none" stroke="#7b72c0" stroke-width="2.2"/>
<ellipse cx="397.3" cy="1578.8" rx="11.6" ry="12.8" transform="rotate(-51.9 397.3 1578.8)" fill="none" stroke="#7b72c0" stroke-width="2.2"/>
<ellipse cx="440.5" cy="1584.3" rx="10.7" ry="12.8" transform="rotate(-39.0 440.5 1584.3)" fill="none" stroke="#7b72c0" stroke-width="2.2"/>
<ellipse cx="475.8" cy="1592.0" rx="9.4" ry="12.8" transform="rotate(-30.6 475.8 1592.0)" fill="none" stroke="#7b72c0" stroke-width="2.2"/>
<ellipse cx="509.0" cy="1598.0" rx="7.3" ry="12.8" transform="rotate(-24.8 509.0 1598.0)" fill="none" stroke="#7b72c0" stroke-width="2.2"/>
<ellipse cx="531.8" cy="1608.0" rx="3.8" ry="12.8" transform="rotate(-20.3 531.8 1608.0)" fill="none" stroke="#7b72c0" stroke-width="2.2"/>
<ellipse cx="544.1" cy="1610.8" rx="2.4" ry="12.8" transform="rotate(-18.7 544.1 1610.8)" fill="none" stroke="#7b72c0" stroke-width="2.2"/>
<ellipse cx="90.5" cy="1594.4" rx="1.8" ry="12.8" transform="rotate(-156.5 90.5 1594.4)" fill="none" stroke="#7b72c0" stroke-width="2.2"/>
<ellipse cx="85.9" cy="1592.4" rx="1.8" ry="12.8" transform="rotate(-156.5 85.9 1592.4)" fill="none" stroke="#7b72c0" stroke-width="2.2"/>
<ellipse cx="101.6" cy="1592.0" rx="3.8" ry="12.8" transform="rotate(-154.8 101.6 1592.0)" fill="none" stroke="#7b72c0" stroke-width="2.2"/>
<ellipse cx="124.4" cy="1592.0" rx="8.2" ry="12.8" transform="rotate(-152.2 124.4 1592.0)" fill="none" stroke="#7b72c0" stroke-width="2.2"/>
<ellipse cx="148.5" cy="1592.9" rx="9.7" ry="12.8" transform="rotate(-149.0 148.5 1592.9)" fill="none" stroke="#7b72c0" stroke-width="2.2"/>
<ellipse cx="183.4" cy="1593.0" rx="11.0" ry="12.8" transform="rotate(-142.5 183.4 1593.0)" fill="none" stroke="#7b72c0" stroke-width="2.2"/>
<ellipse cx="233.0" cy="1598.8" rx="12.1" ry="12.8" transform="rotate(-130.2 233.0 1598.8)" fill="none" stroke="#7b72c0" stroke-width="2.2"/>
<ellipse cx="273.3" cy="1599.0" rx="12.4" ry="12.8" transform="rotate(-112.0 273.3 1599.0)" fill="none" stroke="#7b72c0" stroke-width="2.2"/>
<ellipse cx="311.0" cy="1606.0" rx="12.6" ry="12.8" transform="rotate(-89.3 311.0 1606.0)" fill="none" stroke="#7b72c0" stroke-width="2.2"/>
<ellipse cx="358.3" cy="1610.8" rx="12.5" ry="12.8" transform="rotate(-58.6 358.3 1610.8)" fill="none" stroke="#7b72c0" stroke-width="2.2"/>
<ellipse cx="405.6" cy="1617.8" rx="12.1" ry="12.8" transform="rotate(-37.1 405.6 1617.8)" fill="none" stroke="#7b72c0" stroke-width="2.2"/>
<ellipse cx="443.2" cy="1620.6" rx="11.3" ry="12.8" transform="rotate(-27.5 443.2 1620.6)" fill="none" stroke="#7b72c0" stroke-width="2.2"/>
<ellipse cx="480.9" cy="1633.1" rx="10.1" ry="12.8" transform="rotate(-18.4 480.9 1633.1)" fill="none" stroke="#7b72c0" stroke-width="2.2"/>
<ellipse cx="86.0" cy="1639.1" rx="1.8" ry="12.8" transform="rotate(-167.2 86.0 1639.1)" fill="none" stroke="#7b72c0" stroke-width="2.2"/>
<ellipse cx="81.2" cy="1637.9" rx="1.8" ry="12.8" transform="rotate(-167.2 81.2 1637.9)" fill="none" stroke="#7b72c0" stroke-width="2.2"/>
<ellipse cx="94.9" cy="1636.0" rx="3.8" ry="12.8" transform="rotate(-165.9 94.9 1636.0)" fill="none" stroke="#7b72c0" stroke-width="2.2"/>
<ellipse cx="116.3" cy="1636.0" rx="8.9" ry="12.8" transform="rotate(-164.4 116.3 1636.0)" fill="none" stroke="#7b72c0" stroke-width="2.2"/>
<ellipse cx="145.3" cy="1637.0" rx="10.5" ry="12.8" transform="rotate(-162.2 145.3 1637.0)" fill="none" stroke="#7b72c0" stroke-width="2.2"/>
<ellipse cx="177.3" cy="1636.3" rx="11.5" ry="12.8" transform="rotate(-158.0 177.3 1636.3)" fill="none" stroke="#7b72c0" stroke-width="2.2"/>
<ellipse cx="217.5" cy="1637.7" rx="12.3" ry="12.8" transform="rotate(-150.5 217.5 1637.7)" fill="none" stroke="#7b72c0" stroke-width="2.2"/>
<ellipse cx="259.1" cy="1642.0" rx="12.7" ry="12.8" transform="rotate(-136.7 259.1 1642.0)" fill="none" stroke="#7b72c0" stroke-width="2.2"/>
<ellipse cx="304.7" cy="1647.7" rx="12.8" ry="12.8" transform="rotate(-97.1 304.7 1647.7)" fill="none" stroke="#7b72c0" stroke-width="2.2"/>
<ellipse cx="352.7" cy="1654.0" rx="12.7" ry="12.8" transform="rotate(-40.1 352.7 1654.0)" fill="none" stroke="#7b72c0" stroke-width="2.2"/>
<ellipse cx="397.3" cy="1658.7" rx="12.5" ry="12.8" transform="rotate(-19.7 397.3 1658.7)" fill="none" stroke="#7b72c0" stroke-width="2.2"/>
<ellipse cx="436.3" cy="1665.1" rx="11.9" ry="12.8" transform="rotate(-11.2 436.3 1665.1)" fill="none" stroke="#7b72c0" stroke-width="2.2"/>
<ellipse cx="475.3" cy="1672.1" rx="10.8" ry="12.8" transform="rotate(-6.2 475.3 1672.1)" fill="none" stroke="#7b72c0" stroke-width="2.2"/>
<ellipse cx="80.7" cy="1682.1" rx="1.8" ry="12.8" transform="rotate(-178.0 80.7 1682.1)" fill="none" stroke="#7b72c0" stroke-width="2.2"/>
<ellipse cx="75.7" cy="1681.9" rx="1.8" ry="12.8" transform="rotate(-178.0 75.7 1681.9)" fill="none" stroke="#7b72c0" stroke-width="2.2"/>
<ellipse cx="90.9" cy="1682.0" rx="3.8" ry="12.8" transform="rotate(-177.9 90.9 1682.0)" fill="none" stroke="#7b72c0" stroke-width="2.2"/>
<ellipse cx="112.9" cy="1682.0" rx="9.1" ry="12.8" transform="rotate(-177.7 112.9 1682.0)" fill="none" stroke="#7b72c0" stroke-width="2.2"/>
<ellipse cx="137.8" cy="1683.0" rx="10.5" ry="12.8" transform="rotate(-177.7 137.8 1683.0)" fill="none" stroke="#7b72c0" stroke-width="2.2"/>
<ellipse cx="172.2" cy="1682.0" rx="11.7" ry="12.8" transform="rotate(-176.7 172.2 1682.0)" fill="none" stroke="#7b72c0" stroke-width="2.2"/>
<ellipse cx="213.5" cy="1687.0" rx="12.4" ry="12.8" transform="rotate(-178.2 213.5 1687.0)" fill="none" stroke="#7b72c0" stroke-width="2.2"/>
<ellipse cx="257.7" cy="1690.5" rx="12.7" ry="12.8" transform="rotate(179.5 257.7 1690.5)" fill="none" stroke="#7b72c0" stroke-width="2.2"/>
<ellipse cx="297.5" cy="1697.5" rx="12.8" ry="12.8" transform="rotate(149.0 297.5 1697.5)" fill="none" stroke="#7b72c0" stroke-width="2.2"/>
<ellipse cx="345.7" cy="1701.4" rx="12.8" ry="12.8" transform="rotate(17.7 345.7 1701.4)" fill="none" stroke="#7b72c0" stroke-width="2.2"/>
<ellipse cx="390.9" cy="1707.5" rx="12.6" ry="12.8" transform="rotate(12.2 390.9 1707.5)" fill="none" stroke="#7b72c0" stroke-width="2.2"/>
<ellipse cx="429.3" cy="1712.5" rx="12.0" ry="12.8" transform="rotate(10.7 429.3 1712.5)" fill="none" stroke="#7b72c0" stroke-width="2.2"/>
<ellipse cx="465.5" cy="1720.0" rx="11.1" ry="12.8" transform="rotate(10.9 465.5 1720.0)" fill="none" stroke="#7b72c0" stroke-width="2.2"/>
<ellipse cx="78.5" cy="1731.2" rx="1.8" ry="12.8" transform="rotate(169.9 78.5 1731.2)" fill="none" stroke="#7b72c0" stroke-width="2.2"/>
<ellipse cx="73.5" cy="1732.0" rx="1.8" ry="12.8" transform="rotate(169.9 73.5 1732.0)" fill="none" stroke="#7b72c0" stroke-width="2.2"/>
<ellipse cx="86.8" cy="1731.0" rx="3.8" ry="12.8" transform="rotate(169.6 86.8 1731.0)" fill="none" stroke="#7b72c0" stroke-width="2.2"/>
<ellipse cx="107.0" cy="1731.6" rx="8.4" ry="12.8" transform="rotate(168.4 107.0 1731.6)" fill="none" stroke="#7b72c0" stroke-width="2.2"/>
<ellipse cx="131.1" cy="1731.6" rx="9.9" ry="12.8" transform="rotate(166.9 131.1 1731.6)" fill="none" stroke="#7b72c0" stroke-width="2.2"/>
<ellipse cx="165.2" cy="1731.6" rx="11.3" ry="12.8" transform="rotate(164.0 165.2 1731.6)" fill="none" stroke="#7b72c0" stroke-width="2.2"/>
<ellipse cx="203.5" cy="1733.0" rx="12.2" ry="12.8" transform="rotate(158.0 203.5 1733.0)" fill="none" stroke="#7b72c0" stroke-width="2.2"/>
<ellipse cx="247.8" cy="1738.0" rx="12.6" ry="12.8" transform="rotate(142.3 247.8 1738.0)" fill="none" stroke="#7b72c0" stroke-width="2.2"/>
<ellipse cx="289.5" cy="1741.0" rx="12.7" ry="12.8" transform="rotate(111.9 289.5 1741.0)" fill="none" stroke="#7b72c0" stroke-width="2.2"/>
<ellipse cx="336.8" cy="1747.9" rx="12.7" ry="12.8" transform="rotate(65.2 336.8 1747.9)" fill="none" stroke="#7b72c0" stroke-width="2.2"/>
<ellipse cx="382.5" cy="1751.5" rx="12.4" ry="12.8" transform="rotate(40.3 382.5 1751.5)" fill="none" stroke="#7b72c0" stroke-width="2.2"/>
<ellipse cx="421.5" cy="1759.9" rx="11.8" ry="12.8" transform="rotate(32.1 421.5 1759.9)" fill="none" stroke="#7b72c0" stroke-width="2.2"/>
<ellipse cx="461.4" cy="1763.5" rx="10.7" ry="12.8" transform="rotate(25.9 461.4 1763.5)" fill="none" stroke="#7b72c0" stroke-width="2.2"/>
<clipPath id="cRedB"><path d="M133.2,2005.0 C133.3,1994.1 133.8,1983.0 136.0,1972.0 C138.2,1961.0 142.5,1948.0 146.4,1939.0 C150.3,1930.0 155.2,1924.6 159.6,1918.0 C164.0,1911.4 166.9,1905.2 172.8,1899.4 C178.7,1893.6 187.3,1888.0 195.0,1883.0 C202.7,1878.0 209.8,1873.4 219.0,1869.7 C228.2,1866.0 240.1,1862.9 250.0,1861.0 C259.9,1859.1 269.3,1858.9 278.5,1858.2 C287.7,1857.5 295.6,1856.7 305.0,1857.0 C314.4,1857.3 325.5,1858.5 334.7,1859.8 C343.9,1861.1 351.8,1862.8 360.0,1865.0 C368.2,1867.2 376.7,1869.8 384.2,1873.0 C391.7,1876.2 399.5,1880.2 405.0,1884.0 C410.5,1887.8 414.2,1892.4 417.2,1896.1 C420.2,1899.8 422.3,1902.3 422.9,1906.0 C423.4,1909.7 422.0,1913.8 420.5,1918.0 C419.0,1922.2 416.7,1926.2 414.0,1931.0 C411.3,1935.8 409.3,1941.0 404.3,1946.7 C399.3,1952.5 393.1,1957.4 384.2,1965.5 C375.3,1973.6 362.2,1985.3 351.2,1995.2 C340.2,2005.1 327.0,2015.9 318.2,2025.0 C309.4,2034.1 303.1,2044.4 298.1,2049.8 C293.1,2055.2 292.3,2053.9 288.2,2057.2 C284.1,2060.5 280.0,2065.5 273.4,2069.6 C266.8,2073.7 258.1,2078.3 248.6,2082.0 C239.1,2085.7 225.5,2089.3 216.4,2091.9 C207.3,2094.5 203.2,2097.1 194.1,2097.5 C185.0,2097.9 170.2,2096.6 161.9,2094.4 C153.7,2092.2 148.7,2089.9 144.6,2084.5 C140.5,2079.1 138.8,2070.0 137.2,2062.2 C135.6,2054.3 135.9,2046.9 135.2,2037.4 C134.5,2027.9 133.1,2015.9 133.2,2005.0 Z"/></clipPath>
<path d="M133.2,2005.0 C133.3,1994.1 133.8,1983.0 136.0,1972.0 C138.2,1961.0 142.5,1948.0 146.4,1939.0 C150.3,1930.0 155.2,1924.6 159.6,1918.0 C164.0,1911.4 166.9,1905.2 172.8,1899.4 C178.7,1893.6 187.3,1888.0 195.0,1883.0 C202.7,1878.0 209.8,1873.4 219.0,1869.7 C228.2,1866.0 240.1,1862.9 250.0,1861.0 C259.9,1859.1 269.3,1858.9 278.5,1858.2 C287.7,1857.5 295.6,1856.7 305.0,1857.0 C314.4,1857.3 325.5,1858.5 334.7,1859.8 C343.9,1861.1 351.8,1862.8 360.0,1865.0 C368.2,1867.2 376.7,1869.8 384.2,1873.0 C391.7,1876.2 399.5,1880.2 405.0,1884.0 C410.5,1887.8 414.2,1892.4 417.2,1896.1 C420.2,1899.8 422.3,1902.3 422.9,1906.0 C423.4,1909.7 422.0,1913.8 420.5,1918.0 C419.0,1922.2 416.7,1926.2 414.0,1931.0 C411.3,1935.8 409.3,1941.0 404.3,1946.7 C399.3,1952.5 393.1,1957.4 384.2,1965.5 C375.3,1973.6 362.2,1985.3 351.2,1995.2 C340.2,2005.1 327.0,2015.9 318.2,2025.0 C309.4,2034.1 303.1,2044.4 298.1,2049.8 C293.1,2055.2 292.3,2053.9 288.2,2057.2 C284.1,2060.5 280.0,2065.5 273.4,2069.6 C266.8,2073.7 258.1,2078.3 248.6,2082.0 C239.1,2085.7 225.5,2089.3 216.4,2091.9 C207.3,2094.5 203.2,2097.1 194.1,2097.5 C185.0,2097.9 170.2,2096.6 161.9,2094.4 C153.7,2092.2 148.7,2089.9 144.6,2084.5 C140.5,2079.1 138.8,2070.0 137.2,2062.2 C135.6,2054.3 135.9,2046.9 135.2,2037.4 C134.5,2027.9 133.1,2015.9 133.2,2005.0 Z" fill="#fad6d6"/>
<g clip-path="url(#cRedB)">
<path d="M192.0,1841.3L194.0,1840.4L195.0,1840.0L196.0,1840.0L198.0,1840.0L200.0,1840.0L202.0,1840.0L204.0,1840.0L206.0,1840.0L208.0,1840.0L210.0,1840.0L212.0,1840.0L214.0,1840.0L216.0,1840.0L218.0,1840.0L220.0,1840.0L222.0,1840.0L224.0,1840.0L226.0,1840.0L228.0,1840.0L230.0,1840.0L232.0,1840.0L234.0,1840.0L236.0,1840.0L238.0,1840.0L240.0,1840.0L242.0,1840.0L244.0,1840.0L246.0,1840.0L248.0,1840.0L250.0,1840.0L252.0,1840.0L254.0,1840.0L256.0,1840.0L258.0,1840.0L260.0,1840.0L262.0,1840.0L264.0,1840.0L266.0,1840.0L268.0,1840.0L270.0,1840.0L272.0,1840.0L274.0,1840.0L276.0,1840.0L278.0,1840.0L280.0,1840.0L282.0,1840.0L284.0,1840.0L286.0,1840.0L288.0,1840.0L290.0,1840.0L292.0,1840.0L294.0,1840.0L296.0,1840.0L298.0,1840.0L300.0,1840.0L302.0,1840.0L302.8,1840.0L304.0,1840.5L306.0,1841.3L307.7,1842.0L308.0,1842.1L310.0,1843.0L312.0,1843.9L312.2,1844.0L314.0,1844.8L316.0,1845.8L316.5,1846.0L318.0,1846.7L320.0,1847.7L320.6,1848.0L322.0,1848.7L324.0,1849.8L324.4,1850.0L326.0,1850.8L328.0,1851.9L328.1,1852.0L330.0,1853.0L331.6,1854.0L332.0,1854.2L334.0,1855.4L335.0,1856.0L336.0,1856.6L338.0,1857.8L338.3,1858.0L340.0,1859.1L341.3,1860.0L342.0,1860.4L344.0,1861.8L344.3,1862.0L346.0,1863.2L347.1,1864.0L348.0,1864.7L349.7,1866.0L350.0,1866.2L352.0,1867.8L352.2,1868.0L354.0,1869.5L354.5,1870.0L356.0,1871.3L356.7,1872.0L358.0,1873.2L358.8,1874.0L360.0,1875.2L360.7,1876.0L362.0,1877.4L362.6,1878.0L364.0,1879.7L364.2,1880.0L365.8,1882.0L366.0,1882.3L367.3,1884.0L368.0,1885.1L368.6,1886.0L369.9,1888.0L370.0,1888.2L371.1,1890.0L372.0,1891.8L372.1,1892.0L373.1,1894.0L374.0,1896.0L374.0,1896.0L374.8,1898.0L375.6,1900.0L376.0,1901.3L376.2,1902.0L376.8,1904.0L377.4,1906.0L377.8,1908.0L378.0,1908.9L378.2,1910.0L378.6,1912.0L378.9,1914.0L379.1,1916.0L379.3,1918.0L379.4,1920.0L379.5,1922.0L379.5,1924.0L379.5,1926.0L379.5,1928.0L379.4,1930.0L379.3,1932.0L379.1,1934.0L378.9,1936.0L378.7,1938.0L378.4,1940.0L378.1,1942.0L378.0,1942.7L377.8,1944.0L377.4,1946.0L377.1,1948.0L376.6,1950.0L376.2,1952.0L376.0,1952.8L375.7,1954.0L375.2,1956.0L374.7,1958.0L374.1,1960.0L374.0,1960.5L373.6,1962.0L372.9,1964.0L372.3,1966.0L372.0,1966.8L371.6,1968.0L370.9,1970.0L370.1,1972.0L370.0,1972.4L369.4,1974.0L368.5,1976.0L368.0,1977.2L367.7,1978.0L366.8,1980.0L366.0,1981.6L365.8,1982.0L364.8,1984.0L364.0,1985.6L363.8,1986.0L362.7,1988.0L362.0,1989.2L361.6,1990.0L360.4,1992.0L360.0,1992.6L359.2,1994.0L358.0,1995.8L357.9,1996.0L356.5,1998.0L356.0,1998.7L355.1,2000.0L354.0,2001.5L353.7,2002.0L352.2,2004.0L352.0,2004.2L350.6,2006.0L350.0,2006.7L349.0,2008.0L348.0,2009.1L347.3,2010.0L346.0,2011.5L345.5,2012.0L344.0,2013.7L343.7,2014.0L342.0,2015.9L341.9,2016.0L340.0,2017.9L339.9,2018.0L338.0,2020.0L338.0,2020.0L336.0,2021.9L335.9,2022.0L334.0,2023.8L333.8,2024.0L332.0,2025.7L331.6,2026.0L330.0,2027.5L329.4,2028.0L328.0,2029.2L327.1,2030.0L326.0,2030.9L324.8,2032.0L324.0,2032.6L322.4,2034.0L322.0,2034.3L320.0,2035.9L319.9,2036.0L318.0,2037.5L317.3,2038.0L316.0,2039.0L314.7,2040.0L314.0,2040.5L312.1,2042.0L312.0,2042.0L310.0,2043.5L309.3,2044.0L308.0,2045.0L306.5,2046.0L306.0,2046.4L304.0,2047.8L303.7,2048.0L302.0,2049.1L300.7,2050.0L300.0,2050.5L298.0,2051.8L297.7,2052.0L296.0,2053.1L294.6,2054.0L294.0,2054.4L292.0,2055.7L291.5,2056.0L290.0,2056.9L288.3,2058.0L288.0,2058.2L286.0,2059.4L285.0,2060.0L284.0,2060.6L282.0,2061.8L281.6,2062.0L280.0,2062.9L278.1,2064.0L278.0,2064.1L276.0,2065.2L274.6,2066.0L274.0,2066.3L272.0,2067.4L270.9,2068.0L270.0,2068.5L268.0,2069.6L267.1,2070.0L266.0,2070.6L264.0,2071.6L263.3,2072.0L262.0,2072.6L260.0,2073.6L259.2,2074.0L258.0,2074.6L256.0,2075.6L255.1,2076.0L254.0,2076.5L252.0,2077.4L250.7,2078.0L250.0,2078.3L248.0,2079.2L246.2,2080.0L246.0,2080.1L244.0,2080.9L242.0,2081.8L241.4,2082.0L240.0,2082.6L238.0,2083.4L236.3,2084.0L236.0,2084.1L234.0,2084.8L232.0,2085.5L230.6,2086.0L230.0,2086.2L228.0,2086.9L226.0,2087.5L224.3,2088.0L224.0,2088.1L222.0,2088.7L220.0,2089.2L218.0,2089.7L216.6,2090.0L216.0,2090.2L214.0,2090.6L212.0,2091.0L210.0,2091.3L208.0,2091.6L206.0,2091.9L205.0,2092.0L204.0,2092.1L202.0,2092.3L200.0,2092.4L198.0,2092.5L196.0,2092.6L194.0,2092.5L192.0,2092.5L190.0,2092.4L188.0,2092.2L186.3,2092.0L186.0,2092.0L184.0,2091.7L182.0,2091.4L180.0,2091.0L178.0,2090.5L176.0,2090.0L176.0,2090.0L174.0,2089.5L172.0,2088.8L170.0,2088.2L169.6,2088.0L168.0,2087.4L166.0,2086.6L164.6,2086.0L164.0,2085.8L162.0,2084.8L160.3,2084.0L160.0,2083.9L158.0,2082.8L156.5,2082.0L156.0,2081.7L154.0,2080.5L153.1,2080.0L152.0,2079.3L150.0,2078.0L150.0,2078.0L148.0,2076.6L147.1,2076.0L146.0,2075.2L144.4,2074.0L144.0,2073.7L142.0,2072.1L141.9,2072.0L140.0,2070.4L139.6,2070.0L138.0,2068.6L137.3,2068.0L136.0,2066.7L135.2,2066.0L134.0,2064.8L133.3,2064.0L132.0,2062.7L131.4,2062.0L130.0,2060.5L129.6,2060.0L128.0,2058.2L127.9,2058.0L126.2,2056.0L126.0,2055.7L124.7,2054.0L124.0,2053.1L123.2,2052.0L122.0,2050.2L121.8,2050.0L120.5,2048.0L120.0,2047.2L119.2,2046.0L118.0,2044.0L118.0,2043.9L116.9,2042.0L116.0,2040.4L115.8,2040.0L114.8,2038.0L114.0,2036.4L113.8,2036.0L112.9,2034.0L112.0,2032.0L112.0,2032.0L111.1,2030.0L110.4,2028.0L110.0,2027.0L110.0,2026.0L110.0,2024.0L110.0,2022.0L110.0,2020.0L110.0,2018.0L110.0,2016.0L110.0,2014.0L110.0,2012.0L110.0,2010.0L110.0,2008.0L110.0,2006.0L110.0,2004.0L110.0,2002.0L110.0,2000.0L110.0,1998.0L110.0,1996.0L110.0,1994.0L110.0,1992.0L110.0,1990.0L110.0,1988.0L110.0,1986.0L110.0,1984.0L110.0,1982.0L110.0,1980.0L110.0,1978.0L110.0,1976.0L110.0,1974.0L110.0,1972.0L110.0,1970.0L110.0,1968.0L110.0,1966.0L110.0,1964.0L110.0,1962.0L110.0,1960.0L110.0,1958.0L110.0,1956.0L110.0,1954.0L110.0,1952.0L110.0,1950.0L110.0,1948.0L110.0,1946.0L110.0,1944.0L110.0,1942.7L110.2,1942.0L110.8,1940.0L111.4,1938.0L112.0,1936.1L112.0,1936.0L112.7,1934.0L113.4,1932.0L114.0,1930.2L114.1,1930.0L114.8,1928.0L115.5,1926.0L116.0,1924.8L116.3,1924.0L117.1,1922.0L117.9,1920.0L118.0,1919.8L118.8,1918.0L119.6,1916.0L120.0,1915.2L120.5,1914.0L121.5,1912.0L122.0,1910.9L122.4,1910.0L123.4,1908.0L124.0,1906.9L124.4,1906.0L125.5,1904.0L126.0,1903.1L126.6,1902.0L127.7,1900.0L128.0,1899.5L128.9,1898.0L130.0,1896.2L130.1,1896.0L131.4,1894.0L132.0,1893.0L132.6,1892.0L134.0,1890.0L134.0,1890.0L135.4,1888.0L136.0,1887.1L136.8,1886.0L138.0,1884.4L138.3,1884.0L139.8,1882.0L140.0,1881.8L141.4,1880.0L142.0,1879.3L143.1,1878.0L144.0,1876.9L144.8,1876.0L146.0,1874.7L146.6,1874.0L148.0,1872.5L148.5,1872.0L150.0,1870.4L150.4,1870.0L152.0,1868.4L152.4,1868.0L154.0,1866.5L154.6,1866.0L156.0,1864.7L156.8,1864.0L158.0,1862.9L159.1,1862.0L160.0,1861.2L161.5,1860.0L162.0,1859.6L164.0,1858.0L164.0,1858.0L166.0,1856.5L166.6,1856.0L168.0,1855.0L169.4,1854.0L170.0,1853.6L172.0,1852.3L172.4,1852.0L174.0,1851.0L175.5,1850.0L176.0,1849.7L178.0,1848.5L178.9,1848.0L180.0,1847.3L182.0,1846.2L182.4,1846.0L184.0,1845.1L186.0,1844.1L186.3,1844.0L188.0,1843.1L190.0,1842.2L190.4,1842.0Z" fill="#f7c0c0" stroke="#f7c0c0" stroke-width="0.6" fill-rule="evenodd"/>
<path d="M228.0,1847.8L230.0,1847.4L232.0,1847.1L234.0,1846.9L236.0,1846.7L238.0,1846.5L240.0,1846.3L242.0,1846.2L244.0,1846.1L246.0,1846.1L248.0,1846.1L250.0,1846.1L252.0,1846.1L254.0,1846.2L256.0,1846.3L258.0,1846.5L260.0,1846.7L262.0,1846.9L264.0,1847.2L266.0,1847.5L268.0,1847.8L269.2,1848.0L270.0,1848.1L272.0,1848.5L274.0,1849.0L276.0,1849.4L278.0,1849.9L278.3,1850.0L280.0,1850.4L282.0,1851.0L284.0,1851.6L285.3,1852.0L286.0,1852.2L288.0,1852.9L290.0,1853.5L291.3,1854.0L292.0,1854.3L294.0,1855.0L296.0,1855.8L296.6,1856.0L298.0,1856.6L300.0,1857.4L301.4,1858.0L302.0,1858.3L304.0,1859.1L305.9,1860.0L306.0,1860.1L308.0,1861.0L310.0,1862.0L310.1,1862.0L312.0,1862.9L314.0,1864.0L314.1,1864.0L316.0,1865.0L317.8,1866.0L318.0,1866.1L320.0,1867.2L321.4,1868.0L322.0,1868.3L324.0,1869.5L324.8,1870.0L326.0,1870.7L328.0,1872.0L328.0,1872.0L330.0,1873.3L331.1,1874.0L332.0,1874.6L333.9,1876.0L334.0,1876.0L336.0,1877.5L336.6,1878.0L338.0,1879.1L339.1,1880.0L340.0,1880.7L341.5,1882.0L342.0,1882.5L343.6,1884.0L344.0,1884.3L345.7,1886.0L346.0,1886.4L347.5,1888.0L348.0,1888.5L349.3,1890.0L350.0,1890.9L350.8,1892.0L352.0,1893.6L352.3,1894.0L353.7,1896.0L354.0,1896.6L354.9,1898.0L356.0,1900.0L356.0,1900.0L357.0,1902.0L357.9,1904.0L358.0,1904.1L358.8,1906.0L359.5,1908.0L360.0,1909.5L360.2,1910.0L360.8,1912.0L361.3,1914.0L361.7,1916.0L362.0,1917.6L362.1,1918.0L362.4,1920.0L362.7,1922.0L362.9,1924.0L363.0,1926.0L363.1,1928.0L363.1,1930.0L363.2,1932.0L363.1,1934.0L363.0,1936.0L362.9,1938.0L362.8,1940.0L362.6,1942.0L362.4,1944.0L362.2,1946.0L362.0,1947.4L361.9,1948.0L361.6,1950.0L361.3,1952.0L361.0,1954.0L360.6,1956.0L360.3,1958.0L360.0,1959.3L359.9,1960.0L359.4,1962.0L359.0,1964.0L358.5,1966.0L358.0,1968.0L358.0,1968.0L357.5,1970.0L356.9,1972.0L356.3,1974.0L356.0,1975.1L355.7,1976.0L355.1,1978.0L354.4,1980.0L354.0,1981.0L353.6,1982.0L352.9,1984.0L352.0,1986.0L352.0,1986.1L351.2,1988.0L350.3,1990.0L350.0,1990.5L349.3,1992.0L348.3,1994.0L348.0,1994.5L347.2,1996.0L346.1,1998.0L346.0,1998.1L344.9,2000.0L344.0,2001.4L343.6,2002.0L342.3,2004.0L342.0,2004.5L341.0,2006.0L340.0,2007.3L339.5,2008.0L338.0,2010.0L338.0,2010.0L336.5,2012.0L336.0,2012.5L334.8,2014.0L334.0,2014.9L333.1,2016.0L332.0,2017.2L331.3,2018.0L330.0,2019.4L329.5,2020.0L328.0,2021.5L327.6,2022.0L326.0,2023.5L325.6,2024.0L324.0,2025.5L323.5,2026.0L322.0,2027.4L321.3,2028.0L320.0,2029.2L319.1,2030.0L318.0,2031.0L316.8,2032.0L316.0,2032.7L314.4,2034.0L314.0,2034.3L312.0,2036.0L312.0,2036.0L310.0,2037.5L309.4,2038.0L308.0,2039.1L306.8,2040.0L306.0,2040.6L304.1,2042.0L304.0,2042.0L302.0,2043.5L301.2,2044.0L300.0,2044.9L298.3,2046.0L298.0,2046.2L296.0,2047.6L295.3,2048.0L294.0,2048.9L292.2,2050.0L292.0,2050.1L290.0,2051.4L289.0,2052.0L288.0,2052.6L286.0,2053.8L285.7,2054.0L284.0,2055.0L282.2,2056.0L282.0,2056.1L280.0,2057.2L278.6,2058.0L278.0,2058.3L276.0,2059.4L274.8,2060.0L274.0,2060.4L272.0,2061.4L270.8,2062.0L270.0,2062.4L268.0,2063.4L266.7,2064.0L266.0,2064.3L264.0,2065.2L262.2,2066.0L262.0,2066.1L260.0,2067.0L258.0,2067.8L257.5,2068.0L256.0,2068.6L254.0,2069.4L252.3,2070.0L252.0,2070.1L250.0,2070.9L248.0,2071.5L246.6,2072.0L246.0,2072.2L244.0,2072.8L242.0,2073.4L240.0,2074.0L239.9,2074.0L238.0,2074.5L236.0,2075.0L234.0,2075.5L232.0,2075.9L231.4,2076.0L230.0,2076.3L228.0,2076.6L226.0,2076.9L224.0,2077.2L222.0,2077.4L220.0,2077.6L218.0,2077.7L216.0,2077.8L214.0,2077.9L212.0,2077.9L210.0,2077.8L208.0,2077.7L206.0,2077.6L204.0,2077.4L202.0,2077.2L200.0,2076.9L198.0,2076.5L196.0,2076.1L195.6,2076.0L194.0,2075.6L192.0,2075.1L190.0,2074.6L188.2,2074.0L188.0,2073.9L186.0,2073.3L184.0,2072.5L182.7,2072.0L182.0,2071.7L180.0,2070.9L178.1,2070.0L178.0,2070.0L176.0,2069.0L174.1,2068.0L174.0,2067.9L172.0,2066.8L170.6,2066.0L170.0,2065.7L168.0,2064.4L167.3,2064.0L166.0,2063.1L164.4,2062.0L164.0,2061.7L162.0,2060.3L161.7,2060.0L160.0,2058.7L159.1,2058.0L158.0,2057.1L156.8,2056.0L156.0,2055.3L154.6,2054.0L154.0,2053.5L152.5,2052.0L152.0,2051.5L150.5,2050.0L150.0,2049.4L148.7,2048.0L148.0,2047.2L147.0,2046.0L146.0,2044.8L145.3,2044.0L144.0,2042.3L143.8,2042.0L142.3,2040.0L142.0,2039.5L140.9,2038.0L140.0,2036.6L139.6,2036.0L138.4,2034.0L138.0,2033.3L137.3,2032.0L136.2,2030.0L136.0,2029.7L135.1,2028.0L134.2,2026.0L134.0,2025.6L133.3,2024.0L132.4,2022.0L132.0,2020.9L131.7,2020.0L130.9,2018.0L130.2,2016.0L130.0,2015.2L129.6,2014.0L129.0,2012.0L128.5,2010.0L128.0,2008.0L128.0,2007.9L127.6,2006.0L127.2,2004.0L126.8,2002.0L126.5,2000.0L126.2,1998.0L126.0,1996.0L126.0,1995.8L125.8,1994.0L125.7,1992.0L125.5,1990.0L125.5,1988.0L125.4,1986.0L125.4,1984.0L125.4,1982.0L125.5,1980.0L125.6,1978.0L125.7,1976.0L125.9,1974.0L126.0,1972.4L126.0,1972.0L126.2,1970.0L126.5,1968.0L126.7,1966.0L127.0,1964.0L127.3,1962.0L127.7,1960.0L128.0,1958.3L128.1,1958.0L128.4,1956.0L128.9,1954.0L129.3,1952.0L129.8,1950.0L130.0,1949.1L130.3,1948.0L130.8,1946.0L131.3,1944.0L131.9,1942.0L132.0,1941.5L132.4,1940.0L133.0,1938.0L133.7,1936.0L134.0,1935.0L134.3,1934.0L135.0,1932.0L135.7,1930.0L136.0,1929.2L136.4,1928.0L137.2,1926.0L138.0,1924.0L138.0,1924.0L138.8,1922.0L139.7,1920.0L140.0,1919.2L140.5,1918.0L141.5,1916.0L142.0,1914.9L142.4,1914.0L143.4,1912.0L144.0,1910.8L144.4,1910.0L145.5,1908.0L146.0,1907.1L146.6,1906.0L147.7,1904.0L148.0,1903.6L148.9,1902.0L150.0,1900.3L150.2,1900.0L151.5,1898.0L152.0,1897.2L152.8,1896.0L154.0,1894.3L154.2,1894.0L155.7,1892.0L156.0,1891.6L157.2,1890.0L158.0,1889.0L158.8,1888.0L160.0,1886.6L160.5,1886.0L162.0,1884.3L162.3,1884.0L164.0,1882.1L164.1,1882.0L166.0,1880.1L166.1,1880.0L168.0,1878.1L168.1,1878.0L170.0,1876.2L170.2,1876.0L172.0,1874.4L172.5,1874.0L174.0,1872.7L174.8,1872.0L176.0,1871.0L177.3,1870.0L178.0,1869.5L180.0,1868.0L180.0,1868.0L182.0,1866.6L182.8,1866.0L184.0,1865.2L185.9,1864.0L186.0,1863.9L188.0,1862.7L189.2,1862.0L190.0,1861.5L192.0,1860.4L192.7,1860.0L194.0,1859.3L196.0,1858.3L196.6,1858.0L198.0,1857.3L200.0,1856.4L200.8,1856.0L202.0,1855.5L204.0,1854.6L205.6,1854.0L206.0,1853.8L208.0,1853.1L210.0,1852.4L211.2,1852.0L212.0,1851.7L214.0,1851.1L216.0,1850.5L217.8,1850.0L218.0,1849.9L220.0,1849.4L222.0,1849.0L224.0,1848.5L226.0,1848.1L226.7,1848.0Z" fill="#f4aaaa" stroke="#f4aaaa" stroke-width="0.6" fill-rule="evenodd"/>
<path d="M236.0,1859.8L238.0,1859.6L240.0,1859.4L242.0,1859.3L244.0,1859.2L246.0,1859.1L248.0,1859.1L250.0,1859.1L252.0,1859.2L254.0,1859.3L256.0,1859.5L258.0,1859.6L260.0,1859.9L261.0,1860.0L262.0,1860.1L264.0,1860.4L266.0,1860.8L268.0,1861.1L270.0,1861.6L271.9,1862.0L272.0,1862.0L274.0,1862.5L276.0,1863.0L278.0,1863.6L279.4,1864.0L280.0,1864.2L282.0,1864.8L284.0,1865.5L285.5,1866.0L286.0,1866.2L288.0,1866.9L290.0,1867.6L290.9,1868.0L292.0,1868.4L294.0,1869.3L295.7,1870.0L296.0,1870.1L298.0,1871.0L300.0,1871.9L300.2,1872.0L302.0,1872.8L304.0,1873.8L304.4,1874.0L306.0,1874.8L308.0,1875.9L308.3,1876.0L310.0,1876.9L311.9,1878.0L312.0,1878.0L314.0,1879.2L315.4,1880.0L316.0,1880.4L318.0,1881.6L318.6,1882.0L320.0,1882.9L321.7,1884.0L322.0,1884.2L324.0,1885.7L324.5,1886.0L326.0,1887.1L327.1,1888.0L328.0,1888.7L329.5,1890.0L330.0,1890.4L331.8,1892.0L332.0,1892.2L333.8,1894.0L334.0,1894.2L335.7,1896.0L336.0,1896.3L337.5,1898.0L338.0,1898.7L339.1,1900.0L340.0,1901.3L340.5,1902.0L341.8,1904.0L342.0,1904.3L343.0,1906.0L344.0,1907.9L344.1,1908.0L345.0,1910.0L345.9,1912.0L346.0,1912.3L346.6,1914.0L347.3,1916.0L347.9,1918.0L348.0,1918.4L348.4,1920.0L348.8,1922.0L349.2,1924.0L349.5,1926.0L349.7,1928.0L349.9,1930.0L350.0,1931.8L350.0,1932.0L350.1,1934.0L350.1,1936.0L350.1,1938.0L350.1,1940.0L350.0,1941.2L350.0,1942.0L349.8,1944.0L349.7,1946.0L349.5,1948.0L349.3,1950.0L349.1,1952.0L348.8,1954.0L348.6,1956.0L348.2,1958.0L348.0,1959.5L347.9,1960.0L347.6,1962.0L347.2,1964.0L346.8,1966.0L346.4,1968.0L346.0,1970.0L346.0,1970.0L345.5,1972.0L345.1,1974.0L344.5,1976.0L344.0,1977.9L344.0,1978.0L343.4,1980.0L342.8,1982.0L342.1,1984.0L342.0,1984.4L341.4,1986.0L340.7,1988.0L340.0,1989.7L339.9,1990.0L339.1,1992.0L338.2,1994.0L338.0,1994.3L337.2,1996.0L336.2,1998.0L336.0,1998.4L335.2,2000.0L334.0,2002.0L334.0,2002.0L332.8,2004.0L332.0,2005.3L331.6,2006.0L330.2,2008.0L330.0,2008.3L328.8,2010.0L328.0,2011.1L327.4,2012.0L326.0,2013.7L325.8,2014.0L324.2,2016.0L324.0,2016.2L322.5,2018.0L322.0,2018.5L320.7,2020.0L320.0,2020.7L318.8,2022.0L318.0,2022.8L316.8,2024.0L316.0,2024.8L314.8,2026.0L314.0,2026.7L312.6,2028.0L312.0,2028.6L310.4,2030.0L310.0,2030.3L308.1,2032.0L308.0,2032.0L306.0,2033.7L305.6,2034.0L304.0,2035.3L303.1,2036.0L302.0,2036.8L300.4,2038.0L300.0,2038.3L298.0,2039.7L297.6,2040.0L296.0,2041.1L294.7,2042.0L294.0,2042.5L292.0,2043.8L291.7,2044.0L290.0,2045.1L288.5,2046.0L288.0,2046.3L286.0,2047.5L285.1,2048.0L284.0,2048.6L282.0,2049.8L281.6,2050.0L280.0,2050.8L278.0,2051.9L277.8,2052.0L276.0,2052.9L274.0,2053.9L273.8,2054.0L272.0,2054.8L270.0,2055.8L269.5,2056.0L268.0,2056.6L266.0,2057.5L264.7,2058.0L264.0,2058.3L262.0,2059.1L260.0,2059.8L259.5,2060.0L258.0,2060.5L256.0,2061.2L254.0,2061.8L253.5,2062.0L252.0,2062.4L250.0,2063.0L248.0,2063.5L246.0,2064.0L246.0,2064.0L244.0,2064.5L242.0,2064.9L240.0,2065.2L238.0,2065.6L236.0,2065.8L234.6,2066.0L234.0,2066.1L232.0,2066.3L230.0,2066.4L228.0,2066.5L226.0,2066.6L224.0,2066.6L222.0,2066.5L220.0,2066.5L218.0,2066.3L216.0,2066.1L214.8,2066.0L214.0,2065.9L212.0,2065.6L210.0,2065.3L208.0,2064.9L206.0,2064.4L204.3,2064.0L204.0,2063.9L202.0,2063.4L200.0,2062.8L198.0,2062.1L197.8,2062.0L196.0,2061.3L194.0,2060.6L192.7,2060.0L192.0,2059.7L190.0,2058.8L188.4,2058.0L188.0,2057.8L186.0,2056.8L184.6,2056.0L184.0,2055.6L182.0,2054.5L181.3,2054.0L180.0,2053.2L178.2,2052.0L178.0,2051.8L176.0,2050.4L175.4,2050.0L174.0,2048.9L172.9,2048.0L172.0,2047.3L170.5,2046.0L170.0,2045.6L168.3,2044.0L168.0,2043.7L166.2,2042.0L166.0,2041.8L164.3,2040.0L164.0,2039.7L162.5,2038.0L162.0,2037.4L160.8,2036.0L160.0,2035.0L159.2,2034.0L158.0,2032.4L157.7,2032.0L156.3,2030.0L156.0,2029.5L155.0,2028.0L154.0,2026.3L153.8,2026.0L152.7,2024.0L152.0,2022.8L151.6,2022.0L150.6,2020.0L150.0,2018.7L149.7,2018.0L148.8,2016.0L148.0,2014.0L148.0,2014.0L147.3,2012.0L146.6,2010.0L146.0,2008.1L146.0,2008.0L145.4,2006.0L144.9,2004.0L144.4,2002.0L144.0,2000.0L144.0,1999.9L143.7,1998.0L143.3,1996.0L143.1,1994.0L142.8,1992.0L142.6,1990.0L142.5,1988.0L142.4,1986.0L142.3,1984.0L142.3,1982.0L142.3,1980.0L142.3,1978.0L142.4,1976.0L142.5,1974.0L142.7,1972.0L142.8,1970.0L143.0,1968.0L143.3,1966.0L143.5,1964.0L143.8,1962.0L144.0,1961.0L144.2,1960.0L144.5,1958.0L144.9,1956.0L145.3,1954.0L145.7,1952.0L146.0,1950.6L146.1,1950.0L146.6,1948.0L147.1,1946.0L147.6,1944.0L148.0,1942.7L148.2,1942.0L148.8,1940.0L149.4,1938.0L150.0,1936.1L150.0,1936.0L150.7,1934.0L151.4,1932.0L152.0,1930.2L152.1,1930.0L152.8,1928.0L153.6,1926.0L154.0,1925.1L154.4,1924.0L155.3,1922.0L156.0,1920.4L156.2,1920.0L157.1,1918.0L158.0,1916.2L158.1,1916.0L159.1,1914.0L160.0,1912.3L160.2,1912.0L161.3,1910.0L162.0,1908.8L162.5,1908.0L163.7,1906.0L164.0,1905.5L165.0,1904.0L166.0,1902.4L166.3,1902.0L167.7,1900.0L168.0,1899.6L169.2,1898.0L170.0,1896.9L170.7,1896.0L172.0,1894.4L172.4,1894.0L174.0,1892.1L174.1,1892.0L175.9,1890.0L176.0,1889.9L177.8,1888.0L178.0,1887.8L179.9,1886.0L180.0,1885.9L182.0,1884.0L182.0,1884.0L184.0,1882.3L184.3,1882.0L186.0,1880.6L186.8,1880.0L188.0,1879.0L189.4,1878.0L190.0,1877.6L192.0,1876.2L192.2,1876.0L194.0,1874.8L195.3,1874.0L196.0,1873.6L198.0,1872.4L198.6,1872.0L200.0,1871.2L202.0,1870.2L202.3,1870.0L204.0,1869.1L206.0,1868.2L206.4,1868.0L208.0,1867.3L210.0,1866.4L211.1,1866.0L212.0,1865.7L214.0,1864.9L216.0,1864.2L216.7,1864.0L218.0,1863.6L220.0,1863.0L222.0,1862.4L223.6,1862.0L224.0,1861.9L226.0,1861.4L228.0,1861.0L230.0,1860.6L232.0,1860.3L234.0,1860.0L234.2,1860.0Z" fill="#f29494" stroke="#f29494" stroke-width="0.6" fill-rule="evenodd"/>
<path d="M242.0,1870.0L244.0,1869.9L246.0,1869.8L248.0,1869.8L250.0,1869.8L252.0,1869.9L253.4,1870.0L254.0,1870.0L256.0,1870.2L258.0,1870.4L260.0,1870.7L262.0,1871.0L264.0,1871.3L266.0,1871.7L267.5,1872.0L268.0,1872.1L270.0,1872.6L272.0,1873.1L274.0,1873.6L275.4,1874.0L276.0,1874.2L278.0,1874.8L280.0,1875.5L281.6,1876.0L282.0,1876.1L284.0,1876.9L286.0,1877.6L286.9,1878.0L288.0,1878.4L290.0,1879.3L291.7,1880.0L292.0,1880.1L294.0,1881.0L296.0,1882.0L296.1,1882.0L298.0,1882.9L300.0,1883.9L300.1,1884.0L302.0,1885.0L303.9,1886.0L304.0,1886.1L306.0,1887.2L307.4,1888.0L308.0,1888.4L310.0,1889.6L310.6,1890.0L312.0,1890.9L313.6,1892.0L314.0,1892.3L316.0,1893.7L316.4,1894.0L318.0,1895.2L318.9,1896.0L320.0,1896.9L321.3,1898.0L322.0,1898.6L323.4,1900.0L324.0,1900.5L325.4,1902.0L326.0,1902.6L327.2,1904.0L328.0,1905.0L328.8,1906.0L330.0,1907.6L330.3,1908.0L331.6,1910.0L332.0,1910.7L332.8,1912.0L333.8,1914.0L334.0,1914.3L334.8,1916.0L335.6,1918.0L336.0,1919.1L336.3,1920.0L337.0,1922.0L337.5,1924.0L338.0,1926.0L338.0,1926.1L338.4,1928.0L338.7,1930.0L338.9,1932.0L339.1,1934.0L339.3,1936.0L339.4,1938.0L339.4,1940.0L339.4,1942.0L339.4,1944.0L339.3,1946.0L339.2,1948.0L339.0,1950.0L338.9,1952.0L338.7,1954.0L338.5,1956.0L338.2,1958.0L338.0,1959.7L338.0,1960.0L337.7,1962.0L337.4,1964.0L337.1,1966.0L336.7,1968.0L336.3,1970.0L336.0,1971.6L335.9,1972.0L335.5,1974.0L335.0,1976.0L334.6,1978.0L334.0,1980.0L334.0,1980.1L333.5,1982.0L332.9,1984.0L332.3,1986.0L332.0,1986.7L331.6,1988.0L330.9,1990.0L330.1,1992.0L330.0,1992.2L329.2,1994.0L328.4,1996.0L328.0,1996.8L327.4,1998.0L326.4,2000.0L326.0,2000.7L325.3,2002.0L324.2,2004.0L324.0,2004.3L323.0,2006.0L322.0,2007.5L321.7,2008.0L320.3,2010.0L320.0,2010.4L318.9,2012.0L318.0,2013.1L317.3,2014.0L316.0,2015.7L315.7,2016.0L314.0,2018.0L314.0,2018.0L312.2,2020.0L312.0,2020.2L310.3,2022.0L310.0,2022.3L308.3,2024.0L308.0,2024.3L306.2,2026.0L306.0,2026.2L304.0,2027.9L303.9,2028.0L302.0,2029.7L301.6,2030.0L300.0,2031.3L299.1,2032.0L298.0,2032.9L296.5,2034.0L296.0,2034.4L294.0,2035.8L293.7,2036.0L292.0,2037.2L290.8,2038.0L290.0,2038.5L288.0,2039.8L287.7,2040.0L286.0,2041.0L284.3,2042.0L284.0,2042.2L282.0,2043.3L280.8,2044.0L280.0,2044.4L278.0,2045.4L276.9,2046.0L276.0,2046.4L274.0,2047.4L272.7,2048.0L272.0,2048.3L270.0,2049.2L268.0,2050.0L268.0,2050.0L266.0,2050.8L264.0,2051.5L262.6,2052.0L262.0,2052.2L260.0,2052.9L258.0,2053.5L256.2,2054.0L256.0,2054.1L254.0,2054.6L252.0,2055.1L250.0,2055.5L248.0,2055.9L247.5,2056.0L246.0,2056.3L244.0,2056.6L242.0,2056.8L240.0,2057.0L238.0,2057.2L236.0,2057.3L234.0,2057.4L232.0,2057.4L230.0,2057.4L228.0,2057.3L226.0,2057.1L224.0,2056.9L222.0,2056.7L220.0,2056.4L218.0,2056.1L217.7,2056.0L216.0,2055.7L214.0,2055.2L212.0,2054.7L210.0,2054.1L209.7,2054.0L208.0,2053.4L206.0,2052.7L204.0,2052.0L204.0,2052.0L202.0,2051.2L200.0,2050.3L199.4,2050.0L198.0,2049.3L196.0,2048.3L195.5,2048.0L194.0,2047.2L192.0,2046.0L192.0,2046.0L190.0,2044.7L188.9,2044.0L188.0,2043.4L186.1,2042.0L186.0,2041.9L184.0,2040.4L183.5,2040.0L182.0,2038.7L181.2,2038.0L180.0,2037.0L179.0,2036.0L178.0,2035.1L176.9,2034.0L176.0,2033.0L175.1,2032.0L174.0,2030.8L173.3,2030.0L172.0,2028.4L171.7,2028.0L170.2,2026.0L170.0,2025.8L168.7,2024.0L168.0,2022.9L167.4,2022.0L166.2,2020.0L166.0,2019.6L165.1,2018.0L164.0,2016.0L164.0,2016.0L163.0,2014.0L162.1,2012.0L162.0,2011.7L161.3,2010.0L160.5,2008.0L160.0,2006.5L159.8,2006.0L159.2,2004.0L158.6,2002.0L158.1,2000.0L158.0,1999.6L157.6,1998.0L157.2,1996.0L156.9,1994.0L156.6,1992.0L156.3,1990.0L156.1,1988.0L156.0,1987.1L155.9,1986.0L155.8,1984.0L155.7,1982.0L155.7,1980.0L155.6,1978.0L155.7,1976.0L155.7,1974.0L155.9,1972.0L156.0,1970.0L156.0,1969.9L156.2,1968.0L156.4,1966.0L156.6,1964.0L156.9,1962.0L157.2,1960.0L157.5,1958.0L157.8,1956.0L158.0,1955.2L158.2,1954.0L158.6,1952.0L159.1,1950.0L159.5,1948.0L160.0,1946.2L160.0,1946.0L160.6,1944.0L161.1,1942.0L161.7,1940.0L162.0,1939.1L162.3,1938.0L163.0,1936.0L163.7,1934.0L164.0,1933.0L164.4,1932.0L165.1,1930.0L165.9,1928.0L166.0,1927.8L166.7,1926.0L167.6,1924.0L168.0,1923.1L168.5,1922.0L169.5,1920.0L170.0,1919.0L170.5,1918.0L171.5,1916.0L172.0,1915.2L172.7,1914.0L173.8,1912.0L174.0,1911.7L175.1,1910.0L176.0,1908.6L176.4,1908.0L177.7,1906.0L178.0,1905.6L179.2,1904.0L180.0,1902.9L180.7,1902.0L182.0,1900.4L182.4,1900.0L184.0,1898.1L184.1,1898.0L185.9,1896.0L186.0,1895.9L187.9,1894.0L188.0,1893.9L190.0,1892.0L190.0,1892.0L192.0,1890.2L192.3,1890.0L194.0,1888.5L194.7,1888.0L196.0,1887.0L197.3,1886.0L198.0,1885.5L200.0,1884.1L200.2,1884.0L202.0,1882.8L203.3,1882.0L204.0,1881.6L206.0,1880.4L206.8,1880.0L208.0,1879.3L210.0,1878.3L210.7,1878.0L212.0,1877.4L214.0,1876.5L215.3,1876.0L216.0,1875.7L218.0,1874.9L220.0,1874.2L220.7,1874.0L222.0,1873.6L224.0,1873.0L226.0,1872.5L227.9,1872.0L228.0,1872.0L230.0,1871.5L232.0,1871.2L234.0,1870.8L236.0,1870.5L238.0,1870.3L240.0,1870.1L241.5,1870.0Z" fill="#f07f7f" stroke="#f07f7f" stroke-width="0.6" fill-rule="evenodd"/>
<path d="M240.0,1879.8L242.0,1879.6L244.0,1879.5L246.0,1879.4L248.0,1879.4L250.0,1879.5L252.0,1879.6L254.0,1879.7L256.0,1879.9L257.1,1880.0L258.0,1880.1L260.0,1880.4L262.0,1880.7L264.0,1881.1L266.0,1881.5L268.0,1882.0L268.1,1882.0L270.0,1882.5L272.0,1883.0L274.0,1883.6L275.2,1884.0L276.0,1884.3L278.0,1884.9L280.0,1885.6L280.9,1886.0L282.0,1886.4L284.0,1887.2L285.9,1888.0L286.0,1888.0L288.0,1888.9L290.0,1889.8L290.4,1890.0L292.0,1890.8L294.0,1891.8L294.4,1892.0L296.0,1892.8L298.0,1894.0L298.1,1894.0L300.0,1895.1L301.5,1896.0L302.0,1896.3L304.0,1897.6L304.6,1898.0L306.0,1899.0L307.5,1900.0L308.0,1900.4L310.0,1901.9L310.1,1902.0L312.0,1903.6L312.5,1904.0L314.0,1905.4L314.6,1906.0L316.0,1907.4L316.6,1908.0L318.0,1909.5L318.4,1910.0L320.0,1912.0L320.0,1912.0L321.4,1914.0L322.0,1914.9L322.7,1916.0L323.9,1918.0L324.0,1918.3L324.9,1920.0L325.7,1922.0L326.0,1922.6L326.5,1924.0L327.2,1926.0L327.8,1928.0L328.0,1928.9L328.3,1930.0L328.7,1932.0L329.0,1934.0L329.3,1936.0L329.5,1938.0L329.7,1940.0L329.8,1942.0L329.8,1944.0L329.8,1946.0L329.8,1948.0L329.8,1950.0L329.7,1952.0L329.5,1954.0L329.4,1956.0L329.2,1958.0L329.0,1960.0L328.8,1962.0L328.5,1964.0L328.2,1966.0L328.0,1967.5L327.9,1968.0L327.6,1970.0L327.2,1972.0L326.9,1974.0L326.4,1976.0L326.0,1977.9L326.0,1978.0L325.5,1980.0L325.0,1982.0L324.4,1984.0L324.0,1985.4L323.8,1986.0L323.2,1988.0L322.5,1990.0L322.0,1991.3L321.7,1992.0L320.9,1994.0L320.1,1996.0L320.0,1996.2L319.2,1998.0L318.2,2000.0L318.0,2000.3L317.1,2002.0L316.0,2003.9L316.0,2004.0L314.7,2006.0L314.0,2007.2L313.5,2008.0L312.1,2010.0L312.0,2010.1L310.6,2012.0L310.0,2012.8L309.0,2014.0L308.0,2015.2L307.3,2016.0L306.0,2017.5L305.6,2018.0L304.0,2019.7L303.7,2020.0L302.0,2021.7L301.6,2022.0L300.0,2023.5L299.5,2024.0L298.0,2025.3L297.2,2026.0L296.0,2027.0L294.8,2028.0L294.0,2028.6L292.2,2030.0L292.0,2030.1L290.0,2031.6L289.4,2032.0L288.0,2032.9L286.4,2034.0L286.0,2034.2L284.0,2035.5L283.1,2036.0L282.0,2036.6L280.0,2037.8L279.5,2038.0L278.0,2038.8L276.0,2039.8L275.6,2040.0L274.0,2040.8L272.0,2041.7L271.2,2042.0L270.0,2042.5L268.0,2043.3L266.1,2044.0L266.0,2044.1L264.0,2044.7L262.0,2045.4L260.0,2046.0L259.9,2046.0L258.0,2046.5L256.0,2047.0L254.0,2047.5L252.0,2047.9L251.1,2048.0L250.0,2048.2L248.0,2048.5L246.0,2048.7L244.0,2048.9L242.0,2049.0L240.0,2049.1L238.0,2049.2L236.0,2049.1L234.0,2049.0L232.0,2048.9L230.0,2048.7L228.0,2048.5L226.0,2048.2L225.1,2048.0L224.0,2047.8L222.0,2047.4L220.0,2046.9L218.0,2046.3L216.9,2046.0L216.0,2045.7L214.0,2045.0L212.0,2044.3L211.3,2044.0L210.0,2043.5L208.0,2042.6L206.7,2042.0L206.0,2041.6L204.0,2040.6L202.9,2040.0L202.0,2039.5L200.0,2038.3L199.5,2038.0L198.0,2037.0L196.6,2036.0L196.0,2035.6L194.0,2034.1L193.9,2034.0L192.0,2032.5L191.4,2032.0L190.0,2030.8L189.2,2030.0L188.0,2028.9L187.1,2028.0L186.0,2026.9L185.2,2026.0L184.0,2024.7L183.4,2024.0L182.0,2022.2L181.8,2022.0L180.3,2020.0L180.0,2019.6L178.9,2018.0L178.0,2016.6L177.6,2016.0L176.4,2014.0L176.0,2013.2L175.3,2012.0L174.3,2010.0L174.0,2009.3L173.4,2008.0L172.6,2006.0L172.0,2004.5L171.8,2004.0L171.1,2002.0L170.4,2000.0L170.0,1998.4L169.9,1998.0L169.4,1996.0L168.9,1994.0L168.5,1992.0L168.2,1990.0L168.0,1988.7L167.9,1988.0L167.7,1986.0L167.5,1984.0L167.3,1982.0L167.2,1980.0L167.2,1978.0L167.2,1976.0L167.2,1974.0L167.3,1972.0L167.4,1970.0L167.5,1968.0L167.7,1966.0L167.9,1964.0L168.0,1963.2L168.1,1962.0L168.4,1960.0L168.7,1958.0L169.1,1956.0L169.4,1954.0L169.9,1952.0L170.0,1951.4L170.3,1950.0L170.8,1948.0L171.3,1946.0L171.8,1944.0L172.0,1943.3L172.4,1942.0L173.0,1940.0L173.6,1938.0L174.0,1936.9L174.3,1936.0L175.0,1934.0L175.8,1932.0L176.0,1931.4L176.6,1930.0L177.4,1928.0L178.0,1926.7L178.3,1926.0L179.3,1924.0L180.0,1922.5L180.3,1922.0L181.3,1920.0L182.0,1918.8L182.4,1918.0L183.6,1916.0L184.0,1915.4L184.9,1914.0L186.0,1912.3L186.2,1912.0L187.6,1910.0L188.0,1909.5L189.1,1908.0L190.0,1906.9L190.7,1906.0L192.0,1904.5L192.5,1904.0L194.0,1902.3L194.3,1902.0L196.0,1900.3L196.3,1900.0L198.0,1898.4L198.4,1898.0L200.0,1896.6L200.8,1896.0L202.0,1895.0L203.3,1894.0L204.0,1893.5L206.0,1892.1L206.1,1892.0L208.0,1890.8L209.2,1890.0L210.0,1889.5L212.0,1888.4L212.7,1888.0L214.0,1887.3L216.0,1886.4L216.8,1886.0L218.0,1885.5L220.0,1884.6L221.7,1884.0L222.0,1883.9L224.0,1883.2L226.0,1882.5L227.9,1882.0L228.0,1882.0L230.0,1881.5L232.0,1881.0L234.0,1880.6L236.0,1880.3L238.0,1880.0L238.2,1880.0Z" fill="#ee6b6b" stroke="#ee6b6b" stroke-width="0.6" fill-rule="evenodd"/>
<path d="M242.0,1890.0L244.0,1889.8L246.0,1889.7L248.0,1889.7L250.0,1889.7L252.0,1889.8L254.0,1890.0L254.5,1890.0L256.0,1890.2L258.0,1890.4L260.0,1890.7L262.0,1891.1L264.0,1891.5L266.0,1891.9L266.2,1892.0L268.0,1892.5L270.0,1893.0L272.0,1893.6L273.1,1894.0L274.0,1894.3L276.0,1895.0L278.0,1895.8L278.6,1896.0L280.0,1896.6L282.0,1897.4L283.3,1898.0L284.0,1898.3L286.0,1899.3L287.4,1900.0L288.0,1900.3L290.0,1901.4L291.1,1902.0L292.0,1902.5L294.0,1903.7L294.5,1904.0L296.0,1905.0L297.5,1906.0L298.0,1906.3L300.0,1907.8L300.3,1908.0L302.0,1909.4L302.7,1910.0L304.0,1911.1L305.0,1912.0L306.0,1913.0L307.0,1914.0L308.0,1915.1L308.8,1916.0L310.0,1917.5L310.4,1918.0L311.8,1920.0L312.0,1920.3L313.1,1922.0L314.0,1923.6L314.2,1924.0L315.2,1926.0L316.0,1927.8L316.1,1928.0L316.8,1930.0L317.5,1932.0L318.0,1933.9L318.0,1934.0L318.5,1936.0L318.9,1938.0L319.2,1940.0L319.4,1942.0L319.6,1944.0L319.8,1946.0L319.8,1948.0L319.9,1950.0L319.9,1952.0L319.9,1954.0L319.8,1956.0L319.7,1958.0L319.5,1960.0L319.4,1962.0L319.2,1964.0L318.9,1966.0L318.7,1968.0L318.4,1970.0L318.1,1972.0L318.0,1972.5L317.7,1974.0L317.4,1976.0L316.9,1978.0L316.5,1980.0L316.0,1982.0L316.0,1982.0L315.5,1984.0L314.9,1986.0L314.2,1988.0L314.0,1988.7L313.6,1990.0L312.8,1992.0L312.0,1994.0L312.0,1994.0L311.1,1996.0L310.2,1998.0L310.0,1998.4L309.2,2000.0L308.1,2002.0L308.0,2002.1L306.9,2004.0L306.0,2005.4L305.6,2006.0L304.3,2008.0L304.0,2008.3L302.8,2010.0L302.0,2011.0L301.2,2012.0L300.0,2013.4L299.5,2014.0L298.0,2015.6L297.7,2016.0L296.0,2017.7L295.7,2018.0L294.0,2019.6L293.6,2020.0L292.0,2021.4L291.3,2022.0L290.0,2023.0L288.8,2024.0L288.0,2024.6L286.1,2026.0L286.0,2026.0L284.0,2027.4L283.1,2028.0L282.0,2028.7L280.0,2029.9L279.8,2030.0L278.0,2031.0L276.2,2032.0L276.0,2032.1L274.0,2033.1L272.0,2034.0L272.0,2034.0L270.0,2034.8L268.0,2035.6L267.0,2036.0L266.0,2036.3L264.0,2037.0L262.0,2037.6L260.6,2038.0L260.0,2038.2L258.0,2038.7L256.0,2039.1L254.0,2039.5L252.0,2039.8L250.1,2040.0L250.0,2040.0L248.0,2040.2L246.0,2040.3L244.0,2040.4L242.0,2040.4L240.0,2040.4L238.0,2040.3L236.0,2040.1L235.1,2040.0L234.0,2039.9L232.0,2039.6L230.0,2039.2L228.0,2038.8L226.0,2038.3L225.0,2038.0L224.0,2037.7L222.0,2037.1L220.0,2036.4L219.0,2036.0L218.0,2035.6L216.0,2034.7L214.4,2034.0L214.0,2033.8L212.0,2032.8L210.6,2032.0L210.0,2031.6L208.0,2030.4L207.3,2030.0L206.0,2029.1L204.4,2028.0L204.0,2027.7L202.0,2026.1L201.9,2026.0L200.0,2024.4L199.5,2024.0L198.0,2022.6L197.4,2022.0L196.0,2020.6L195.5,2020.0L194.0,2018.4L193.7,2018.0L192.1,2016.0L192.0,2015.9L190.6,2014.0L190.0,2013.2L189.2,2012.0L188.0,2010.1L188.0,2010.0L186.8,2008.0L186.0,2006.4L185.8,2006.0L184.8,2004.0L184.0,2002.1L183.9,2002.0L183.2,2000.0L182.4,1998.0L182.0,1996.6L181.8,1996.0L181.2,1994.0L180.7,1992.0L180.3,1990.0L180.0,1988.4L179.9,1988.0L179.6,1986.0L179.3,1984.0L179.1,1982.0L179.0,1980.0L178.9,1978.0L178.8,1976.0L178.8,1974.0L178.8,1972.0L178.9,1970.0L179.0,1968.0L179.2,1966.0L179.4,1964.0L179.6,1962.0L179.8,1960.0L180.0,1959.0L180.2,1958.0L180.5,1956.0L180.9,1954.0L181.3,1952.0L181.7,1950.0L182.0,1948.9L182.2,1948.0L182.8,1946.0L183.3,1944.0L183.9,1942.0L184.0,1941.8L184.6,1940.0L185.3,1938.0L186.0,1936.0L186.0,1936.0L186.8,1934.0L187.6,1932.0L188.0,1931.1L188.5,1930.0L189.5,1928.0L190.0,1926.9L190.5,1926.0L191.5,1924.0L192.0,1923.2L192.7,1922.0L193.9,1920.0L194.0,1919.9L195.2,1918.0L196.0,1916.9L196.7,1916.0L198.0,1914.2L198.2,1914.0L199.8,1912.0L200.0,1911.8L201.6,1910.0L202.0,1909.5L203.5,1908.0L204.0,1907.5L205.6,1906.0L206.0,1905.6L207.8,1904.0L208.0,1903.9L210.0,1902.3L210.4,1902.0L212.0,1900.8L213.2,1900.0L214.0,1899.5L216.0,1898.3L216.4,1898.0L218.0,1897.1L220.0,1896.1L220.2,1896.0L222.0,1895.2L224.0,1894.3L224.8,1894.0L226.0,1893.5L228.0,1892.8L230.0,1892.2L230.8,1892.0L232.0,1891.7L234.0,1891.2L236.0,1890.8L238.0,1890.4L240.0,1890.2L241.6,1890.0Z" fill="#ec5858" stroke="#ec5858" stroke-width="0.6" fill-rule="evenodd"/>
<path d="M236.0,1901.6L238.0,1901.1L240.0,1900.8L242.0,1900.5L244.0,1900.3L246.0,1900.2L248.0,1900.1L250.0,1900.1L252.0,1900.2L254.0,1900.3L256.0,1900.5L258.0,1900.8L260.0,1901.2L262.0,1901.6L264.0,1902.0L264.0,1902.0L266.0,1902.5L268.0,1903.1L270.0,1903.7L270.8,1904.0L272.0,1904.4L274.0,1905.2L276.0,1906.0L276.0,1906.0L278.0,1906.9L280.0,1907.8L280.3,1908.0L282.0,1908.9L284.0,1909.9L284.1,1910.0L286.0,1911.1L287.4,1912.0L288.0,1912.4L290.0,1913.7L290.4,1914.0L292.0,1915.2L293.0,1916.0L294.0,1916.9L295.3,1918.0L296.0,1918.7L297.4,1920.0L298.0,1920.7L299.2,1922.0L300.0,1922.9L300.8,1924.0L302.0,1925.6L302.3,1926.0L303.6,1928.0L304.0,1928.8L304.7,1930.0L305.7,1932.0L306.0,1932.8L306.5,1934.0L307.3,1936.0L307.9,1938.0L308.0,1938.4L308.4,1940.0L308.9,1942.0L309.2,1944.0L309.5,1946.0L309.8,1948.0L310.0,1950.0L310.0,1950.5L310.1,1952.0L310.2,1954.0L310.2,1956.0L310.2,1958.0L310.1,1960.0L310.0,1962.0L310.0,1962.6L309.9,1964.0L309.7,1966.0L309.5,1968.0L309.3,1970.0L309.0,1972.0L308.7,1974.0L308.4,1976.0L308.0,1977.8L308.0,1978.0L307.5,1980.0L307.0,1982.0L306.5,1984.0L306.0,1985.7L305.9,1986.0L305.3,1988.0L304.6,1990.0L304.0,1991.4L303.8,1992.0L302.9,1994.0L302.0,1996.0L302.0,1996.0L301.0,1998.0L300.0,1999.8L299.9,2000.0L298.7,2002.0L298.0,2003.1L297.4,2004.0L296.0,2006.0L296.0,2006.0L294.5,2008.0L294.0,2008.6L292.8,2010.0L292.0,2010.9L290.9,2012.0L290.0,2013.0L289.0,2014.0L288.0,2014.9L286.8,2016.0L286.0,2016.7L284.4,2018.0L284.0,2018.3L282.0,2019.8L281.7,2020.0L280.0,2021.1L278.7,2022.0L278.0,2022.4L276.0,2023.6L275.3,2024.0L274.0,2024.7L272.0,2025.7L271.3,2026.0L270.0,2026.6L268.0,2027.4L266.4,2028.0L266.0,2028.1L264.0,2028.8L262.0,2029.4L260.0,2029.9L259.8,2030.0L258.0,2030.4L256.0,2030.8L254.0,2031.1L252.0,2031.3L250.0,2031.5L248.0,2031.6L246.0,2031.7L244.0,2031.6L242.0,2031.5L240.0,2031.4L238.0,2031.1L236.0,2030.8L234.0,2030.4L232.2,2030.0L232.0,2029.9L230.0,2029.4L228.0,2028.8L226.0,2028.1L225.9,2028.0L224.0,2027.3L222.0,2026.4L221.2,2026.0L220.0,2025.4L218.0,2024.3L217.5,2024.0L216.0,2023.1L214.3,2022.0L214.0,2021.8L212.0,2020.3L211.6,2020.0L210.0,2018.7L209.1,2018.0L208.0,2017.0L206.9,2016.0L206.0,2015.1L205.0,2014.0L204.0,2012.9L203.2,2012.0L202.0,2010.5L201.6,2010.0L200.1,2008.0L200.0,2007.8L198.8,2006.0L198.0,2004.6L197.6,2004.0L196.5,2002.0L196.0,2000.9L195.5,2000.0L194.7,1998.0L194.0,1996.3L193.9,1996.0L193.2,1994.0L192.5,1992.0L192.0,1990.1L192.0,1990.0L191.5,1988.0L191.1,1986.0L190.7,1984.0L190.4,1982.0L190.2,1980.0L190.1,1978.0L190.0,1977.0L189.9,1976.0L189.9,1974.0L189.9,1972.0L189.9,1970.0L190.0,1968.0L190.0,1968.0L190.1,1966.0L190.3,1964.0L190.5,1962.0L190.8,1960.0L191.1,1958.0L191.5,1956.0L191.9,1954.0L192.0,1953.4L192.3,1952.0L192.8,1950.0L193.3,1948.0L193.9,1946.0L194.0,1945.7L194.5,1944.0L195.2,1942.0L195.9,1940.0L196.0,1939.8L196.7,1938.0L197.6,1936.0L198.0,1935.0L198.5,1934.0L199.5,1932.0L200.0,1930.9L200.5,1930.0L201.6,1928.0L202.0,1927.4L202.9,1926.0L204.0,1924.3L204.2,1924.0L205.6,1922.0L206.0,1921.5L207.2,1920.0L208.0,1919.0L208.9,1918.0L210.0,1916.8L210.7,1916.0L212.0,1914.7L212.8,1914.0L214.0,1912.9L215.1,1912.0L216.0,1911.2L217.6,1910.0L218.0,1909.7L220.0,1908.4L220.6,1908.0L222.0,1907.2L224.0,1906.0L224.1,1906.0L226.0,1905.1L228.0,1904.2L228.4,1904.0L230.0,1903.4L232.0,1902.7L234.0,1902.1L234.3,1902.0Z" fill="#ea4747" stroke="#ea4747" stroke-width="0.6" fill-rule="evenodd"/>
<path d="M240.0,1913.6L242.0,1913.2L244.0,1912.9L246.0,1912.7L248.0,1912.5L250.0,1912.5L252.0,1912.6L254.0,1912.7L256.0,1912.9L258.0,1913.2L260.0,1913.6L261.9,1914.0L262.0,1914.0L264.0,1914.6L266.0,1915.2L268.0,1915.9L268.4,1916.0L270.0,1916.6L272.0,1917.5L273.1,1918.0L274.0,1918.5L276.0,1919.5L276.9,1920.0L278.0,1920.7L280.0,1922.0L280.1,1922.0L282.0,1923.4L282.8,1924.0L284.0,1925.0L285.2,1926.0L286.0,1926.7L287.3,1928.0L288.0,1928.7L289.1,1930.0L290.0,1931.1L290.7,1932.0L292.0,1933.8L292.1,1934.0L293.3,1936.0L294.0,1937.2L294.4,1938.0L295.3,1940.0L296.0,1941.7L296.1,1942.0L296.8,1944.0L297.4,1946.0L297.8,1948.0L298.0,1948.8L298.2,1950.0L298.6,1952.0L298.8,1954.0L299.0,1956.0L299.1,1958.0L299.2,1960.0L299.2,1962.0L299.2,1964.0L299.1,1966.0L299.0,1968.0L298.8,1970.0L298.6,1972.0L298.3,1974.0L298.0,1975.9L298.0,1976.0L297.6,1978.0L297.2,1980.0L296.7,1982.0L296.1,1984.0L296.0,1984.3L295.5,1986.0L294.7,1988.0L294.0,1989.9L294.0,1990.0L293.1,1992.0L292.1,1994.0L292.0,1994.2L291.0,1996.0L290.0,1997.8L289.9,1998.0L288.6,2000.0L288.0,2000.8L287.1,2002.0L286.0,2003.4L285.5,2004.0L284.0,2005.7L283.7,2006.0L282.0,2007.7L281.7,2008.0L280.0,2009.5L279.5,2010.0L278.0,2011.2L276.9,2012.0L276.0,2012.6L274.0,2014.0L274.0,2014.0L272.0,2015.1L270.4,2016.0L270.0,2016.2L268.0,2017.2L266.0,2018.0L266.0,2018.0L264.0,2018.7L262.0,2019.4L260.0,2019.9L259.8,2020.0L258.0,2020.4L256.0,2020.8L254.0,2021.0L252.0,2021.2L250.0,2021.3L248.0,2021.4L246.0,2021.3L244.0,2021.1L242.0,2020.9L240.0,2020.6L238.0,2020.1L237.5,2020.0L236.0,2019.6L234.0,2019.0L232.0,2018.3L231.3,2018.0L230.0,2017.4L228.0,2016.5L227.0,2016.0L226.0,2015.4L224.0,2014.2L223.6,2014.0L222.0,2012.9L220.8,2012.0L220.0,2011.4L218.3,2010.0L218.0,2009.7L216.2,2008.0L216.0,2007.8L214.3,2006.0L214.0,2005.6L212.6,2004.0L212.0,2003.2L211.2,2002.0L210.0,2000.3L209.8,2000.0L208.6,1998.0L208.0,1996.8L207.6,1996.0L206.6,1994.0L206.0,1992.5L205.8,1992.0L205.1,1990.0L204.4,1988.0L204.0,1986.4L203.9,1986.0L203.4,1984.0L203.0,1982.0L202.7,1980.0L202.5,1978.0L202.3,1976.0L202.2,1974.0L202.1,1972.0L202.2,1970.0L202.2,1968.0L202.3,1966.0L202.5,1964.0L202.8,1962.0L203.1,1960.0L203.4,1958.0L203.8,1956.0L204.0,1955.2L204.3,1954.0L204.8,1952.0L205.4,1950.0L206.0,1948.0L206.0,1948.0L206.7,1946.0L207.5,1944.0L208.0,1942.7L208.3,1942.0L209.2,1940.0L210.0,1938.4L210.2,1938.0L211.3,1936.0L212.0,1934.8L212.5,1934.0L213.8,1932.0L214.0,1931.7L215.3,1930.0L216.0,1929.0L216.9,1928.0L218.0,1926.7L218.6,1926.0L220.0,1924.6L220.6,1924.0L222.0,1922.8L222.9,1922.0L224.0,1921.1L225.5,1920.0L226.0,1919.7L228.0,1918.4L228.7,1918.0L230.0,1917.3L232.0,1916.3L232.7,1916.0L234.0,1915.4L236.0,1914.7L238.0,1914.1L238.4,1914.0Z" fill="#e83838" stroke="#e83838" stroke-width="0.6" fill-rule="evenodd"/>
<path d="M244.0,1929.7L246.0,1929.3L248.0,1929.0L250.0,1928.9L252.0,1928.9L254.0,1929.0L256.0,1929.2L258.0,1929.6L259.9,1930.0L260.0,1930.0L262.0,1930.6L264.0,1931.4L265.4,1932.0L266.0,1932.3L268.0,1933.3L269.2,1934.0L270.0,1934.5L272.0,1935.9L272.1,1936.0L274.0,1937.6L274.5,1938.0L276.0,1939.5L276.5,1940.0L278.0,1941.8L278.1,1942.0L279.6,1944.0L280.0,1944.7L280.8,1946.0L281.8,1948.0L282.0,1948.4L282.7,1950.0L283.4,1952.0L284.0,1953.8L284.1,1954.0L284.5,1956.0L284.9,1958.0L285.3,1960.0L285.5,1962.0L285.6,1964.0L285.7,1966.0L285.7,1968.0L285.6,1970.0L285.4,1972.0L285.2,1974.0L284.8,1976.0L284.4,1978.0L284.0,1979.8L283.9,1980.0L283.4,1982.0L282.7,1984.0L282.0,1985.7L281.9,1986.0L281.0,1988.0L280.0,1989.9L279.9,1990.0L278.7,1992.0L278.0,1993.1L277.3,1994.0L276.0,1995.7L275.8,1996.0L274.0,1997.9L273.9,1998.0L272.0,1999.8L271.8,2000.0L270.0,2001.4L269.2,2002.0L268.0,2002.8L266.0,2004.0L265.9,2004.0L264.0,2005.0L262.0,2005.8L261.4,2006.0L260.0,2006.5L258.0,2007.0L256.0,2007.4L254.0,2007.7L252.0,2007.9L250.0,2007.9L248.0,2007.8L246.0,2007.6L244.0,2007.2L242.0,2006.8L240.0,2006.2L239.6,2006.0L238.0,2005.4L236.0,2004.5L235.1,2004.0L234.0,2003.3L232.0,2002.1L231.9,2002.0L230.0,2000.5L229.4,2000.0L228.0,1998.7L227.3,1998.0L226.0,1996.6L225.5,1996.0L224.0,1994.1L223.9,1994.0L222.6,1992.0L222.0,1991.0L221.5,1990.0L220.5,1988.0L220.0,1986.8L219.7,1986.0L219.0,1984.0L218.4,1982.0L218.0,1980.4L217.9,1980.0L217.5,1978.0L217.3,1976.0L217.1,1974.0L217.0,1972.0L217.0,1970.0L217.0,1968.0L217.2,1966.0L217.4,1964.0L217.7,1962.0L218.0,1960.6L218.1,1960.0L218.6,1958.0L219.2,1956.0L219.8,1954.0L220.0,1953.5L220.6,1952.0L221.4,1950.0L222.0,1948.7L222.4,1948.0L223.4,1946.0L224.0,1945.1L224.7,1944.0L226.0,1942.1L226.1,1942.0L227.7,1940.0L228.0,1939.6L229.5,1938.0L230.0,1937.5L231.7,1936.0L232.0,1935.7L234.0,1934.2L234.3,1934.0L236.0,1932.9L237.7,1932.0L238.0,1931.9L240.0,1931.0L242.0,1930.3L242.9,1930.0Z" fill="#e72c2c" stroke="#e72c2c" stroke-width="0.6" fill-rule="evenodd"/>
</g>
<clipPath id="cBlueB"><path d="M152.0,2119.0 C152.7,2118.4 156.7,2125.7 160.0,2127.5 C163.3,2129.3 167.5,2130.4 172.0,2130.0 C176.5,2129.6 182.5,2126.8 187.0,2125.0 C191.5,2123.2 194.9,2121.8 199.0,2119.2 C203.1,2116.6 206.5,2113.0 211.5,2109.3 C216.5,2105.6 222.6,2101.0 228.8,2096.9 C235.0,2092.8 241.2,2089.2 248.6,2084.5 C256.0,2079.8 264.8,2074.4 273.4,2068.5 C282.0,2062.6 290.6,2056.2 300.0,2049.0 C309.4,2041.8 320.9,2033.2 330.0,2025.0 C339.1,2016.8 344.5,2008.1 354.8,2000.0 C365.1,1991.9 379.5,1984.1 391.9,1976.4 C404.3,1968.7 417.9,1961.0 429.0,1954.0 C440.1,1947.0 449.7,1939.8 458.8,1934.3 C467.9,1928.8 477.0,1921.9 483.6,1920.7 C490.2,1919.5 494.3,1923.4 498.4,1926.9 C502.5,1930.4 505.0,1935.5 508.3,1941.7 C511.6,1947.9 514.1,1956.2 518.2,1964.0 C522.3,1971.8 529.0,1980.5 533.1,1988.8 C537.2,1997.1 540.8,2005.4 543.0,2013.6 C545.2,2021.8 545.8,2029.3 546.5,2038.0 C547.2,2046.7 548.5,2055.5 547.3,2065.8 C546.1,2076.1 543.4,2089.1 539.3,2099.7 C535.1,2110.3 529.4,2120.1 522.4,2129.3 C515.4,2138.5 505.5,2146.2 497.0,2154.7 C488.5,2163.1 480.1,2172.9 471.6,2180.0 C463.1,2187.1 453.2,2191.3 446.2,2197.0 C439.1,2202.7 433.5,2207.7 429.3,2214.0 C425.1,2220.3 425.0,2229.4 420.8,2235.0 C416.6,2240.6 411.6,2245.0 403.9,2247.8 C396.1,2250.6 384.9,2252.6 374.3,2252.0 C363.7,2251.4 351.0,2246.6 340.4,2244.5 C329.8,2242.4 319.6,2240.8 310.5,2239.3 C301.4,2237.8 294.1,2237.1 285.8,2235.6 C277.6,2234.1 268.4,2233.1 261.0,2230.6 C253.6,2228.1 247.4,2225.2 241.2,2220.7 C235.0,2216.2 228.8,2209.6 223.8,2203.4 C218.9,2197.2 215.6,2189.4 211.5,2183.6 C207.4,2177.8 204.0,2173.7 199.0,2168.7 C194.0,2163.7 187.0,2158.4 181.7,2153.8 C176.4,2149.2 171.3,2144.8 167.0,2141.0 C162.7,2137.2 158.5,2134.7 156.0,2131.0 C153.5,2127.3 151.3,2119.6 152.0,2119.0 Z"/></clipPath>
<path d="M152.0,2119.0 C152.7,2118.4 156.7,2125.7 160.0,2127.5 C163.3,2129.3 167.5,2130.4 172.0,2130.0 C176.5,2129.6 182.5,2126.8 187.0,2125.0 C191.5,2123.2 194.9,2121.8 199.0,2119.2 C203.1,2116.6 206.5,2113.0 211.5,2109.3 C216.5,2105.6 222.6,2101.0 228.8,2096.9 C235.0,2092.8 241.2,2089.2 248.6,2084.5 C256.0,2079.8 264.8,2074.4 273.4,2068.5 C282.0,2062.6 290.6,2056.2 300.0,2049.0 C309.4,2041.8 320.9,2033.2 330.0,2025.0 C339.1,2016.8 344.5,2008.1 354.8,2000.0 C365.1,1991.9 379.5,1984.1 391.9,1976.4 C404.3,1968.7 417.9,1961.0 429.0,1954.0 C440.1,1947.0 449.7,1939.8 458.8,1934.3 C467.9,1928.8 477.0,1921.9 483.6,1920.7 C490.2,1919.5 494.3,1923.4 498.4,1926.9 C502.5,1930.4 505.0,1935.5 508.3,1941.7 C511.6,1947.9 514.1,1956.2 518.2,1964.0 C522.3,1971.8 529.0,1980.5 533.1,1988.8 C537.2,1997.1 540.8,2005.4 543.0,2013.6 C545.2,2021.8 545.8,2029.3 546.5,2038.0 C547.2,2046.7 548.5,2055.5 547.3,2065.8 C546.1,2076.1 543.4,2089.1 539.3,2099.7 C535.1,2110.3 529.4,2120.1 522.4,2129.3 C515.4,2138.5 505.5,2146.2 497.0,2154.7 C488.5,2163.1 480.1,2172.9 471.6,2180.0 C463.1,2187.1 453.2,2191.3 446.2,2197.0 C439.1,2202.7 433.5,2207.7 429.3,2214.0 C425.1,2220.3 425.0,2229.4 420.8,2235.0 C416.6,2240.6 411.6,2245.0 403.9,2247.8 C396.1,2250.6 384.9,2252.6 374.3,2252.0 C363.7,2251.4 351.0,2246.6 340.4,2244.5 C329.8,2242.4 319.6,2240.8 310.5,2239.3 C301.4,2237.8 294.1,2237.1 285.8,2235.6 C277.6,2234.1 268.4,2233.1 261.0,2230.6 C253.6,2228.1 247.4,2225.2 241.2,2220.7 C235.0,2216.2 228.8,2209.6 223.8,2203.4 C218.9,2197.2 215.6,2189.4 211.5,2183.6 C207.4,2177.8 204.0,2173.7 199.0,2168.7 C194.0,2163.7 187.0,2158.4 181.7,2153.8 C176.4,2149.2 171.3,2144.8 167.0,2141.0 C162.7,2137.2 158.5,2134.7 156.0,2131.0 C153.5,2127.3 151.3,2119.6 152.0,2119.0 Z" fill="#d7d9ef"/>
<g clip-path="url(#cBlueB)">
<path d="M478.0,1959.9L480.0,1959.8L482.0,1959.8L484.0,1959.8L486.0,1959.8L488.0,1959.9L488.9,1960.0L490.0,1960.1L492.0,1960.2L494.0,1960.5L496.0,1960.7L498.0,1961.0L500.0,1961.4L502.0,1961.8L502.9,1962.0L504.0,1962.3L506.0,1962.8L508.0,1963.3L510.0,1963.9L510.2,1964.0L512.0,1964.6L514.0,1965.3L515.8,1966.0L516.0,1966.1L518.0,1966.9L520.0,1967.8L520.3,1968.0L522.0,1968.8L524.0,1969.8L524.3,1970.0L526.0,1970.9L527.8,1972.0L528.0,1972.1L530.0,1973.4L530.9,1974.0L532.0,1974.7L533.8,1976.0L534.0,1976.1L536.0,1977.7L536.4,1978.0L538.0,1979.3L538.8,1980.0L540.0,1981.0L541.1,1982.0L542.0,1982.9L543.2,1984.0L544.0,1984.8L545.1,1986.0L546.0,1987.0L546.9,1988.0L548.0,1989.2L548.6,1990.0L550.0,1991.7L550.2,1992.0L551.7,1994.0L552.0,1994.3L553.2,1996.0L554.0,1997.3L554.5,1998.0L555.7,2000.0L556.0,2000.4L556.9,2002.0L558.0,2004.0L558.0,2004.0L559.0,2006.0L560.0,2008.0L560.0,2008.0L560.9,2010.0L561.8,2012.0L562.0,2012.6L562.5,2014.0L563.3,2016.0L563.9,2018.0L564.0,2018.2L564.6,2020.0L565.1,2022.0L565.6,2024.0L566.0,2025.6L566.1,2026.0L566.5,2028.0L566.9,2030.0L567.2,2032.0L567.5,2034.0L567.7,2036.0L567.9,2038.0L568.0,2039.1L568.0,2040.0L568.0,2042.0L568.0,2044.0L568.0,2046.0L568.0,2048.0L568.0,2050.0L568.0,2052.0L568.0,2052.7L567.9,2054.0L567.7,2056.0L567.5,2058.0L567.2,2060.0L566.9,2062.0L566.6,2064.0L566.2,2066.0L566.0,2067.0L565.8,2068.0L565.3,2070.0L564.8,2072.0L564.3,2074.0L564.0,2075.1L563.7,2076.0L563.1,2078.0L562.5,2080.0L562.0,2081.5L561.8,2082.0L561.1,2084.0L560.4,2086.0L560.0,2087.0L559.6,2088.0L558.9,2090.0L558.0,2092.0L558.0,2092.0L557.2,2094.0L556.3,2096.0L556.0,2096.7L555.4,2098.0L554.5,2100.0L554.0,2101.0L553.6,2102.0L552.6,2104.0L552.0,2105.2L551.6,2106.0L550.6,2108.0L550.0,2109.3L549.6,2110.0L548.6,2112.0L548.0,2113.2L547.6,2114.0L546.6,2116.0L546.0,2117.2L545.6,2118.0L544.6,2120.0L544.0,2121.1L543.5,2122.0L542.5,2124.0L542.0,2125.0L541.5,2126.0L540.5,2128.0L540.0,2129.0L539.5,2130.0L538.5,2132.0L538.0,2133.0L537.5,2134.0L536.6,2136.0L536.0,2137.2L535.6,2138.0L534.6,2140.0L534.0,2141.3L533.7,2142.0L532.8,2144.0L532.0,2145.6L531.8,2146.0L530.9,2148.0L530.0,2149.9L529.9,2150.0L529.0,2152.0L528.1,2154.0L528.0,2154.2L527.2,2156.0L526.3,2158.0L526.0,2158.5L525.3,2160.0L524.4,2162.0L524.0,2162.8L523.5,2164.0L522.5,2166.0L522.0,2167.0L521.5,2168.0L520.6,2170.0L520.0,2171.1L519.6,2172.0L518.6,2174.0L518.0,2175.1L517.6,2176.0L516.5,2178.0L516.0,2179.0L515.4,2180.0L514.4,2182.0L514.0,2182.6L513.2,2184.0L512.1,2186.0L512.0,2186.2L510.9,2188.0L510.0,2189.5L509.7,2190.0L508.5,2192.0L508.0,2192.8L507.2,2194.0L506.0,2195.9L505.9,2196.0L504.6,2198.0L504.0,2198.8L503.2,2200.0L502.0,2201.7L501.8,2202.0L500.3,2204.0L500.0,2204.4L498.8,2206.0L498.0,2207.0L497.2,2208.0L496.0,2209.5L495.6,2210.0L494.0,2211.9L493.9,2212.0L492.2,2214.0L492.0,2214.2L490.4,2216.0L490.0,2216.5L488.6,2218.0L488.0,2218.6L486.7,2220.0L486.0,2220.7L484.7,2222.0L484.0,2222.7L482.6,2224.0L482.0,2224.6L480.5,2226.0L480.0,2226.4L478.3,2228.0L478.0,2228.2L476.0,2230.0L475.9,2230.0L474.0,2231.6L473.5,2232.0L472.0,2233.2L471.0,2234.0L470.0,2234.8L468.4,2236.0L468.0,2236.3L466.0,2237.8L465.7,2238.0L464.0,2239.2L462.8,2240.0L462.0,2240.5L460.0,2241.9L459.8,2242.0L458.0,2243.1L456.6,2244.0L456.0,2244.4L454.0,2245.5L453.2,2246.0L452.0,2246.7L450.0,2247.8L449.6,2248.0L448.0,2248.9L446.0,2249.9L445.8,2250.0L444.0,2250.9L442.0,2251.8L441.6,2252.0L440.0,2252.8L438.0,2253.6L437.1,2254.0L436.0,2254.5L434.0,2255.3L432.1,2256.0L432.0,2256.0L430.0,2256.8L428.0,2257.5L426.5,2258.0L426.0,2258.2L424.0,2258.8L422.0,2259.4L420.0,2260.0L420.0,2260.0L418.0,2260.0L416.0,2260.0L414.0,2260.0L412.0,2260.0L410.0,2260.0L408.0,2260.0L406.0,2260.0L404.0,2260.0L402.0,2260.0L400.0,2260.0L398.0,2260.0L396.0,2260.0L394.0,2260.0L392.0,2260.0L390.0,2260.0L388.0,2260.0L386.0,2260.0L384.0,2260.0L382.0,2260.0L380.0,2260.0L378.0,2260.0L376.0,2260.0L374.0,2260.0L372.0,2260.0L370.0,2260.0L368.0,2260.0L366.0,2260.0L364.0,2260.0L362.0,2260.0L360.0,2260.0L358.0,2260.0L356.0,2260.0L354.0,2260.0L352.0,2260.0L350.0,2260.0L348.2,2260.0L348.0,2260.0L346.0,2259.5L344.0,2259.0L342.0,2258.5L340.1,2258.0L340.0,2258.0L338.0,2257.5L336.0,2257.0L334.0,2256.5L332.0,2256.0L331.9,2256.0L330.0,2255.6L328.0,2255.1L326.0,2254.7L324.0,2254.3L322.2,2254.0L322.0,2254.0L320.0,2253.6L318.0,2253.4L316.0,2253.1L314.0,2252.9L312.0,2252.6L310.0,2252.5L308.0,2252.3L306.0,2252.2L304.0,2252.2L302.0,2252.1L300.0,2252.1L298.0,2252.1L296.0,2252.1L294.0,2252.2L292.0,2252.3L290.0,2252.4L288.0,2252.5L286.0,2252.6L284.0,2252.7L282.0,2252.9L280.0,2253.0L278.0,2253.2L276.0,2253.3L274.0,2253.5L272.0,2253.6L270.0,2253.8L268.0,2253.9L266.7,2254.0L266.0,2254.0L264.0,2254.2L262.0,2254.3L260.0,2254.4L258.0,2254.5L256.0,2254.6L254.0,2254.6L252.0,2254.7L250.0,2254.7L248.0,2254.7L246.0,2254.7L244.0,2254.6L242.0,2254.6L240.0,2254.5L238.0,2254.3L236.0,2254.2L234.2,2254.0L234.0,2254.0L232.0,2253.8L230.0,2253.5L228.0,2253.3L226.0,2252.9L224.0,2252.6L222.0,2252.2L221.2,2252.0L220.0,2251.7L218.0,2251.3L216.0,2250.7L214.0,2250.1L213.6,2250.0L212.0,2249.5L210.0,2248.8L208.0,2248.1L207.8,2248.0L206.0,2247.3L204.0,2246.4L203.2,2246.0L202.0,2245.4L200.0,2244.4L199.3,2244.0L198.0,2243.3L196.0,2242.0L196.0,2242.0L194.0,2240.7L193.0,2240.0L192.0,2239.2L190.4,2238.0L190.0,2237.6L188.1,2236.0L188.0,2235.9L186.1,2234.0L186.0,2233.9L184.2,2232.0L184.0,2231.7L182.6,2230.0L182.0,2229.2L181.1,2228.0L180.0,2226.3L179.8,2226.0L178.6,2224.0L178.0,2222.8L177.6,2222.0L176.7,2220.0L176.0,2218.4L175.9,2218.0L175.2,2216.0L174.6,2214.0L174.1,2212.0L174.0,2211.6L173.7,2210.0L173.4,2208.0L173.1,2206.0L173.0,2204.0L172.9,2202.0L172.9,2200.0L173.0,2198.0L173.2,2196.0L173.4,2194.0L173.7,2192.0L174.0,2190.3L174.0,2190.0L174.5,2188.0L174.9,2186.0L175.5,2184.0L176.0,2182.3L176.1,2182.0L176.8,2180.0L177.5,2178.0L178.0,2176.7L178.3,2176.0L179.1,2174.0L180.0,2172.0L180.0,2171.9L180.9,2170.0L181.9,2168.0L182.0,2167.8L182.9,2166.0L184.0,2164.0L184.0,2163.9L185.1,2162.0L186.0,2160.4L186.2,2160.0L187.4,2158.0L188.0,2157.1L188.7,2156.0L190.0,2154.0L190.0,2153.9L191.3,2152.0L192.0,2150.9L192.6,2150.0L194.0,2148.0L194.0,2148.0L195.4,2146.0L196.0,2145.2L196.9,2144.0L198.0,2142.5L198.4,2142.0L199.9,2140.0L200.0,2139.9L201.5,2138.0L202.0,2137.4L203.1,2136.0L204.0,2134.9L204.8,2134.0L206.0,2132.6L206.5,2132.0L208.0,2130.2L208.2,2130.0L210.0,2128.0L210.0,2128.0L211.8,2126.0L212.0,2125.8L213.7,2124.0L214.0,2123.7L215.6,2122.0L216.0,2121.6L217.6,2120.0L218.0,2119.6L219.7,2118.0L220.0,2117.7L221.8,2116.0L222.0,2115.8L223.9,2114.0L224.0,2114.0L226.0,2112.2L226.2,2112.0L228.0,2110.4L228.5,2110.0L230.0,2108.7L230.8,2108.0L232.0,2107.0L233.2,2106.0L234.0,2105.4L235.7,2104.0L236.0,2103.8L238.0,2102.2L238.3,2102.0L240.0,2100.7L240.9,2100.0L242.0,2099.2L243.5,2098.0L244.0,2097.7L246.0,2096.2L246.3,2096.0L248.0,2094.8L249.0,2094.0L250.0,2093.3L251.8,2092.0L252.0,2091.9L254.0,2090.5L254.7,2090.0L256.0,2089.1L257.6,2088.0L258.0,2087.7L260.0,2086.4L260.5,2086.0L262.0,2085.0L263.5,2084.0L264.0,2083.7L266.0,2082.3L266.5,2082.0L268.0,2081.0L269.5,2080.0L270.0,2079.7L272.0,2078.4L272.6,2078.0L274.0,2077.1L275.6,2076.0L276.0,2075.7L278.0,2074.4L278.7,2074.0L280.0,2073.1L281.7,2072.0L282.0,2071.8L284.0,2070.5L284.8,2070.0L286.0,2069.2L287.8,2068.0L288.0,2067.9L290.0,2066.6L290.9,2066.0L292.0,2065.3L293.9,2064.0L294.0,2063.9L296.0,2062.6L296.9,2062.0L298.0,2061.3L300.0,2060.0L300.0,2060.0L302.0,2058.6L303.0,2058.0L304.0,2057.3L305.9,2056.0L306.0,2056.0L308.0,2054.6L308.9,2054.0L310.0,2053.3L311.8,2052.0L312.0,2051.9L314.0,2050.5L314.8,2050.0L316.0,2049.1L317.7,2048.0L318.0,2047.8L320.0,2046.4L320.5,2046.0L322.0,2045.0L323.4,2044.0L324.0,2043.6L326.0,2042.1L326.2,2042.0L328.0,2040.7L329.0,2040.0L330.0,2039.3L331.8,2038.0L332.0,2037.8L334.0,2036.4L334.5,2036.0L336.0,2034.9L337.3,2034.0L338.0,2033.5L340.0,2032.0L340.0,2032.0L342.0,2030.5L342.7,2030.0L344.0,2029.0L345.4,2028.0L346.0,2027.5L348.0,2026.0L348.0,2026.0L350.0,2024.5L350.7,2024.0L352.0,2023.0L353.3,2022.0L354.0,2021.5L355.9,2020.0L356.0,2019.9L358.0,2018.4L358.6,2018.0L360.0,2016.9L361.2,2016.0L362.0,2015.3L363.8,2014.0L364.0,2013.8L366.0,2012.3L366.4,2012.0L368.0,2010.7L369.0,2010.0L370.0,2009.2L371.6,2008.0L372.0,2007.7L374.0,2006.1L374.2,2006.0L376.0,2004.6L376.9,2004.0L378.0,2003.1L379.5,2002.0L380.0,2001.6L382.0,2000.1L382.2,2000.0L384.0,1998.7L384.9,1998.0L386.0,1997.2L387.7,1996.0L388.0,1995.8L390.0,1994.3L390.5,1994.0L392.0,1992.9L393.4,1992.0L394.0,1991.6L396.0,1990.2L396.3,1990.0L398.0,1988.9L399.4,1988.0L400.0,1987.6L402.0,1986.3L402.5,1986.0L404.0,1985.1L405.8,1984.0L406.0,1983.9L408.0,1982.7L409.2,1982.0L410.0,1981.5L412.0,1980.4L412.7,1980.0L414.0,1979.3L416.0,1978.2L416.5,1978.0L418.0,1977.2L420.0,1976.2L420.4,1976.0L422.0,1975.2L424.0,1974.3L424.7,1974.0L426.0,1973.4L428.0,1972.5L429.2,1972.0L430.0,1971.6L432.0,1970.8L434.0,1970.0L434.1,1970.0L436.0,1969.2L438.0,1968.5L439.4,1968.0L440.0,1967.8L442.0,1967.1L444.0,1966.4L445.4,1966.0L446.0,1965.8L448.0,1965.2L450.0,1964.6L452.0,1964.1L452.3,1964.0L454.0,1963.6L456.0,1963.1L458.0,1962.6L460.0,1962.2L461.0,1962.0L462.0,1961.8L464.0,1961.4L466.0,1961.1L468.0,1960.8L470.0,1960.6L472.0,1960.3L474.0,1960.2L476.0,1960.0L476.2,1960.0Z" fill="#c3c6e6" stroke="#c3c6e6" stroke-width="0.6" fill-rule="evenodd"/>
<path d="M470.0,1985.9L472.0,1985.7L474.0,1985.6L476.0,1985.6L478.0,1985.6L480.0,1985.6L482.0,1985.7L484.0,1985.8L486.0,1986.0L486.4,1986.0L488.0,1986.2L490.0,1986.5L492.0,1986.8L494.0,1987.2L496.0,1987.7L497.3,1988.0L498.0,1988.2L500.0,1988.8L502.0,1989.4L503.5,1990.0L504.0,1990.2L506.0,1991.0L508.0,1991.9L508.2,1992.0L510.0,1992.9L512.0,1994.0L512.0,1994.0L514.0,1995.2L515.3,1996.0L516.0,1996.5L518.0,1997.9L518.1,1998.0L520.0,1999.5L520.7,2000.0L522.0,2001.2L522.9,2002.0L524.0,2003.0L525.0,2004.0L526.0,2005.1L526.8,2006.0L528.0,2007.3L528.5,2008.0L530.0,2009.9L530.1,2010.0L531.5,2012.0L532.0,2012.7L532.8,2014.0L534.0,2016.0L534.0,2016.0L535.1,2018.0L536.0,2019.9L536.1,2020.0L537.0,2022.0L537.8,2024.0L538.0,2024.6L538.5,2026.0L539.2,2028.0L539.8,2030.0L540.0,2030.9L540.3,2032.0L540.7,2034.0L541.1,2036.0L541.4,2038.0L541.7,2040.0L541.9,2042.0L542.0,2043.4L542.0,2044.0L542.1,2046.0L542.2,2048.0L542.1,2050.0L542.0,2052.0L542.0,2052.6L541.9,2054.0L541.7,2056.0L541.5,2058.0L541.2,2060.0L540.9,2062.0L540.5,2064.0L540.1,2066.0L540.0,2066.3L539.6,2068.0L539.1,2070.0L538.5,2072.0L538.0,2073.8L537.9,2074.0L537.3,2076.0L536.6,2078.0L536.0,2079.8L535.9,2080.0L535.2,2082.0L534.4,2084.0L534.0,2085.0L533.6,2086.0L532.8,2088.0L532.0,2089.8L531.9,2090.0L531.1,2092.0L530.2,2094.0L530.0,2094.4L529.3,2096.0L528.3,2098.0L528.0,2098.7L527.4,2100.0L526.5,2102.0L526.0,2103.0L525.5,2104.0L524.6,2106.0L524.0,2107.2L523.6,2108.0L522.7,2110.0L522.0,2111.5L521.8,2112.0L520.9,2114.0L520.0,2115.9L520.0,2116.0L519.1,2118.0L518.2,2120.0L518.0,2120.4L517.3,2122.0L516.4,2124.0L516.0,2125.0L515.6,2126.0L514.8,2128.0L514.0,2129.9L513.9,2130.0L513.2,2132.0L512.4,2134.0L512.0,2134.9L511.6,2136.0L510.8,2138.0L510.0,2140.0L510.0,2140.1L509.3,2142.0L508.5,2144.0L508.0,2145.4L507.8,2146.0L507.0,2148.0L506.3,2150.0L506.0,2150.8L505.5,2152.0L504.8,2154.0L504.0,2156.0L504.0,2156.0L503.2,2158.0L502.4,2160.0L502.0,2161.1L501.6,2162.0L500.8,2164.0L500.0,2165.9L500.0,2166.0L499.1,2168.0L498.2,2170.0L498.0,2170.5L497.3,2172.0L496.4,2174.0L496.0,2174.7L495.4,2176.0L494.4,2178.0L494.0,2178.7L493.3,2180.0L492.3,2182.0L492.0,2182.5L491.1,2184.0L490.0,2186.0L490.0,2186.0L488.8,2188.0L488.0,2189.2L487.5,2190.0L486.2,2192.0L486.0,2192.3L484.9,2194.0L484.0,2195.2L483.5,2196.0L482.0,2198.0L482.0,2198.0L480.5,2200.0L480.0,2200.6L478.9,2202.0L478.0,2203.1L477.2,2204.0L476.0,2205.5L475.5,2206.0L474.0,2207.7L473.7,2208.0L472.0,2209.8L471.8,2210.0L470.0,2211.9L469.9,2212.0L468.0,2213.8L467.8,2214.0L466.0,2215.7L465.7,2216.0L464.0,2217.5L463.4,2218.0L462.0,2219.2L461.0,2220.0L460.0,2220.8L458.5,2222.0L458.0,2222.4L456.0,2223.9L455.8,2224.0L454.0,2225.3L453.0,2226.0L452.0,2226.7L450.0,2228.0L450.0,2228.0L448.0,2229.3L446.8,2230.0L446.0,2230.5L444.0,2231.6L443.4,2232.0L442.0,2232.8L440.0,2233.8L439.6,2234.0L438.0,2234.8L436.0,2235.8L435.5,2236.0L434.0,2236.7L432.0,2237.6L431.0,2238.0L430.0,2238.4L428.0,2239.2L426.0,2239.9L425.8,2240.0L424.0,2240.6L422.0,2241.3L420.0,2241.9L419.6,2242.0L418.0,2242.5L416.0,2243.0L414.0,2243.5L412.0,2244.0L411.8,2244.0L410.0,2244.4L408.0,2244.8L406.0,2245.1L404.0,2245.4L402.0,2245.7L400.0,2245.9L398.9,2246.0L398.0,2246.1L396.0,2246.2L394.0,2246.4L392.0,2246.4L390.0,2246.5L388.0,2246.5L386.0,2246.4L384.0,2246.4L382.0,2246.2L380.0,2246.1L378.9,2246.0L378.0,2245.9L376.0,2245.7L374.0,2245.5L372.0,2245.2L370.0,2244.9L368.0,2244.5L366.0,2244.2L365.1,2244.0L364.0,2243.8L362.0,2243.4L360.0,2242.9L358.0,2242.5L356.0,2242.0L356.0,2242.0L354.0,2241.5L352.0,2241.0L350.0,2240.6L348.0,2240.1L347.8,2240.0L346.0,2239.6L344.0,2239.1L342.0,2238.6L340.0,2238.2L339.2,2238.0L338.0,2237.7L336.0,2237.3L334.0,2236.9L332.0,2236.6L330.0,2236.2L328.4,2236.0L328.0,2235.9L326.0,2235.7L324.0,2235.5L322.0,2235.3L320.0,2235.1L318.0,2235.0L316.0,2234.9L314.0,2234.8L312.0,2234.8L310.0,2234.8L308.0,2234.8L306.0,2234.8L304.0,2234.9L302.0,2235.0L300.0,2235.1L298.0,2235.3L296.0,2235.4L294.0,2235.6L292.0,2235.8L290.0,2235.9L289.3,2236.0L288.0,2236.1L286.0,2236.3L284.0,2236.5L282.0,2236.7L280.0,2236.9L278.0,2237.1L276.0,2237.3L274.0,2237.5L272.0,2237.7L270.0,2237.8L268.0,2238.0L267.7,2238.0L266.0,2238.1L264.0,2238.2L262.0,2238.3L260.0,2238.4L258.0,2238.5L256.0,2238.5L254.0,2238.5L252.0,2238.5L250.0,2238.4L248.0,2238.3L246.0,2238.2L244.0,2238.0L243.6,2238.0L242.0,2237.9L240.0,2237.6L238.0,2237.3L236.0,2237.0L234.0,2236.7L232.0,2236.2L231.0,2236.0L230.0,2235.8L228.0,2235.2L226.0,2234.6L224.1,2234.0L224.0,2234.0L222.0,2233.2L220.0,2232.4L219.1,2232.0L218.0,2231.5L216.0,2230.5L215.1,2230.0L214.0,2229.4L212.0,2228.2L211.8,2228.0L210.0,2226.8L209.0,2226.0L208.0,2225.2L206.6,2224.0L206.0,2223.5L204.5,2222.0L204.0,2221.4L202.7,2220.0L202.0,2219.1L201.2,2218.0L200.0,2216.3L199.8,2216.0L198.6,2214.0L198.0,2212.7L197.6,2212.0L196.8,2210.0L196.1,2208.0L196.0,2207.7L195.5,2206.0L195.0,2204.0L194.7,2202.0L194.4,2200.0L194.3,2198.0L194.2,2196.0L194.3,2194.0L194.4,2192.0L194.6,2190.0L194.9,2188.0L195.3,2186.0L195.7,2184.0L196.0,2182.9L196.2,2182.0L196.8,2180.0L197.4,2178.0L198.0,2176.3L198.1,2176.0L198.8,2174.0L199.6,2172.0L200.0,2171.2L200.5,2170.0L201.4,2168.0L202.0,2166.7L202.3,2166.0L203.3,2164.0L204.0,2162.7L204.3,2162.0L205.4,2160.0L206.0,2158.9L206.5,2158.0L207.6,2156.0L208.0,2155.3L208.7,2154.0L209.9,2152.0L210.0,2151.8L211.1,2150.0L212.0,2148.5L212.3,2148.0L213.5,2146.0L214.0,2145.2L214.8,2144.0L216.0,2142.1L216.0,2142.0L217.3,2140.0L218.0,2139.0L218.6,2138.0L220.0,2136.0L220.0,2135.9L221.3,2134.0L222.0,2133.0L222.7,2132.0L224.0,2130.2L224.1,2130.0L225.5,2128.0L226.0,2127.4L227.0,2126.0L228.0,2124.7L228.5,2124.0L230.0,2122.1L230.1,2122.0L231.7,2120.0L232.0,2119.7L233.4,2118.0L234.0,2117.3L235.1,2116.0L236.0,2115.0L236.9,2114.0L238.0,2112.8L238.7,2112.0L240.0,2110.6L240.6,2110.0L242.0,2108.6L242.5,2108.0L244.0,2106.6L244.6,2106.0L246.0,2104.6L246.7,2104.0L248.0,2102.8L248.8,2102.0L250.0,2101.0L251.0,2100.0L252.0,2099.2L253.3,2098.0L254.0,2097.5L255.7,2096.0L256.0,2095.8L258.0,2094.1L258.1,2094.0L260.0,2092.5L260.6,2092.0L262.0,2090.9L263.2,2090.0L264.0,2089.4L265.8,2088.0L266.0,2087.8L268.0,2086.3L268.4,2086.0L270.0,2084.9L271.1,2084.0L272.0,2083.4L273.9,2082.0L274.0,2081.9L276.0,2080.5L276.7,2080.0L278.0,2079.1L279.5,2078.0L280.0,2077.7L282.0,2076.3L282.4,2076.0L284.0,2074.9L285.2,2074.0L286.0,2073.5L288.0,2072.1L288.2,2072.0L290.0,2070.7L291.1,2070.0L292.0,2069.4L294.0,2068.0L294.0,2068.0L296.0,2066.7L297.0,2066.0L298.0,2065.3L299.9,2064.0L300.0,2064.0L302.0,2062.6L302.9,2062.0L304.0,2061.3L305.9,2060.0L306.0,2059.9L308.0,2058.6L308.9,2058.0L310.0,2057.2L311.8,2056.0L312.0,2055.9L314.0,2054.6L314.8,2054.0L316.0,2053.2L317.8,2052.0L318.0,2051.9L320.0,2050.5L320.8,2050.0L322.0,2049.2L323.7,2048.0L324.0,2047.8L326.0,2046.5L326.7,2046.0L328.0,2045.1L329.7,2044.0L330.0,2043.8L332.0,2042.4L332.7,2042.0L334.0,2041.1L335.6,2040.0L336.0,2039.8L338.0,2038.4L338.6,2038.0L340.0,2037.1L341.6,2036.0L342.0,2035.7L344.0,2034.4L344.6,2034.0L346.0,2033.1L347.6,2032.0L348.0,2031.8L350.0,2030.4L350.7,2030.0L352.0,2029.1L353.7,2028.0L354.0,2027.8L356.0,2026.5L356.9,2026.0L358.0,2025.3L360.0,2024.0L360.0,2024.0L362.0,2022.7L363.2,2022.0L364.0,2021.5L366.0,2020.3L366.5,2020.0L368.0,2019.1L369.8,2018.0L370.0,2017.9L372.0,2016.7L373.3,2016.0L374.0,2015.6L376.0,2014.5L376.9,2014.0L378.0,2013.4L380.0,2012.3L380.6,2012.0L382.0,2011.3L384.0,2010.2L384.5,2010.0L386.0,2009.3L388.0,2008.3L388.7,2008.0L390.0,2007.4L392.0,2006.5L393.1,2006.0L394.0,2005.6L396.0,2004.7L397.9,2004.0L398.0,2003.9L400.0,2003.1L402.0,2002.4L403.1,2002.0L404.0,2001.6L406.0,2000.9L408.0,2000.2L408.8,2000.0L410.0,1999.6L412.0,1998.9L414.0,1998.3L415.0,1998.0L416.0,1997.7L418.0,1997.1L420.0,1996.5L421.7,1996.0L422.0,1995.9L424.0,1995.4L426.0,1994.8L428.0,1994.3L429.0,1994.0L430.0,1993.7L432.0,1993.2L434.0,1992.7L436.0,1992.2L436.8,1992.0L438.0,1991.7L440.0,1991.2L442.0,1990.7L444.0,1990.2L445.1,1990.0L446.0,1989.8L448.0,1989.3L450.0,1988.9L452.0,1988.5L454.0,1988.1L454.7,1988.0L456.0,1987.7L458.0,1987.4L460.0,1987.1L462.0,1986.8L464.0,1986.5L466.0,1986.3L468.0,1986.1L468.6,1986.0Z" fill="#aeb2dc" stroke="#aeb2dc" stroke-width="0.6" fill-rule="evenodd"/>
<path d="M446.0,2010.0L448.0,2009.8L450.0,2009.6L452.0,2009.4L454.0,2009.2L456.0,2009.1L458.0,2008.9L460.0,2008.8L462.0,2008.7L464.0,2008.6L466.0,2008.6L468.0,2008.6L470.0,2008.6L472.0,2008.7L474.0,2008.8L476.0,2009.0L478.0,2009.2L480.0,2009.5L482.0,2009.9L482.7,2010.0L484.0,2010.3L486.0,2010.8L488.0,2011.4L489.9,2012.0L490.0,2012.0L492.0,2012.8L494.0,2013.7L494.7,2014.0L496.0,2014.7L498.0,2015.8L498.4,2016.0L500.0,2017.1L501.3,2018.0L502.0,2018.5L503.8,2020.0L504.0,2020.2L505.9,2022.0L506.0,2022.1L507.7,2024.0L508.0,2024.3L509.3,2026.0L510.0,2026.9L510.7,2028.0L512.0,2030.0L512.0,2030.1L513.0,2032.0L514.0,2034.0L514.0,2034.1L514.8,2036.0L515.4,2038.0L516.0,2039.9L516.0,2040.0L516.5,2042.0L516.9,2044.0L517.2,2046.0L517.4,2048.0L517.5,2050.0L517.6,2052.0L517.5,2054.0L517.5,2056.0L517.3,2058.0L517.1,2060.0L516.8,2062.0L516.5,2064.0L516.1,2066.0L516.0,2066.3L515.6,2068.0L515.1,2070.0L514.6,2072.0L514.0,2074.0L514.0,2074.1L513.4,2076.0L512.8,2078.0L512.1,2080.0L512.0,2080.2L511.4,2082.0L510.6,2084.0L510.0,2085.6L509.9,2086.0L509.1,2088.0L508.3,2090.0L508.0,2090.7L507.5,2092.0L506.7,2094.0L506.0,2095.7L505.9,2096.0L505.1,2098.0L504.2,2100.0L504.0,2100.6L503.4,2102.0L502.6,2104.0L502.0,2105.6L501.9,2106.0L501.1,2108.0L500.3,2110.0L500.0,2110.8L499.6,2112.0L498.8,2114.0L498.1,2116.0L498.0,2116.3L497.4,2118.0L496.7,2120.0L496.0,2122.0L496.0,2122.1L495.4,2124.0L494.7,2126.0L494.1,2128.0L494.0,2128.4L493.5,2130.0L492.9,2132.0L492.3,2134.0L492.0,2135.0L491.7,2136.0L491.1,2138.0L490.5,2140.0L490.0,2141.8L489.9,2142.0L489.4,2144.0L488.8,2146.0L488.2,2148.0L488.0,2148.5L487.6,2150.0L486.9,2152.0L486.3,2154.0L486.0,2154.9L485.6,2156.0L485.0,2158.0L484.3,2160.0L484.0,2160.7L483.5,2162.0L482.8,2164.0L482.0,2166.0L482.0,2166.0L481.2,2168.0L480.3,2170.0L480.0,2170.8L479.5,2172.0L478.5,2174.0L478.0,2175.1L477.5,2176.0L476.5,2178.0L476.0,2179.0L475.5,2180.0L474.3,2182.0L474.0,2182.6L473.1,2184.0L472.0,2185.8L471.9,2186.0L470.6,2188.0L470.0,2188.9L469.2,2190.0L468.0,2191.7L467.8,2192.0L466.3,2194.0L466.0,2194.4L464.7,2196.0L464.0,2196.8L463.0,2198.0L462.0,2199.1L461.2,2200.0L460.0,2201.3L459.4,2202.0L458.0,2203.4L457.4,2204.0L456.0,2205.3L455.3,2206.0L454.0,2207.2L453.1,2208.0L452.0,2208.9L450.7,2210.0L450.0,2210.6L448.2,2212.0L448.0,2212.1L446.0,2213.6L445.4,2214.0L444.0,2215.0L442.5,2216.0L442.0,2216.3L440.0,2217.6L439.3,2218.0L438.0,2218.8L436.0,2219.9L435.8,2220.0L434.0,2221.0L432.0,2222.0L432.0,2222.0L430.0,2222.9L428.0,2223.8L427.6,2224.0L426.0,2224.7L424.0,2225.5L422.5,2226.0L422.0,2226.2L420.0,2226.9L418.0,2227.5L416.3,2228.0L416.0,2228.1L414.0,2228.6L412.0,2229.1L410.0,2229.5L408.0,2229.9L407.5,2230.0L406.0,2230.3L404.0,2230.6L402.0,2230.8L400.0,2231.0L398.0,2231.2L396.0,2231.3L394.0,2231.4L392.0,2231.4L390.0,2231.4L388.0,2231.3L386.0,2231.2L384.0,2231.1L382.0,2230.9L380.0,2230.7L378.0,2230.5L376.0,2230.2L374.9,2230.0L374.0,2229.9L372.0,2229.5L370.0,2229.2L368.0,2228.8L366.0,2228.3L364.4,2228.0L364.0,2227.9L362.0,2227.5L360.0,2227.0L358.0,2226.5L356.0,2226.1L355.7,2226.0L354.0,2225.6L352.0,2225.1L350.0,2224.7L348.0,2224.3L346.8,2224.0L346.0,2223.8L344.0,2223.4L342.0,2223.1L340.0,2222.7L338.0,2222.4L336.0,2222.1L335.1,2222.0L334.0,2221.9L332.0,2221.6L330.0,2221.4L328.0,2221.3L326.0,2221.1L324.0,2221.0L322.0,2221.0L320.0,2220.9L318.0,2220.9L316.0,2220.9L314.0,2221.0L312.0,2221.1L310.0,2221.2L308.0,2221.3L306.0,2221.4L304.0,2221.6L302.0,2221.7L300.0,2221.9L299.0,2222.0L298.0,2222.1L296.0,2222.3L294.0,2222.5L292.0,2222.7L290.0,2223.0L288.0,2223.2L286.0,2223.4L284.0,2223.6L282.0,2223.8L280.0,2224.0L280.0,2224.0L278.0,2224.2L276.0,2224.4L274.0,2224.5L272.0,2224.7L270.0,2224.8L268.0,2224.9L266.0,2225.0L264.0,2225.1L262.0,2225.1L260.0,2225.1L258.0,2225.0L256.0,2225.0L254.0,2224.9L252.0,2224.7L250.0,2224.5L248.0,2224.2L246.4,2224.0L246.0,2223.9L244.0,2223.6L242.0,2223.2L240.0,2222.7L238.0,2222.1L237.6,2222.0L236.0,2221.5L234.0,2220.7L232.2,2220.0L232.0,2219.9L230.0,2219.0L228.2,2218.0L228.0,2217.9L226.0,2216.6L225.1,2216.0L224.0,2215.2L222.5,2214.0L222.0,2213.6L220.4,2212.0L220.0,2211.6L218.6,2210.0L218.0,2209.2L217.1,2208.0L216.0,2206.2L215.9,2206.0L214.8,2204.0L214.0,2202.0L214.0,2202.0L213.3,2200.0L212.8,2198.0L212.4,2196.0L212.2,2194.0L212.1,2192.0L212.1,2190.0L212.1,2188.0L212.3,2186.0L212.6,2184.0L212.9,2182.0L213.4,2180.0L213.9,2178.0L214.0,2177.5L214.4,2176.0L215.1,2174.0L215.8,2172.0L216.0,2171.4L216.5,2170.0L217.3,2168.0L218.0,2166.3L218.1,2166.0L219.0,2164.0L219.9,2162.0L220.0,2161.8L220.8,2160.0L221.8,2158.0L222.0,2157.6L222.8,2156.0L223.8,2154.0L224.0,2153.6L224.8,2152.0L225.9,2150.0L226.0,2149.7L226.9,2148.0L228.0,2146.0L228.0,2146.0L229.1,2144.0L230.0,2142.3L230.2,2142.0L231.3,2140.0L232.0,2138.7L232.4,2138.0L233.5,2136.0L234.0,2135.2L234.7,2134.0L235.9,2132.0L236.0,2131.8L237.1,2130.0L238.0,2128.5L238.3,2128.0L239.6,2126.0L240.0,2125.3L240.8,2124.0L242.0,2122.3L242.2,2122.0L243.6,2120.0L244.0,2119.4L245.0,2118.0L246.0,2116.6L246.5,2116.0L248.0,2114.0L248.0,2114.0L249.6,2112.0L250.0,2111.5L251.2,2110.0L252.0,2109.1L253.0,2108.0L254.0,2106.8L254.7,2106.0L256.0,2104.7L256.6,2104.0L258.0,2102.5L258.5,2102.0L260.0,2100.5L260.5,2100.0L262.0,2098.6L262.6,2098.0L264.0,2096.7L264.7,2096.0L266.0,2094.8L266.9,2094.0L268.0,2093.0L269.2,2092.0L270.0,2091.3L271.5,2090.0L272.0,2089.6L273.9,2088.0L274.0,2087.9L276.0,2086.3L276.4,2086.0L278.0,2084.7L278.9,2084.0L280.0,2083.2L281.5,2082.0L282.0,2081.6L284.0,2080.1L284.1,2080.0L286.0,2078.6L286.8,2078.0L288.0,2077.1L289.6,2076.0L290.0,2075.7L292.0,2074.2L292.3,2074.0L294.0,2072.8L295.2,2072.0L296.0,2071.4L298.0,2070.0L298.0,2070.0L300.0,2068.6L300.9,2068.0L302.0,2067.2L303.8,2066.0L304.0,2065.9L306.0,2064.5L306.8,2064.0L308.0,2063.2L309.7,2062.0L310.0,2061.8L312.0,2060.5L312.7,2060.0L314.0,2059.1L315.7,2058.0L316.0,2057.8L318.0,2056.5L318.8,2056.0L320.0,2055.2L321.9,2054.0L322.0,2053.9L324.0,2052.6L325.0,2052.0L326.0,2051.3L328.0,2050.0L328.1,2050.0L330.0,2048.8L331.2,2048.0L332.0,2047.5L334.0,2046.3L334.4,2046.0L336.0,2045.0L337.7,2044.0L338.0,2043.8L340.0,2042.6L341.0,2042.0L342.0,2041.4L344.0,2040.2L344.3,2040.0L346.0,2039.0L347.7,2038.0L348.0,2037.8L350.0,2036.7L351.2,2036.0L352.0,2035.5L354.0,2034.4L354.8,2034.0L356.0,2033.3L358.0,2032.3L358.5,2032.0L360.0,2031.2L362.0,2030.2L362.4,2030.0L364.0,2029.2L366.0,2028.2L366.4,2028.0L368.0,2027.3L370.0,2026.3L370.8,2026.0L372.0,2025.4L374.0,2024.6L375.4,2024.0L376.0,2023.8L378.0,2023.0L380.0,2022.2L380.6,2022.0L382.0,2021.5L384.0,2020.8L386.0,2020.1L386.3,2020.0L388.0,2019.5L390.0,2018.9L392.0,2018.3L393.1,2018.0L394.0,2017.8L396.0,2017.3L398.0,2016.8L400.0,2016.3L401.6,2016.0L402.0,2015.9L404.0,2015.5L406.0,2015.1L408.0,2014.8L410.0,2014.4L412.0,2014.1L412.8,2014.0L414.0,2013.8L416.0,2013.5L418.0,2013.2L420.0,2013.0L422.0,2012.7L424.0,2012.5L426.0,2012.2L427.9,2012.0L428.0,2012.0L430.0,2011.7L432.0,2011.5L434.0,2011.3L436.0,2011.1L438.0,2010.8L440.0,2010.6L442.0,2010.4L444.0,2010.2L445.7,2010.0Z" fill="#9aa0d2" stroke="#9aa0d2" stroke-width="0.6" fill-rule="evenodd"/>
<path d="M390.0,2029.8L392.0,2029.5L394.0,2029.2L396.0,2029.0L398.0,2028.8L400.0,2028.6L402.0,2028.5L404.0,2028.4L406.0,2028.3L408.0,2028.2L410.0,2028.2L412.0,2028.2L414.0,2028.2L416.0,2028.2L418.0,2028.3L420.0,2028.3L422.0,2028.4L424.0,2028.5L426.0,2028.6L428.0,2028.8L430.0,2028.9L432.0,2029.0L434.0,2029.2L436.0,2029.3L438.0,2029.5L440.0,2029.7L442.0,2029.9L443.0,2030.0L444.0,2030.1L446.0,2030.3L448.0,2030.6L450.0,2030.8L452.0,2031.1L454.0,2031.4L456.0,2031.8L457.2,2032.0L458.0,2032.2L460.0,2032.6L462.0,2033.1L464.0,2033.6L465.4,2034.0L466.0,2034.2L468.0,2034.9L470.0,2035.7L470.8,2036.0L472.0,2036.6L474.0,2037.6L474.7,2038.0L476.0,2038.8L477.7,2040.0L478.0,2040.2L480.0,2041.9L480.1,2042.0L482.0,2044.0L482.0,2044.0L483.6,2046.0L484.0,2046.7L484.8,2048.0L485.9,2050.0L486.0,2050.3L486.7,2052.0L487.4,2054.0L487.9,2056.0L488.0,2056.6L488.3,2058.0L488.5,2060.0L488.7,2062.0L488.7,2064.0L488.7,2066.0L488.6,2068.0L488.5,2070.0L488.2,2072.0L488.0,2073.6L487.9,2074.0L487.6,2076.0L487.3,2078.0L486.8,2080.0L486.4,2082.0L486.0,2083.8L485.9,2084.0L485.5,2086.0L485.0,2088.0L484.4,2090.0L484.0,2091.7L483.9,2092.0L483.4,2094.0L482.8,2096.0L482.3,2098.0L482.0,2099.1L481.7,2100.0L481.2,2102.0L480.7,2104.0L480.1,2106.0L480.0,2106.5L479.6,2108.0L479.1,2110.0L478.6,2112.0L478.1,2114.0L478.0,2114.5L477.6,2116.0L477.2,2118.0L476.7,2120.0L476.2,2122.0L476.0,2123.1L475.8,2124.0L475.4,2126.0L474.9,2128.0L474.5,2130.0L474.1,2132.0L474.0,2132.4L473.7,2134.0L473.2,2136.0L472.8,2138.0L472.4,2140.0L472.0,2141.7L471.9,2142.0L471.5,2144.0L471.0,2146.0L470.5,2148.0L470.0,2150.0L470.0,2150.2L469.5,2152.0L469.0,2154.0L468.4,2156.0L468.0,2157.3L467.8,2158.0L467.1,2160.0L466.5,2162.0L466.0,2163.3L465.7,2164.0L465.0,2166.0L464.2,2168.0L464.0,2168.4L463.3,2170.0L462.4,2172.0L462.0,2172.8L461.4,2174.0L460.4,2176.0L460.0,2176.7L459.3,2178.0L458.1,2180.0L458.0,2180.1L456.8,2182.0L456.0,2183.2L455.5,2184.0L454.1,2186.0L454.0,2186.1L452.5,2188.0L452.0,2188.7L450.9,2190.0L450.0,2191.0L449.2,2192.0L448.0,2193.2L447.3,2194.0L446.0,2195.3L445.3,2196.0L444.0,2197.2L443.1,2198.0L442.0,2198.9L440.7,2200.0L440.0,2200.6L438.2,2202.0L438.0,2202.1L436.0,2203.6L435.4,2204.0L434.0,2204.9L432.3,2206.0L432.0,2206.2L430.0,2207.3L428.8,2208.0L428.0,2208.4L426.0,2209.4L424.8,2210.0L424.0,2210.4L422.0,2211.2L420.0,2212.0L420.0,2212.0L418.0,2212.7L416.0,2213.4L414.0,2214.0L414.0,2214.0L412.0,2214.5L410.0,2215.0L408.0,2215.5L406.0,2215.8L404.8,2216.0L404.0,2216.1L402.0,2216.4L400.0,2216.6L398.0,2216.7L396.0,2216.8L394.0,2216.9L392.0,2216.9L390.0,2216.8L388.0,2216.7L386.0,2216.6L384.0,2216.4L382.0,2216.2L380.3,2216.0L380.0,2216.0L378.0,2215.7L376.0,2215.4L374.0,2215.0L372.0,2214.7L370.0,2214.3L368.5,2214.0L368.0,2213.9L366.0,2213.5L364.0,2213.1L362.0,2212.7L360.0,2212.3L358.6,2212.0L358.0,2211.9L356.0,2211.5L354.0,2211.1L352.0,2210.8L350.0,2210.4L348.0,2210.1L347.3,2210.0L346.0,2209.8L344.0,2209.5L342.0,2209.3L340.0,2209.1L338.0,2208.9L336.0,2208.7L334.0,2208.6L332.0,2208.5L330.0,2208.4L328.0,2208.4L326.0,2208.4L324.0,2208.4L322.0,2208.4L320.0,2208.4L318.0,2208.5L316.0,2208.6L314.0,2208.7L312.0,2208.8L310.0,2209.0L308.0,2209.1L306.0,2209.3L304.0,2209.5L302.0,2209.7L300.0,2209.9L298.6,2210.0L298.0,2210.1L296.0,2210.3L294.0,2210.5L292.0,2210.7L290.0,2210.9L288.0,2211.1L286.0,2211.3L284.0,2211.4L282.0,2211.6L280.0,2211.7L278.0,2211.9L276.0,2212.0L275.0,2212.0L274.0,2212.0L272.0,2212.1L270.0,2212.1L268.0,2212.1L266.0,2212.0L264.9,2212.0L264.0,2212.0L262.0,2211.8L260.0,2211.6L258.0,2211.4L256.0,2211.1L254.0,2210.7L252.0,2210.2L251.2,2210.0L250.0,2209.7L248.0,2209.0L246.0,2208.3L245.4,2208.0L244.0,2207.4L242.0,2206.3L241.5,2206.0L240.0,2205.0L238.6,2204.0L238.0,2203.5L236.3,2202.0L236.0,2201.7L234.5,2200.0L234.0,2199.3L233.1,2198.0L232.0,2196.1L232.0,2196.0L231.1,2194.0L230.4,2192.0L230.0,2190.3L229.9,2190.0L229.6,2188.0L229.4,2186.0L229.4,2184.0L229.4,2182.0L229.6,2180.0L229.9,2178.0L230.0,2177.3L230.2,2176.0L230.7,2174.0L231.2,2172.0L231.7,2170.0L232.0,2169.1L232.3,2168.0L233.0,2166.0L233.7,2164.0L234.0,2163.1L234.4,2162.0L235.2,2160.0L236.0,2158.0L236.0,2157.9L236.8,2156.0L237.6,2154.0L238.0,2153.1L238.5,2152.0L239.3,2150.0L240.0,2148.5L240.2,2148.0L241.1,2146.0L242.0,2144.0L242.0,2144.0L242.9,2142.0L243.9,2140.0L244.0,2139.7L244.8,2138.0L245.8,2136.0L246.0,2135.5L246.7,2134.0L247.7,2132.0L248.0,2131.5L248.8,2130.0L249.8,2128.0L250.0,2127.7L250.9,2126.0L252.0,2124.1L252.1,2124.0L253.2,2122.0L254.0,2120.7L254.4,2120.0L255.7,2118.0L256.0,2117.5L257.0,2116.0L258.0,2114.5L258.4,2114.0L259.8,2112.0L260.0,2111.7L261.3,2110.0L262.0,2109.1L262.8,2108.0L264.0,2106.5L264.4,2106.0L266.0,2104.1L266.1,2104.0L267.9,2102.0L268.0,2101.9L269.7,2100.0L270.0,2099.7L271.6,2098.0L272.0,2097.6L273.6,2096.0L274.0,2095.6L275.6,2094.0L276.0,2093.7L277.8,2092.0L278.0,2091.8L280.0,2090.0L280.0,2090.0L282.0,2088.2L282.2,2088.0L284.0,2086.5L284.6,2086.0L286.0,2084.8L287.0,2084.0L288.0,2083.2L289.5,2082.0L290.0,2081.6L292.0,2080.0L292.0,2080.0L294.0,2078.5L294.7,2078.0L296.0,2077.0L297.3,2076.0L298.0,2075.5L300.0,2074.0L300.1,2074.0L302.0,2072.6L302.9,2072.0L304.0,2071.2L305.7,2070.0L306.0,2069.8L308.0,2068.4L308.6,2068.0L310.0,2067.0L311.6,2066.0L312.0,2065.7L314.0,2064.4L314.6,2064.0L316.0,2063.1L317.6,2062.0L318.0,2061.8L320.0,2060.5L320.7,2060.0L322.0,2059.2L323.9,2058.0L324.0,2057.9L326.0,2056.7L327.2,2056.0L328.0,2055.5L330.0,2054.3L330.5,2054.0L332.0,2053.1L333.9,2052.0L334.0,2051.9L336.0,2050.8L337.3,2050.0L338.0,2049.6L340.0,2048.5L340.9,2048.0L342.0,2047.4L344.0,2046.3L344.6,2046.0L346.0,2045.3L348.0,2044.2L348.5,2044.0L350.0,2043.2L352.0,2042.3L352.6,2042.0L354.0,2041.3L356.0,2040.4L356.9,2040.0L358.0,2039.5L360.0,2038.6L361.5,2038.0L362.0,2037.8L364.0,2037.0L366.0,2036.2L366.6,2036.0L368.0,2035.5L370.0,2034.8L372.0,2034.1L372.3,2034.0L374.0,2033.5L376.0,2032.9L378.0,2032.3L379.2,2032.0L380.0,2031.8L382.0,2031.3L384.0,2030.9L386.0,2030.5L388.0,2030.1L388.6,2030.0Z" fill="#858fc9" stroke="#858fc9" stroke-width="0.6" fill-rule="evenodd"/>
<path d="M386.0,2039.9L388.0,2039.7L390.0,2039.6L392.0,2039.5L394.0,2039.5L396.0,2039.5L398.0,2039.6L400.0,2039.7L402.0,2039.8L403.8,2040.0L404.0,2040.0L406.0,2040.2L408.0,2040.5L410.0,2040.8L412.0,2041.1L414.0,2041.4L416.0,2041.8L416.8,2042.0L418.0,2042.2L420.0,2042.7L422.0,2043.2L424.0,2043.7L425.0,2044.0L426.0,2044.3L428.0,2044.9L430.0,2045.6L431.3,2046.0L432.0,2046.3L434.0,2047.0L436.0,2047.8L436.5,2048.0L438.0,2048.7L440.0,2049.6L440.9,2050.0L442.0,2050.6L444.0,2051.7L444.5,2052.0L446.0,2052.9L447.6,2054.0L448.0,2054.3L450.0,2055.8L450.2,2056.0L452.0,2057.6L452.5,2058.0L454.0,2059.6L454.3,2060.0L455.9,2062.0L456.0,2062.1L457.3,2064.0L458.0,2065.3L458.4,2066.0L459.3,2068.0L460.0,2069.9L460.1,2070.0L460.7,2072.0L461.2,2074.0L461.6,2076.0L461.9,2078.0L462.0,2079.3L462.1,2080.0L462.2,2082.0L462.3,2084.0L462.3,2086.0L462.3,2088.0L462.2,2090.0L462.1,2092.0L462.0,2093.1L461.9,2094.0L461.8,2096.0L461.6,2098.0L461.3,2100.0L461.1,2102.0L460.9,2104.0L460.6,2106.0L460.3,2108.0L460.1,2110.0L460.0,2110.5L459.8,2112.0L459.5,2114.0L459.2,2116.0L458.9,2118.0L458.6,2120.0L458.4,2122.0L458.1,2124.0L458.0,2124.4L457.8,2126.0L457.5,2128.0L457.2,2130.0L456.9,2132.0L456.6,2134.0L456.2,2136.0L456.0,2137.5L455.9,2138.0L455.6,2140.0L455.2,2142.0L454.8,2144.0L454.5,2146.0L454.0,2148.0L454.0,2148.1L453.6,2150.0L453.1,2152.0L452.6,2154.0L452.0,2156.0L452.0,2156.1L451.4,2158.0L450.8,2160.0L450.1,2162.0L450.0,2162.2L449.3,2164.0L448.5,2166.0L448.0,2167.1L447.6,2168.0L446.6,2170.0L446.0,2171.2L445.5,2172.0L444.4,2174.0L444.0,2174.7L443.2,2176.0L442.0,2177.7L441.8,2178.0L440.3,2180.0L440.0,2180.4L438.7,2182.0L438.0,2182.9L437.0,2184.0L436.0,2185.0L435.1,2186.0L434.0,2187.0L432.9,2188.0L432.0,2188.8L430.6,2190.0L430.0,2190.5L428.0,2192.0L427.9,2192.0L426.0,2193.3L424.9,2194.0L424.0,2194.6L422.0,2195.7L421.4,2196.0L420.0,2196.7L418.0,2197.7L417.2,2198.0L416.0,2198.5L414.0,2199.3L412.0,2199.9L411.8,2200.0L410.0,2200.5L408.0,2201.1L406.0,2201.5L404.0,2201.9L403.2,2202.0L402.0,2202.2L400.0,2202.4L398.0,2202.6L396.0,2202.8L394.0,2202.8L392.0,2202.8L390.0,2202.8L388.0,2202.8L386.0,2202.6L384.0,2202.5L382.0,2202.3L380.0,2202.1L379.2,2202.0L378.0,2201.9L376.0,2201.6L374.0,2201.3L372.0,2201.0L370.0,2200.7L368.0,2200.4L366.0,2200.1L365.0,2200.0L364.0,2199.8L362.0,2199.6L360.0,2199.3L358.0,2199.0L356.0,2198.8L354.0,2198.5L352.0,2198.3L350.0,2198.1L348.6,2198.0L348.0,2198.0L346.0,2197.8L344.0,2197.7L342.0,2197.6L340.0,2197.5L338.0,2197.4L336.0,2197.3L334.0,2197.3L332.0,2197.3L330.0,2197.3L328.0,2197.3L326.0,2197.4L324.0,2197.4L322.0,2197.5L320.0,2197.6L318.0,2197.7L316.0,2197.8L314.0,2197.9L313.2,2198.0L312.0,2198.1L310.0,2198.2L308.0,2198.4L306.0,2198.5L304.0,2198.7L302.0,2198.8L300.0,2199.0L298.0,2199.1L296.0,2199.3L294.0,2199.4L292.0,2199.5L290.0,2199.6L288.0,2199.7L286.0,2199.8L284.0,2199.9L282.0,2199.9L280.0,2199.9L278.0,2199.8L276.0,2199.8L274.0,2199.6L272.0,2199.5L270.0,2199.2L268.0,2198.9L266.0,2198.5L264.0,2198.0L263.8,2198.0L262.0,2197.5L260.0,2196.7L258.2,2196.0L258.0,2195.9L256.0,2194.8L254.7,2194.0L254.0,2193.5L252.2,2192.0L252.0,2191.8L250.3,2190.0L250.0,2189.6L248.9,2188.0L248.0,2186.4L247.8,2186.0L247.0,2184.0L246.5,2182.0L246.1,2180.0L246.0,2179.2L245.9,2178.0L245.8,2176.0L245.8,2174.0L246.0,2172.0L246.0,2171.8L246.2,2170.0L246.5,2168.0L246.9,2166.0L247.3,2164.0L247.8,2162.0L248.0,2161.2L248.3,2160.0L248.8,2158.0L249.4,2156.0L250.0,2154.1L250.0,2154.0L250.7,2152.0L251.3,2150.0L252.0,2148.0L252.0,2148.0L252.7,2146.0L253.4,2144.0L254.0,2142.4L254.1,2142.0L254.9,2140.0L255.7,2138.0L256.0,2137.1L256.4,2136.0L257.3,2134.0L258.0,2132.3L258.1,2132.0L259.0,2130.0L259.9,2128.0L260.0,2127.8L260.8,2126.0L261.8,2124.0L262.0,2123.6L262.8,2122.0L263.9,2120.0L264.0,2119.9L265.0,2118.0L266.0,2116.4L266.2,2116.0L267.5,2114.0L268.0,2113.2L268.8,2112.0L270.0,2110.2L270.1,2110.0L271.6,2108.0L272.0,2107.4L273.1,2106.0L274.0,2104.8L274.7,2104.0L276.0,2102.4L276.3,2102.0L278.0,2100.1L278.1,2100.0L279.9,2098.0L280.0,2097.9L281.7,2096.0L282.0,2095.7L283.7,2094.0L284.0,2093.7L285.8,2092.0L286.0,2091.8L287.9,2090.0L288.0,2089.9L290.0,2088.1L290.1,2088.0L292.0,2086.4L292.4,2086.0L294.0,2084.7L294.8,2084.0L296.0,2083.0L297.2,2082.0L298.0,2081.4L299.8,2080.0L300.0,2079.8L302.0,2078.3L302.4,2078.0L304.0,2076.8L305.1,2076.0L306.0,2075.3L307.8,2074.0L308.0,2073.9L310.0,2072.5L310.7,2072.0L312.0,2071.1L313.6,2070.0L314.0,2069.7L316.0,2068.4L316.6,2068.0L318.0,2067.1L319.7,2066.0L320.0,2065.8L322.0,2064.6L322.9,2064.0L324.0,2063.3L326.0,2062.1L326.2,2062.0L328.0,2060.9L329.6,2060.0L330.0,2059.8L332.0,2058.6L333.1,2058.0L334.0,2057.5L336.0,2056.4L336.8,2056.0L338.0,2055.3L340.0,2054.3L340.6,2054.0L342.0,2053.3L344.0,2052.3L344.7,2052.0L346.0,2051.4L348.0,2050.4L349.0,2050.0L350.0,2049.5L352.0,2048.7L353.7,2048.0L354.0,2047.9L356.0,2047.1L358.0,2046.3L358.9,2046.0L360.0,2045.6L362.0,2044.9L364.0,2044.3L364.9,2044.0L366.0,2043.7L368.0,2043.1L370.0,2042.6L372.0,2042.1L372.3,2042.0L374.0,2041.6L376.0,2041.2L378.0,2040.9L380.0,2040.6L382.0,2040.3L384.0,2040.0L384.5,2040.0Z" fill="#717fc0" stroke="#717fc0" stroke-width="0.6" fill-rule="evenodd"/>
<path d="M372.0,2049.7L374.0,2049.5L376.0,2049.2L378.0,2049.1L380.0,2048.9L382.0,2048.9L384.0,2048.8L386.0,2048.9L388.0,2049.0L390.0,2049.1L392.0,2049.3L394.0,2049.5L396.0,2049.8L397.3,2050.0L398.0,2050.1L400.0,2050.5L402.0,2051.0L404.0,2051.5L405.8,2052.0L406.0,2052.0L408.0,2052.7L410.0,2053.4L411.7,2054.0L412.0,2054.1L414.0,2054.9L416.0,2055.8L416.3,2056.0L418.0,2056.8L420.0,2057.9L420.2,2058.0L422.0,2059.1L423.5,2060.0L424.0,2060.4L426.0,2061.8L426.3,2062.0L428.0,2063.4L428.8,2064.0L430.0,2065.1L430.9,2066.0L432.0,2067.1L432.8,2068.0L434.0,2069.4L434.5,2070.0L435.9,2072.0L436.0,2072.2L437.1,2074.0L438.0,2075.6L438.2,2076.0L439.1,2078.0L439.9,2080.0L440.0,2080.2L440.6,2082.0L441.2,2084.0L441.7,2086.0L442.0,2087.6L442.1,2088.0L442.4,2090.0L442.6,2092.0L442.8,2094.0L443.0,2096.0L443.0,2098.0L443.1,2100.0L443.1,2102.0L443.0,2104.0L442.9,2106.0L442.8,2108.0L442.7,2110.0L442.6,2112.0L442.4,2114.0L442.2,2116.0L442.0,2118.0L442.0,2118.0L441.8,2120.0L441.6,2122.0L441.3,2124.0L441.0,2126.0L440.8,2128.0L440.5,2130.0L440.2,2132.0L440.0,2133.2L439.9,2134.0L439.6,2136.0L439.2,2138.0L438.8,2140.0L438.4,2142.0L438.0,2144.0L438.0,2144.0L437.6,2146.0L437.1,2148.0L436.5,2150.0L436.0,2151.8L435.9,2152.0L435.3,2154.0L434.6,2156.0L434.0,2157.6L433.9,2158.0L433.0,2160.0L432.1,2162.0L432.0,2162.2L431.1,2164.0L430.0,2165.9L429.9,2166.0L428.7,2168.0L428.0,2169.0L427.3,2170.0L426.0,2171.6L425.7,2172.0L424.0,2173.9L423.9,2174.0L422.0,2175.9L421.9,2176.0L420.0,2177.7L419.6,2178.0L418.0,2179.2L416.9,2180.0L416.0,2180.6L414.0,2181.8L413.7,2182.0L412.0,2182.9L410.0,2183.8L409.6,2184.0L408.0,2184.6L406.0,2185.4L404.0,2186.0L403.9,2186.0L402.0,2186.5L400.0,2186.9L398.0,2187.3L396.0,2187.6L394.0,2187.9L392.4,2188.0L392.0,2188.0L390.0,2188.2L388.0,2188.2L386.0,2188.3L384.0,2188.3L382.0,2188.3L380.0,2188.2L378.0,2188.2L376.0,2188.1L374.0,2188.0L373.9,2188.0L372.0,2187.9L370.0,2187.8L368.0,2187.7L366.0,2187.6L364.0,2187.5L362.0,2187.4L360.0,2187.3L358.0,2187.2L356.0,2187.2L354.0,2187.1L352.0,2187.0L350.0,2187.0L348.0,2187.0L346.0,2187.0L344.0,2187.0L342.0,2187.0L340.0,2187.0L338.0,2187.0L336.0,2187.0L334.0,2187.1L332.0,2187.1L330.0,2187.2L328.0,2187.3L326.0,2187.4L324.0,2187.4L322.0,2187.5L320.0,2187.6L318.0,2187.7L316.0,2187.8L314.0,2187.9L312.0,2188.0L310.9,2188.0L310.0,2188.0L308.0,2188.1L306.0,2188.2L304.0,2188.2L302.0,2188.3L300.0,2188.3L298.0,2188.3L296.0,2188.3L294.0,2188.3L292.0,2188.2L290.0,2188.1L288.6,2188.0L288.0,2188.0L286.0,2187.8L284.0,2187.5L282.0,2187.2L280.0,2186.8L278.0,2186.3L276.9,2186.0L276.0,2185.7L274.0,2185.0L272.0,2184.0L271.9,2184.0L270.0,2182.9L268.8,2182.0L268.0,2181.4L266.5,2180.0L266.0,2179.4L264.9,2178.0L264.0,2176.5L263.7,2176.0L262.8,2174.0L262.2,2172.0L262.0,2171.3L261.7,2170.0L261.4,2168.0L261.3,2166.0L261.2,2164.0L261.2,2162.0L261.4,2160.0L261.5,2158.0L261.8,2156.0L262.0,2154.5L262.1,2154.0L262.4,2152.0L262.8,2150.0L263.2,2148.0L263.6,2146.0L264.0,2144.5L264.1,2144.0L264.6,2142.0L265.2,2140.0L265.8,2138.0L266.0,2137.2L266.4,2136.0L267.0,2134.0L267.7,2132.0L268.0,2131.1L268.4,2130.0L269.2,2128.0L270.0,2126.0L270.0,2126.0L270.8,2124.0L271.7,2122.0L272.0,2121.5L272.7,2120.0L273.7,2118.0L274.0,2117.5L274.8,2116.0L275.9,2114.0L276.0,2113.9L277.2,2112.0L278.0,2110.7L278.4,2110.0L279.8,2108.0L280.0,2107.7L281.2,2106.0L282.0,2105.0L282.7,2104.0L284.0,2102.4L284.3,2102.0L286.0,2100.0L286.0,2100.0L287.7,2098.0L288.0,2097.7L289.6,2096.0L290.0,2095.6L291.5,2094.0L292.0,2093.5L293.5,2092.0L294.0,2091.6L295.6,2090.0L296.0,2089.7L297.8,2088.0L298.0,2087.9L300.0,2086.1L300.1,2086.0L302.0,2084.4L302.5,2084.0L304.0,2082.8L305.0,2082.0L306.0,2081.2L307.6,2080.0L308.0,2079.7L310.0,2078.2L310.3,2078.0L312.0,2076.8L313.1,2076.0L314.0,2075.4L316.0,2074.0L316.0,2074.0L318.0,2072.6L319.0,2072.0L320.0,2071.3L322.0,2070.1L322.1,2070.0L324.0,2068.8L325.4,2068.0L326.0,2067.6L328.0,2066.5L328.8,2066.0L330.0,2065.3L332.0,2064.2L332.4,2064.0L334.0,2063.1L336.0,2062.1L336.2,2062.0L338.0,2061.1L340.0,2060.1L340.2,2060.0L342.0,2059.2L344.0,2058.3L344.6,2058.0L346.0,2057.4L348.0,2056.6L349.4,2056.0L350.0,2055.8L352.0,2055.0L354.0,2054.3L354.8,2054.0L356.0,2053.6L358.0,2053.0L360.0,2052.4L361.4,2052.0L362.0,2051.8L364.0,2051.3L366.0,2050.9L368.0,2050.4L370.0,2050.1L370.4,2050.0Z" fill="#5d6eb7" stroke="#5d6eb7" stroke-width="0.6" fill-rule="evenodd"/>
<path d="M368.0,2057.8L370.0,2057.6L372.0,2057.4L374.0,2057.3L376.0,2057.3L378.0,2057.3L380.0,2057.4L382.0,2057.5L384.0,2057.7L386.0,2058.0L386.0,2058.0L388.0,2058.3L390.0,2058.7L392.0,2059.2L394.0,2059.8L394.7,2060.0L396.0,2060.4L398.0,2061.1L400.0,2061.9L400.1,2062.0L402.0,2062.8L404.0,2063.8L404.3,2064.0L406.0,2065.0L407.7,2066.0L408.0,2066.2L410.0,2067.6L410.5,2068.0L412.0,2069.2L413.0,2070.0L414.0,2070.9L415.1,2072.0L416.0,2072.9L417.0,2074.0L418.0,2075.3L418.6,2076.0L420.0,2078.0L420.0,2078.0L421.2,2080.0L422.0,2081.4L422.3,2082.0L423.2,2084.0L424.0,2085.9L424.0,2086.0L424.7,2088.0L425.3,2090.0L425.8,2092.0L426.0,2092.9L426.2,2094.0L426.5,2096.0L426.8,2098.0L427.0,2100.0L427.1,2102.0L427.1,2104.0L427.2,2106.0L427.1,2108.0L427.0,2110.0L426.9,2112.0L426.8,2114.0L426.6,2116.0L426.3,2118.0L426.0,2120.0L426.0,2120.3L425.7,2122.0L425.4,2124.0L425.1,2126.0L424.7,2128.0L424.2,2130.0L424.0,2131.0L423.8,2132.0L423.3,2134.0L422.7,2136.0L422.2,2138.0L422.0,2138.5L421.5,2140.0L420.9,2142.0L420.1,2144.0L420.0,2144.4L419.3,2146.0L418.5,2148.0L418.0,2149.0L417.5,2150.0L416.5,2152.0L416.0,2152.8L415.3,2154.0L414.0,2156.0L414.0,2156.0L412.5,2158.0L412.0,2158.6L410.8,2160.0L410.0,2160.9L408.9,2162.0L408.0,2162.8L406.6,2164.0L406.0,2164.5L404.0,2166.0L403.9,2166.0L402.0,2167.2L400.6,2168.0L400.0,2168.3L398.0,2169.3L396.4,2170.0L396.0,2170.2L394.0,2170.9L392.0,2171.5L390.4,2172.0L390.0,2172.1L388.0,2172.6L386.0,2173.1L384.0,2173.5L382.0,2173.8L380.9,2174.0L380.0,2174.1L378.0,2174.4L376.0,2174.7L374.0,2174.9L372.0,2175.1L370.0,2175.3L368.0,2175.4L366.0,2175.6L364.0,2175.7L362.0,2175.9L360.2,2176.0L360.0,2176.0L358.0,2176.1L356.0,2176.3L354.0,2176.4L352.0,2176.5L350.0,2176.6L348.0,2176.7L346.0,2176.8L344.0,2176.9L342.0,2177.0L340.0,2177.1L338.0,2177.2L336.0,2177.3L334.0,2177.4L332.0,2177.5L330.0,2177.6L328.0,2177.7L326.0,2177.7L324.0,2177.8L322.0,2177.8L320.0,2177.9L318.0,2177.9L316.0,2177.9L314.0,2177.9L312.0,2177.9L310.0,2177.8L308.0,2177.7L306.0,2177.6L304.0,2177.5L302.0,2177.3L300.0,2177.1L298.0,2176.8L296.0,2176.4L294.0,2176.0L293.9,2176.0L292.0,2175.5L290.0,2174.9L288.0,2174.1L287.7,2174.0L286.0,2173.2L284.0,2172.0L284.0,2172.0L282.0,2170.5L281.4,2170.0L280.0,2168.6L279.5,2168.0L278.1,2166.0L278.0,2165.9L277.0,2164.0L276.2,2162.0L276.0,2161.5L275.5,2160.0L275.1,2158.0L274.8,2156.0L274.6,2154.0L274.4,2152.0L274.4,2150.0L274.5,2148.0L274.6,2146.0L274.8,2144.0L275.0,2142.0L275.3,2140.0L275.6,2138.0L276.0,2136.2L276.0,2136.0L276.5,2134.0L277.0,2132.0L277.5,2130.0L278.0,2128.5L278.2,2128.0L278.8,2126.0L279.6,2124.0L280.0,2122.9L280.3,2122.0L281.2,2120.0L282.0,2118.2L282.1,2118.0L283.1,2116.0L284.0,2114.3L284.2,2114.0L285.3,2112.0L286.0,2110.8L286.5,2110.0L287.8,2108.0L288.0,2107.7L289.2,2106.0L290.0,2104.9L290.6,2104.0L292.0,2102.2L292.2,2102.0L293.8,2100.0L294.0,2099.8L295.6,2098.0L296.0,2097.5L297.4,2096.0L298.0,2095.4L299.3,2094.0L300.0,2093.3L301.4,2092.0L302.0,2091.4L303.5,2090.0L304.0,2089.6L305.8,2088.0L306.0,2087.8L308.0,2086.1L308.1,2086.0L310.0,2084.5L310.6,2084.0L312.0,2082.9L313.2,2082.0L314.0,2081.4L315.9,2080.0L316.0,2080.0L318.0,2078.6L318.8,2078.0L320.0,2077.2L321.8,2076.0L322.0,2075.9L324.0,2074.6L325.0,2074.0L326.0,2073.4L328.0,2072.2L328.4,2072.0L330.0,2071.1L332.0,2070.0L332.0,2070.0L334.0,2069.0L335.9,2068.0L336.0,2067.9L338.0,2067.0L340.0,2066.0L340.1,2066.0L342.0,2065.2L344.0,2064.3L344.8,2064.0L346.0,2063.5L348.0,2062.8L350.0,2062.0L350.1,2062.0L352.0,2061.4L354.0,2060.8L356.0,2060.2L356.7,2060.0L358.0,2059.7L360.0,2059.2L362.0,2058.8L364.0,2058.4L366.0,2058.1L366.5,2058.0Z" fill="#4b60af" stroke="#4b60af" stroke-width="0.6" fill-rule="evenodd"/>
<path d="M362.0,2065.9L364.0,2065.7L366.0,2065.6L368.0,2065.5L370.0,2065.4L372.0,2065.4L374.0,2065.6L376.0,2065.7L378.0,2066.0L378.1,2066.0L380.0,2066.3L382.0,2066.8L384.0,2067.3L386.0,2067.9L386.4,2068.0L388.0,2068.6L390.0,2069.4L391.3,2070.0L392.0,2070.3L394.0,2071.4L395.0,2072.0L396.0,2072.6L398.0,2074.0L398.0,2074.0L400.0,2075.6L400.4,2076.0L402.0,2077.5L402.5,2078.0L404.0,2079.6L404.3,2080.0L405.8,2082.0L406.0,2082.2L407.2,2084.0L408.0,2085.4L408.3,2086.0L409.3,2088.0L410.0,2089.7L410.1,2090.0L410.8,2092.0L411.4,2094.0L411.9,2096.0L412.0,2096.6L412.3,2098.0L412.5,2100.0L412.7,2102.0L412.9,2104.0L412.9,2106.0L412.9,2108.0L412.8,2110.0L412.6,2112.0L412.4,2114.0L412.1,2116.0L412.0,2116.8L411.8,2118.0L411.4,2120.0L410.9,2122.0L410.4,2124.0L410.0,2125.5L409.8,2126.0L409.2,2128.0L408.5,2130.0L408.0,2131.3L407.7,2132.0L406.9,2134.0L406.0,2135.9L405.9,2136.0L404.9,2138.0L404.0,2139.6L403.8,2140.0L402.5,2142.0L402.0,2142.8L401.1,2144.0L400.0,2145.4L399.6,2146.0L398.0,2147.8L397.8,2148.0L396.0,2149.8L395.8,2150.0L394.0,2151.6L393.5,2152.0L392.0,2153.2L390.9,2154.0L390.0,2154.6L388.0,2155.9L387.8,2156.0L386.0,2157.0L384.0,2158.0L384.0,2158.0L382.0,2158.9L380.0,2159.8L379.4,2160.0L378.0,2160.5L376.0,2161.2L374.0,2161.8L373.5,2162.0L372.0,2162.4L370.0,2163.0L368.0,2163.5L366.0,2163.9L365.6,2164.0L364.0,2164.3L362.0,2164.7L360.0,2165.1L358.0,2165.4L356.0,2165.8L354.3,2166.0L354.0,2166.0L352.0,2166.3L350.0,2166.6L348.0,2166.8L346.0,2167.0L344.0,2167.2L342.0,2167.4L340.0,2167.6L338.0,2167.7L336.0,2167.8L334.0,2167.9L332.5,2168.0L332.0,2168.0L330.0,2168.1L328.0,2168.1L326.0,2168.1L324.0,2168.1L322.0,2168.1L320.0,2168.0L319.8,2168.0L318.0,2167.9L316.0,2167.7L314.0,2167.6L312.0,2167.3L310.0,2167.0L308.0,2166.6L306.0,2166.2L305.3,2166.0L304.0,2165.6L302.0,2165.0L300.0,2164.2L299.6,2164.0L298.0,2163.2L296.0,2162.0L296.0,2162.0L294.0,2160.5L293.4,2160.0L292.0,2158.6L291.4,2158.0L290.0,2156.1L289.9,2156.0L288.8,2154.0L288.0,2152.3L287.9,2152.0L287.2,2150.0L286.7,2148.0L286.3,2146.0L286.0,2144.0L286.0,2143.9L285.9,2142.0L285.8,2140.0L285.8,2138.0L286.0,2136.0L286.0,2135.7L286.2,2134.0L286.5,2132.0L286.8,2130.0L287.2,2128.0L287.8,2126.0L288.0,2125.1L288.3,2124.0L289.0,2122.0L289.7,2120.0L290.0,2119.3L290.5,2118.0L291.4,2116.0L292.0,2114.9L292.4,2114.0L293.5,2112.0L294.0,2111.1L294.6,2110.0L295.9,2108.0L296.0,2107.8L297.2,2106.0L298.0,2104.9L298.7,2104.0L300.0,2102.3L300.2,2102.0L301.9,2100.0L302.0,2099.9L303.6,2098.0L304.0,2097.6L305.5,2096.0L306.0,2095.5L307.5,2094.0L308.0,2093.5L309.6,2092.0L310.0,2091.7L311.9,2090.0L312.0,2089.9L314.0,2088.2L314.3,2088.0L316.0,2086.6L316.8,2086.0L318.0,2085.1L319.5,2084.0L320.0,2083.6L322.0,2082.3L322.4,2082.0L324.0,2080.9L325.5,2080.0L326.0,2079.7L328.0,2078.5L328.8,2078.0L330.0,2077.3L332.0,2076.2L332.4,2076.0L334.0,2075.1L336.0,2074.1L336.3,2074.0L338.0,2073.2L340.0,2072.3L340.7,2072.0L342.0,2071.4L344.0,2070.7L345.8,2070.0L346.0,2069.9L348.0,2069.2L350.0,2068.6L352.0,2068.0L352.0,2068.0L354.0,2067.5L356.0,2067.0L358.0,2066.6L360.0,2066.2L361.7,2066.0Z" fill="#3b55a9" stroke="#3b55a9" stroke-width="0.6" fill-rule="evenodd"/>
<path d="M354.0,2075.6L356.0,2075.3L358.0,2075.0L360.0,2074.8L362.0,2074.7L364.0,2074.7L366.0,2074.7L368.0,2074.9L370.0,2075.1L372.0,2075.5L374.0,2075.9L374.4,2076.0L376.0,2076.4L378.0,2077.1L380.0,2077.9L380.1,2078.0L382.0,2078.9L383.9,2080.0L384.0,2080.1L386.0,2081.4L386.7,2082.0L388.0,2083.1L389.0,2084.0L390.0,2085.0L390.9,2086.0L392.0,2087.4L392.4,2088.0L393.7,2090.0L394.0,2090.5L394.8,2092.0L395.7,2094.0L396.0,2094.9L396.4,2096.0L397.0,2098.0L397.4,2100.0L397.7,2102.0L397.9,2104.0L398.0,2105.9L398.0,2106.0L398.0,2106.5L398.0,2108.0L397.9,2110.0L397.7,2112.0L397.4,2114.0L397.0,2116.0L396.5,2118.0L396.0,2119.6L395.9,2120.0L395.2,2122.0L394.4,2124.0L394.0,2125.0L393.5,2126.0L392.5,2128.0L392.0,2129.0L391.4,2130.0L390.2,2132.0L390.0,2132.2L388.7,2134.0L388.0,2135.0L387.2,2136.0L386.0,2137.3L385.4,2138.0L384.0,2139.4L383.4,2140.0L382.0,2141.3L381.1,2142.0L380.0,2142.9L378.6,2144.0L378.0,2144.4L376.0,2145.7L375.6,2146.0L374.0,2146.9L372.1,2148.0L372.0,2148.0L370.0,2149.0L368.0,2149.9L367.9,2150.0L366.0,2150.8L364.0,2151.5L362.7,2152.0L362.0,2152.2L360.0,2152.9L358.0,2153.5L356.1,2154.0L356.0,2154.0L354.0,2154.5L352.0,2154.9L350.0,2155.3L348.0,2155.7L346.2,2156.0L346.0,2156.0L344.0,2156.3L342.0,2156.5L340.0,2156.7L338.0,2156.9L336.0,2157.0L334.0,2157.1L332.0,2157.1L330.0,2157.1L328.0,2157.0L326.0,2156.9L324.0,2156.7L322.0,2156.5L320.0,2156.2L319.2,2156.0L318.0,2155.8L316.0,2155.2L314.0,2154.6L312.3,2154.0L312.0,2153.9L310.0,2152.9L308.3,2152.0L308.0,2151.8L306.0,2150.4L305.5,2150.0L304.0,2148.6L303.5,2148.0L302.0,2146.1L301.9,2146.0L300.7,2144.0L300.0,2142.6L299.7,2142.0L299.0,2140.0L298.5,2138.0L298.2,2136.0L298.0,2134.5L298.0,2134.0L297.9,2132.0L297.9,2130.0L298.0,2129.0L298.1,2128.0L298.4,2126.0L298.7,2124.0L299.2,2122.0L299.8,2120.0L300.0,2119.4L300.5,2118.0L301.3,2116.0L302.0,2114.4L302.2,2114.0L303.2,2112.0L304.0,2110.5L304.3,2110.0L305.5,2108.0L306.0,2107.3L306.9,2106.0L308.0,2104.4L308.3,2104.0L309.9,2102.0L310.0,2101.9L311.6,2100.0L312.0,2099.6L313.5,2098.0L314.0,2097.5L315.5,2096.0L316.0,2095.6L317.7,2094.0L318.0,2093.7L320.0,2092.0L320.1,2092.0L322.0,2090.5L322.6,2090.0L324.0,2089.0L325.4,2088.0L326.0,2087.6L328.0,2086.3L328.4,2086.0L330.0,2085.0L331.8,2084.0L332.0,2083.9L334.0,2082.8L335.5,2082.0L336.0,2081.8L338.0,2080.8L339.8,2080.0L340.0,2079.9L342.0,2079.1L344.0,2078.4L345.1,2078.0L346.0,2077.7L348.0,2077.1L350.0,2076.5L352.0,2076.0L352.2,2076.0Z" fill="#2e4fa5" stroke="#2e4fa5" stroke-width="0.6" fill-rule="evenodd"/>
</g>
<circle cx="291.7" cy="1857.2" r="4.6" fill="#fff" stroke="#6a6a6a" stroke-width="0.9"/>
<circle cx="257.0" cy="1863.8" r="4.6" fill="#fff" stroke="#6a6a6a" stroke-width="0.9"/>
<circle cx="265.3" cy="1863.8" r="4.6" fill="#fff" stroke="#6a6a6a" stroke-width="0.9"/>
<circle cx="330.7" cy="1859.2" r="4.6" fill="#fff" stroke="#6a6a6a" stroke-width="0.9"/>
<circle cx="341.9" cy="1868.1" r="4.6" fill="#fff" stroke="#6a6a6a" stroke-width="0.9"/>
<circle cx="261.3" cy="1873.0" r="4.6" fill="#fff" stroke="#6a6a6a" stroke-width="0.9"/>
<circle cx="295.0" cy="1874.7" r="4.6" fill="#fff" stroke="#6a6a6a" stroke-width="0.9"/>
<circle cx="330.7" cy="1872.0" r="4.6" fill="#fff" stroke="#6a6a6a" stroke-width="0.9"/>
<circle cx="367.7" cy="1869.7" r="4.6" fill="#fff" stroke="#6a6a6a" stroke-width="0.9"/>
<circle cx="370.0" cy="1879.0" r="4.6" fill="#fff" stroke="#6a6a6a" stroke-width="0.9"/>
<circle cx="386.8" cy="1877.0" r="4.6" fill="#fff" stroke="#6a6a6a" stroke-width="0.9"/>
<circle cx="223.0" cy="1877.3" r="4.6" fill="#fff" stroke="#6a6a6a" stroke-width="0.9"/>
<circle cx="231.3" cy="1875.7" r="4.6" fill="#fff" stroke="#6a6a6a" stroke-width="0.9"/>
<circle cx="261.3" cy="1890.2" r="4.6" fill="#fff" stroke="#6a6a6a" stroke-width="0.9"/>
<circle cx="294.4" cy="1892.2" r="4.6" fill="#fff" stroke="#6a6a6a" stroke-width="0.9"/>
<circle cx="334.0" cy="1883.9" r="4.6" fill="#fff" stroke="#6a6a6a" stroke-width="0.9"/>
<circle cx="410.0" cy="1881.3" r="4.6" fill="#fff" stroke="#6a6a6a" stroke-width="0.9"/>
<circle cx="413.3" cy="1891.2" r="4.6" fill="#fff" stroke="#6a6a6a" stroke-width="0.9"/>
<circle cx="425.5" cy="1890.2" r="4.6" fill="#fff" stroke="#6a6a6a" stroke-width="0.9"/>
<circle cx="229.0" cy="1892.2" r="4.6" fill="#fff" stroke="#6a6a6a" stroke-width="0.9"/>
<circle cx="199.3" cy="1897.8" r="4.6" fill="#fff" stroke="#6a6a6a" stroke-width="0.9"/>
<circle cx="188.7" cy="1906.0" r="4.6" fill="#fff" stroke="#6a6a6a" stroke-width="0.9"/>
<circle cx="176.1" cy="1912.0" r="4.6" fill="#fff" stroke="#6a6a6a" stroke-width="0.9"/>
<circle cx="339.6" cy="1905.4" r="4.6" fill="#fff" stroke="#6a6a6a" stroke-width="0.9"/>
<circle cx="208.5" cy="1918.6" r="4.6" fill="#fff" stroke="#6a6a6a" stroke-width="0.9"/>
<circle cx="240.5" cy="1917.0" r="4.6" fill="#fff" stroke="#6a6a6a" stroke-width="0.9"/>
<circle cx="271.9" cy="1917.6" r="4.6" fill="#fff" stroke="#6a6a6a" stroke-width="0.9"/>
<circle cx="384.9" cy="1919.9" r="4.6" fill="#fff" stroke="#6a6a6a" stroke-width="0.9"/>
<circle cx="417.9" cy="1915.3" r="4.6" fill="#fff" stroke="#6a6a6a" stroke-width="0.9"/>
<circle cx="167.9" cy="1927.5" r="4.6" fill="#fff" stroke="#6a6a6a" stroke-width="0.9"/>
<circle cx="159.6" cy="1935.8" r="4.6" fill="#fff" stroke="#6a6a6a" stroke-width="0.9"/>
<circle cx="149.7" cy="1951.6" r="4.6" fill="#fff" stroke="#6a6a6a" stroke-width="0.9"/>
<circle cx="151.4" cy="1956.2" r="4.6" fill="#fff" stroke="#6a6a6a" stroke-width="0.9"/>
<circle cx="149.7" cy="1966.2" r="4.6" fill="#fff" stroke="#6a6a6a" stroke-width="0.9"/>
<circle cx="167.9" cy="1953.0" r="4.6" fill="#fff" stroke="#6a6a6a" stroke-width="0.9"/>
<circle cx="197.9" cy="1951.6" r="4.6" fill="#fff" stroke="#6a6a6a" stroke-width="0.9"/>
<circle cx="233.9" cy="1946.3" r="4.6" fill="#fff" stroke="#6a6a6a" stroke-width="0.9"/>
<circle cx="270.3" cy="1952.3" r="4.6" fill="#fff" stroke="#6a6a6a" stroke-width="0.9"/>
<circle cx="326.4" cy="1957.9" r="4.6" fill="#fff" stroke="#6a6a6a" stroke-width="0.9"/>
<circle cx="435.4" cy="1949.0" r="4.6" fill="#fff" stroke="#6a6a6a" stroke-width="0.9"/>
<circle cx="138.2" cy="1982.7" r="4.6" fill="#fff" stroke="#6a6a6a" stroke-width="0.9"/>
<circle cx="170.2" cy="1986.0" r="4.6" fill="#fff" stroke="#6a6a6a" stroke-width="0.9"/>
<circle cx="203.2" cy="1988.6" r="4.6" fill="#fff" stroke="#6a6a6a" stroke-width="0.9"/>
<circle cx="241.2" cy="1978.7" r="4.6" fill="#fff" stroke="#6a6a6a" stroke-width="0.9"/>
<circle cx="296.7" cy="1982.0" r="4.6" fill="#fff" stroke="#6a6a6a" stroke-width="0.9"/>
<circle cx="366.0" cy="1970.4" r="4.6" fill="#fff" stroke="#6a6a6a" stroke-width="0.9"/>
<circle cx="419.9" cy="1978.0" r="4.6" fill="#fff" stroke="#6a6a6a" stroke-width="0.9"/>
<circle cx="267.0" cy="2008.4" r="4.6" fill="#fff" stroke="#6a6a6a" stroke-width="0.9"/>
<circle cx="390.1" cy="1998.5" r="4.6" fill="#fff" stroke="#6a6a6a" stroke-width="0.9"/>
<circle cx="133.2" cy="2014.4" r="4.6" fill="#fff" stroke="#6a6a6a" stroke-width="0.9"/>
<circle cx="181.8" cy="2020.6" r="4.6" fill="#fff" stroke="#6a6a6a" stroke-width="0.9"/>
<circle cx="305.6" cy="2025.6" r="4.6" fill="#fff" stroke="#6a6a6a" stroke-width="0.9"/>
<circle cx="435.4" cy="2021.0" r="4.6" fill="#fff" stroke="#6a6a6a" stroke-width="0.9"/>
<circle cx="132.5" cy="2031.5" r="4.6" fill="#fff" stroke="#6a6a6a" stroke-width="0.9"/>
<circle cx="164.6" cy="2034.2" r="4.6" fill="#fff" stroke="#6a6a6a" stroke-width="0.9"/>
<circle cx="144.8" cy="2046.4" r="4.6" fill="#fff" stroke="#6a6a6a" stroke-width="0.9"/>
<circle cx="209.8" cy="2050.4" r="4.6" fill="#fff" stroke="#6a6a6a" stroke-width="0.9"/>
<circle cx="262.7" cy="2045.4" r="4.6" fill="#fff" stroke="#6a6a6a" stroke-width="0.9"/>
<circle cx="356.1" cy="2039.8" r="4.6" fill="#fff" stroke="#6a6a6a" stroke-width="0.9"/>
<circle cx="397.4" cy="2034.8" r="4.6" fill="#fff" stroke="#6a6a6a" stroke-width="0.9"/>
<circle cx="134.9" cy="2063.9" r="4.6" fill="#fff" stroke="#6a6a6a" stroke-width="0.9"/>
<circle cx="181.8" cy="2065.6" r="4.6" fill="#fff" stroke="#6a6a6a" stroke-width="0.9"/>
<circle cx="312.2" cy="2065.2" r="4.6" fill="#fff" stroke="#6a6a6a" stroke-width="0.9"/>
<circle cx="362.7" cy="2077.1" r="4.6" fill="#fff" stroke="#6a6a6a" stroke-width="0.9"/>
<circle cx="145.8" cy="2076.1" r="4.6" fill="#fff" stroke="#6a6a6a" stroke-width="0.9"/>
<circle cx="163.9" cy="2079.4" r="4.6" fill="#fff" stroke="#6a6a6a" stroke-width="0.9"/>
<circle cx="238.9" cy="2073.8" r="4.6" fill="#fff" stroke="#6a6a6a" stroke-width="0.9"/>
<circle cx="210.8" cy="2091.0" r="4.6" fill="#fff" stroke="#6a6a6a" stroke-width="0.9"/>
<circle cx="280.8" cy="2092.6" r="4.6" fill="#fff" stroke="#6a6a6a" stroke-width="0.9"/>
<circle cx="146.4" cy="2094.3" r="4.6" fill="#fff" stroke="#6a6a6a" stroke-width="0.9"/>
<circle cx="166.9" cy="2107.3" r="4.6" fill="#fff" stroke="#6a6a6a" stroke-width="0.9"/>
<circle cx="148.3" cy="2113.0" r="4.6" fill="#fff" stroke="#6a6a6a" stroke-width="0.9"/>
<circle cx="165.6" cy="2124.6" r="4.6" fill="#fff" stroke="#6a6a6a" stroke-width="0.9"/>
<circle cx="196.1" cy="2132.0" r="4.6" fill="#fff" stroke="#6a6a6a" stroke-width="0.9"/>
<circle cx="228.3" cy="2130.3" r="4.6" fill="#fff" stroke="#6a6a6a" stroke-width="0.9"/>
<circle cx="166.4" cy="2142.7" r="4.6" fill="#fff" stroke="#6a6a6a" stroke-width="0.9"/>
<circle cx="192.1" cy="2148.4" r="4.6" fill="#fff" stroke="#6a6a6a" stroke-width="0.9"/>
<circle cx="192.9" cy="2166.7" r="4.6" fill="#fff" stroke="#6a6a6a" stroke-width="0.9"/>
<circle cx="224.3" cy="2171.2" r="4.6" fill="#fff" stroke="#6a6a6a" stroke-width="0.9"/>
<circle cx="220.6" cy="2201.4" r="4.6" fill="#fff" stroke="#6a6a6a" stroke-width="0.9"/>
<circle cx="260.5" cy="2203.9" r="4.6" fill="#fff" stroke="#6a6a6a" stroke-width="0.9"/>
<circle cx="259.0" cy="2219.5" r="4.6" fill="#fff" stroke="#6a6a6a" stroke-width="0.9"/>
<circle cx="295.7" cy="2232.6" r="4.6" fill="#fff" stroke="#6a6a6a" stroke-width="0.9"/>
<circle cx="336.5" cy="2241.8" r="4.6" fill="#fff" stroke="#6a6a6a" stroke-width="0.9"/>
<circle cx="300.6" cy="2215.8" r="4.6" fill="#fff" stroke="#6a6a6a" stroke-width="0.9"/>
<circle cx="310.0" cy="2199.9" r="4.6" fill="#fff" stroke="#6a6a6a" stroke-width="0.9"/>
<circle cx="265.5" cy="2186.0" r="4.6" fill="#fff" stroke="#6a6a6a" stroke-width="0.9"/>
<circle cx="270.4" cy="2169.9" r="4.6" fill="#fff" stroke="#6a6a6a" stroke-width="0.9"/>
<circle cx="267.2" cy="2148.9" r="4.6" fill="#fff" stroke="#6a6a6a" stroke-width="0.9"/>
<circle cx="293.9" cy="2130.8" r="4.6" fill="#fff" stroke="#6a6a6a" stroke-width="0.9"/>
<circle cx="314.2" cy="2163.3" r="4.6" fill="#fff" stroke="#6a6a6a" stroke-width="0.9"/>
<circle cx="328.6" cy="2104.3" r="4.6" fill="#fff" stroke="#6a6a6a" stroke-width="0.9"/>
<circle cx="339.0" cy="2139.0" r="4.6" fill="#fff" stroke="#6a6a6a" stroke-width="0.9"/>
<circle cx="469.5" cy="1969.3" r="4.6" fill="#fff" stroke="#6a6a6a" stroke-width="0.9"/>
<circle cx="496.2" cy="1970.6" r="4.6" fill="#fff" stroke="#6a6a6a" stroke-width="0.9"/>
<circle cx="518.2" cy="1966.3" r="4.6" fill="#fff" stroke="#6a6a6a" stroke-width="0.9"/>
<circle cx="524.5" cy="1974.8" r="4.6" fill="#fff" stroke="#6a6a6a" stroke-width="0.9"/>
<circle cx="530.9" cy="1983.3" r="4.6" fill="#fff" stroke="#6a6a6a" stroke-width="0.9"/>
<circle cx="456.8" cy="1994.7" r="4.6" fill="#fff" stroke="#6a6a6a" stroke-width="0.9"/>
<circle cx="524.5" cy="1993.9" r="4.6" fill="#fff" stroke="#6a6a6a" stroke-width="0.9"/>
<circle cx="539.3" cy="2004.4" r="4.6" fill="#fff" stroke="#6a6a6a" stroke-width="0.9"/>
<circle cx="537.2" cy="2014.2" r="4.6" fill="#fff" stroke="#6a6a6a" stroke-width="0.9"/>
<circle cx="494.9" cy="2006.6" r="4.6" fill="#fff" stroke="#6a6a6a" stroke-width="0.9"/>
<circle cx="521.6" cy="2024.3" r="4.6" fill="#fff" stroke="#6a6a6a" stroke-width="0.9"/>
<circle cx="545.7" cy="2034.1" r="4.6" fill="#fff" stroke="#6a6a6a" stroke-width="0.9"/>
<circle cx="478.8" cy="2035.3" r="4.6" fill="#fff" stroke="#6a6a6a" stroke-width="0.9"/>
<circle cx="509.7" cy="2053.1" r="4.6" fill="#fff" stroke="#6a6a6a" stroke-width="0.9"/>
<circle cx="447.5" cy="2059.5" r="4.6" fill="#fff" stroke="#6a6a6a" stroke-width="0.9"/>
<circle cx="543.6" cy="2067.9" r="4.6" fill="#fff" stroke="#6a6a6a" stroke-width="0.9"/>
<circle cx="523.7" cy="2076.4" r="4.6" fill="#fff" stroke="#6a6a6a" stroke-width="0.9"/>
<circle cx="487.7" cy="2078.5" r="4.6" fill="#fff" stroke="#6a6a6a" stroke-width="0.9"/>
<circle cx="532.1" cy="2098.4" r="4.6" fill="#fff" stroke="#6a6a6a" stroke-width="0.9"/>
<circle cx="454.7" cy="2099.7" r="4.6" fill="#fff" stroke="#6a6a6a" stroke-width="0.9"/>
<circle cx="500.4" cy="2103.9" r="4.6" fill="#fff" stroke="#6a6a6a" stroke-width="0.9"/>
<circle cx="370.9" cy="2114.5" r="4.6" fill="#fff" stroke="#6a6a6a" stroke-width="0.9"/>
<circle cx="416.6" cy="2111.5" r="4.6" fill="#fff" stroke="#6a6a6a" stroke-width="0.9"/>
<circle cx="508.9" cy="2127.2" r="4.6" fill="#fff" stroke="#6a6a6a" stroke-width="0.9"/>
<circle cx="432.3" cy="2141.1" r="4.6" fill="#fff" stroke="#6a6a6a" stroke-width="0.9"/>
<circle cx="477.1" cy="2150.0" r="4.6" fill="#fff" stroke="#6a6a6a" stroke-width="0.9"/>
<circle cx="441.2" cy="2163.1" r="4.6" fill="#fff" stroke="#6a6a6a" stroke-width="0.9"/>
<circle cx="358.6" cy="2169.9" r="4.6" fill="#fff" stroke="#6a6a6a" stroke-width="0.9"/>
<circle cx="403.1" cy="2171.6" r="4.6" fill="#fff" stroke="#6a6a6a" stroke-width="0.9"/>
<circle cx="438.6" cy="2186.4" r="4.6" fill="#fff" stroke="#6a6a6a" stroke-width="0.9"/>
<circle cx="357.4" cy="2191.5" r="4.6" fill="#fff" stroke="#6a6a6a" stroke-width="0.9"/>
<circle cx="428.5" cy="2204.2" r="4.6" fill="#fff" stroke="#6a6a6a" stroke-width="0.9"/>
<circle cx="389.1" cy="2210.5" r="4.6" fill="#fff" stroke="#6a6a6a" stroke-width="0.9"/>
<circle cx="348.9" cy="2208.8" r="4.6" fill="#fff" stroke="#6a6a6a" stroke-width="0.9"/>
<circle cx="420.8" cy="2221.5" r="4.6" fill="#fff" stroke="#6a6a6a" stroke-width="0.9"/>
<circle cx="341.7" cy="2225.8" r="4.6" fill="#fff" stroke="#6a6a6a" stroke-width="0.9"/>
<circle cx="411.1" cy="2239.3" r="4.6" fill="#fff" stroke="#6a6a6a" stroke-width="0.9"/>
<circle cx="373.4" cy="2245.7" r="4.6" fill="#fff" stroke="#6a6a6a" stroke-width="0.9"/>
<circle cx="445.4" cy="1895.2" r="4.6" fill="#fff" stroke="#6a6a6a" stroke-width="0.9"/>
<circle cx="445.2" cy="1912.5" r="4.6" fill="#fff" stroke="#6a6a6a" stroke-width="0.9"/>
<circle cx="477.1" cy="1910.8" r="4.6" fill="#fff" stroke="#6a6a6a" stroke-width="0.9"/>
<circle cx="491.5" cy="1926.4" r="4.6" fill="#fff" stroke="#6a6a6a" stroke-width="0.9"/>
<circle cx="503.6" cy="1937.5" r="4.6" fill="#fff" stroke="#6a6a6a" stroke-width="0.9"/>
<circle cx="464.2" cy="1941.7" r="4.6" fill="#fff" stroke="#6a6a6a" stroke-width="0.9"/>
<circle cx="487.8" cy="1940.7" r="4.6" fill="#fff" stroke="#6a6a6a" stroke-width="0.9"/>
<circle cx="298.2" cy="1943.3" r="14.3" fill="#fff" stroke="#000" stroke-width="2.6"/>
<path d="M287,1943.3H309.4M298.2,1932.1V1954.5" stroke="#000" stroke-width="4.6"/>
<circle cx="391.2" cy="2089" r="14.3" fill="#fff" stroke="#000" stroke-width="2.6"/>
<path d="M380,2089H402.4" stroke="#000" stroke-width="4.6"/>
<path d="M307.3,2047.4L340.6,2024.3" stroke="#ea2d27" stroke-width="2.6"/><circle cx="307.3" cy="2047.4" r="5.8" fill="#ea2d27"/>
<path d="M492.3,1898.9H520" stroke="#000" stroke-width="2.4"/><polygon points="540,1898.9 517,1891.5 517,1906.3" fill="#000"/>
<polyline points="126.5,1751 68.1,2129.8 136.2,2098.9" fill="none" stroke="#000" stroke-width="2.5" stroke-dasharray="5.5,4"/>
<text x="0.0" y="1869.3" font-size="60.0" font-weight="bold" font-family="'Liberation Sans',sans-serif">e</text>
<text x="158.6" y="1845.0" font-size="24.9" font-family="'Liberation Sans',sans-serif">Right parietal (oblique) view</text>
<text x="453.0" y="1888.4" font-size="24.6" font-family="'Liberation Sans',sans-serif">Anterior</text>
<text x="38.0" y="2163.9" font-size="24.6" font-family="'Liberation Sans',sans-serif">Pick-up</text>
<text x="38.0" y="2193.6" font-size="24.6" font-family="'Liberation Sans',sans-serif">coils for</text>
<text x="38.0" y="2222.7" font-size="24.6" font-family="'Liberation Sans',sans-serif">superconducting</text>
<text x="38.0" y="2251.8" font-size="24.6" font-family="'Liberation Sans',sans-serif">MEG</text>
<text x="447.0" y="2206.0" font-size="24.6" font-family="'Liberation Sans',sans-serif">20 fT/step</text>
<text x="1.0" y="51.3" font-size="60.0" font-weight="bold" font-family="'Liberation Sans',sans-serif" transform="translate(1,0) scale(0.875,1) translate(-1,0)">a</text>
<text x="74.8" y="51.3" font-size="24.9" font-family="'Liberation Sans',sans-serif">Right parietal (oblique) view</text>
<text x="274.0" y="84.4" font-size="24.2" font-family="'Liberation Sans',sans-serif">Anterior</text>
<text x="51.5" y="266.0" font-size="24.0" font-family="'Liberation Sans',sans-serif">Sensing</text>
<text x="139.0" y="288.4" font-size="24.0" text-anchor="end" font-family="'Liberation Sans',sans-serif">axis</text>
<text x="83.5" y="421.0" font-size="24.5" font-family="'Liberation Sans',sans-serif">0 degree</text>
<text x="83.5" y="445.3" font-size="24.5" font-family="'Liberation Sans',sans-serif">(upward)</text>
<text x="140.5" y="484.0" font-size="24.6" font-family="'Liberation Sans',sans-serif">310</text>
<text x="62.0" y="516.3" font-size="24.6" font-family="'Liberation Sans',sans-serif">40</text>
<text x="135.5" y="614.6" font-size="24.6" font-family="'Liberation Sans',sans-serif">220</text>
<text x="508.0" y="50.8" font-size="58.0" font-weight="bold" font-family="'Liberation Sans',sans-serif">b</text>
<text x="531.0" y="95.4" font-size="24.0" font-family="'Liberation Sans',sans-serif">Sensing</text>
<text x="619.0" y="116.4" font-size="24.0" text-anchor="end" font-family="'Liberation Sans',sans-serif">axis</text>
<text x="897.0" y="182.6" font-size="24.0" font-family="'Liberation Sans',sans-serif">0.6 pT</text>
<text x="897.0" y="509.7" font-size="24.0" font-family="'Liberation Sans',sans-serif">0.1 pT</text>
<text x="588.5" y="614.6" font-size="24.6" font-family="'Liberation Sans',sans-serif">5 mm</text>
<text x="771.5" y="595.4" font-size="24.5" font-family="'Liberation Sans',sans-serif">Ten mesurament</text>
<text x="771.5" y="623.2" font-size="24.5" font-family="'Liberation Sans',sans-serif">sites</text>
</svg>
</body></html>
